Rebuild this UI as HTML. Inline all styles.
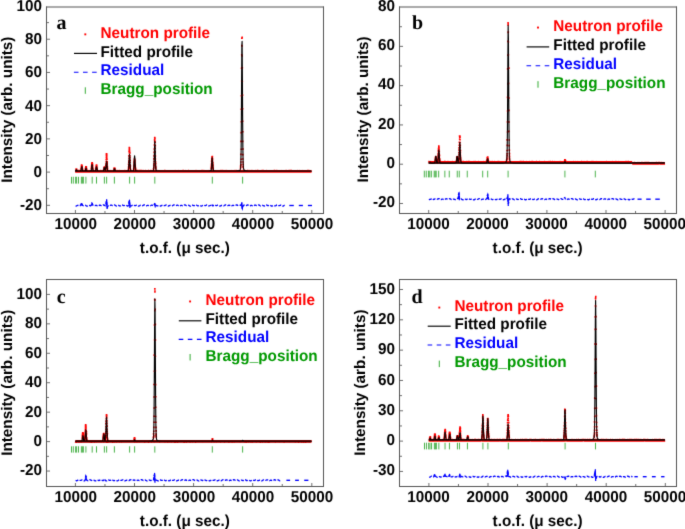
<!DOCTYPE html>
<html><head><meta charset="utf-8"><style>
html,body{margin:0;padding:0;background:#fff;}
body{width:685px;height:529px;overflow:hidden;font-family:"Liberation Sans",sans-serif;}
svg{display:block;}
</style></head><body>
<svg width="685" height="529" viewBox="0 0 685 529">
<defs><filter id="bl" x="0" y="0" width="100%" height="100%" filterUnits="userSpaceOnUse"><feConvolveMatrix order="3" kernelMatrix="0.01134 0.08382 0.01134 0.08382 0.61935 0.08382 0.01134 0.08382 0.01134" edgeMode="duplicate" preserveAlpha="false"/></filter></defs>
<rect width="685" height="529" fill="#fff"/>
<g filter="url(#bl)">
<rect x="46" y="6.5" width="278" height="1" fill="#555555"/>
<rect x="46" y="6.5" width="1" height="207.5" fill="#555555"/>
<rect x="323" y="6.5" width="1" height="207.5" fill="#555555"/>
<rect x="46" y="213" width="278" height="1" fill="#555555"/>
<rect x="47" y="204.82" width="3" height="1" fill="#6e6e6e"/>
<rect x="47" y="188.21" width="2" height="1" fill="#6e6e6e"/>
<rect x="47" y="171.6" width="3" height="1" fill="#6e6e6e"/>
<rect x="47" y="154.99" width="2" height="1" fill="#6e6e6e"/>
<rect x="47" y="138.38" width="3" height="1" fill="#6e6e6e"/>
<rect x="47" y="121.77" width="2" height="1" fill="#6e6e6e"/>
<rect x="47" y="105.16" width="3" height="1" fill="#6e6e6e"/>
<rect x="47" y="88.55" width="2" height="1" fill="#6e6e6e"/>
<rect x="47" y="71.94" width="3" height="1" fill="#6e6e6e"/>
<rect x="47" y="55.33" width="2" height="1" fill="#6e6e6e"/>
<rect x="47" y="38.72" width="3" height="1" fill="#6e6e6e"/>
<rect x="47" y="22.11" width="2" height="1" fill="#6e6e6e"/>
<text transform="translate(42.1,10.85) scale(1,1.03)" text-anchor="end" font-family="Liberation Sans, sans-serif" font-weight="bold" text-rendering="geometricPrecision" font-size="15.3" fill="#000">100</text>
<text transform="translate(42.1,44.07) scale(1,1.03)" text-anchor="end" font-family="Liberation Sans, sans-serif" font-weight="bold" text-rendering="geometricPrecision" font-size="15.3" fill="#000">80</text>
<text transform="translate(42.1,77.29) scale(1,1.03)" text-anchor="end" font-family="Liberation Sans, sans-serif" font-weight="bold" text-rendering="geometricPrecision" font-size="15.3" fill="#000">60</text>
<text transform="translate(42.1,110.51) scale(1,1.03)" text-anchor="end" font-family="Liberation Sans, sans-serif" font-weight="bold" text-rendering="geometricPrecision" font-size="15.3" fill="#000">40</text>
<text transform="translate(42.1,143.73) scale(1,1.03)" text-anchor="end" font-family="Liberation Sans, sans-serif" font-weight="bold" text-rendering="geometricPrecision" font-size="15.3" fill="#000">20</text>
<text transform="translate(42.1,176.95) scale(1,1.03)" text-anchor="end" font-family="Liberation Sans, sans-serif" font-weight="bold" text-rendering="geometricPrecision" font-size="15.3" fill="#000">0</text>
<text transform="translate(42.1,210.17) scale(1,1.03)" text-anchor="end" font-family="Liberation Sans, sans-serif" font-weight="bold" text-rendering="geometricPrecision" font-size="15.3" fill="#000">-20</text>
<rect x="74.9" y="210" width="1" height="3" fill="#6e6e6e"/>
<rect x="104.45" y="211" width="1" height="2" fill="#6e6e6e"/>
<rect x="134" y="210" width="1" height="3" fill="#6e6e6e"/>
<rect x="163.55" y="211" width="1" height="2" fill="#6e6e6e"/>
<rect x="193.1" y="210" width="1" height="3" fill="#6e6e6e"/>
<rect x="222.65" y="211" width="1" height="2" fill="#6e6e6e"/>
<rect x="252.2" y="210" width="1" height="3" fill="#6e6e6e"/>
<rect x="281.75" y="211" width="1" height="2" fill="#6e6e6e"/>
<rect x="311.3" y="210" width="1" height="3" fill="#6e6e6e"/>
<text transform="translate(75.7,229) scale(1,1.03)" text-anchor="middle" font-family="Liberation Sans, sans-serif" font-weight="bold" text-rendering="geometricPrecision" font-size="15.3" fill="#000">10000</text>
<text transform="translate(134.8,229) scale(1,1.03)" text-anchor="middle" font-family="Liberation Sans, sans-serif" font-weight="bold" text-rendering="geometricPrecision" font-size="15.3" fill="#000">20000</text>
<text transform="translate(193.9,229) scale(1,1.03)" text-anchor="middle" font-family="Liberation Sans, sans-serif" font-weight="bold" text-rendering="geometricPrecision" font-size="15.3" fill="#000">30000</text>
<text transform="translate(253,229) scale(1,1.03)" text-anchor="middle" font-family="Liberation Sans, sans-serif" font-weight="bold" text-rendering="geometricPrecision" font-size="15.3" fill="#000">40000</text>
<text transform="translate(312.1,229) scale(1,1.03)" text-anchor="middle" font-family="Liberation Sans, sans-serif" font-weight="bold" text-rendering="geometricPrecision" font-size="15.3" fill="#000">50000</text>
<text transform="translate(184.85,253.1) scale(1,1.03)" text-anchor="middle" font-family="Liberation Sans, sans-serif" font-weight="bold" text-rendering="geometricPrecision" font-size="15.3" fill="#000">t.o.f. (μ sec.)</text>
<text transform="translate(12,109.65) rotate(-90)" text-anchor="middle" font-family="Liberation Sans, sans-serif" font-weight="bold" text-rendering="geometricPrecision" font-size="15.3" fill="#000">Intensity (arb. units)</text>
<text x="56.5" y="28.5" font-family="Liberation Serif, serif" font-weight="bold" text-rendering="geometricPrecision" font-size="20" fill="#000">a</text>
<text transform="translate(100.5,37.6) scale(1,1.03)" font-family="Liberation Sans, sans-serif" font-weight="bold" text-rendering="geometricPrecision" font-size="15.3" fill="#ff0000">Neutron profile</text>
<text transform="translate(100.5,56.6) scale(1,1.03)" font-family="Liberation Sans, sans-serif" font-weight="bold" text-rendering="geometricPrecision" font-size="15.3" fill="#000000">Fitted profile</text>
<text transform="translate(100.5,75.2) scale(1,1.03)" font-family="Liberation Sans, sans-serif" font-weight="bold" text-rendering="geometricPrecision" font-size="15.3" fill="#0000ff">Residual</text>
<text transform="translate(100.5,93.8) scale(1,1.03)" font-family="Liberation Sans, sans-serif" font-weight="bold" text-rendering="geometricPrecision" font-size="15.3" fill="#009900">Bragg_position</text>
<rect x="84.35" y="33.4" width="1.9" height="1.9" fill="#ff0000"/>
<line x1="74" y1="53.4" x2="97" y2="53.4" stroke="#000" stroke-width="1.15"/>
<line x1="73.9" y1="72.2" x2="97.2" y2="72.2" stroke="#0000ff" stroke-width="1.15" stroke-dasharray="4.6,4.5"/>
<line x1="85.3" y1="87.3" x2="85.3" y2="93.8" stroke="#33aa33" stroke-width="1"/>
<line x1="71.5" y1="176.8" x2="71.5" y2="183.6" stroke="#22a022" stroke-width="1" stroke-opacity="0.8"/>
<line x1="73.3" y1="176.8" x2="73.3" y2="183.6" stroke="#22a022" stroke-width="1" stroke-opacity="0.8"/>
<line x1="75.6" y1="176.8" x2="75.6" y2="183.6" stroke="#22a022" stroke-width="1" stroke-opacity="0.8"/>
<line x1="76.6" y1="176.8" x2="76.6" y2="183.6" stroke="#22a022" stroke-width="1" stroke-opacity="0.8"/>
<line x1="78.5" y1="176.8" x2="78.5" y2="183.6" stroke="#22a022" stroke-width="1" stroke-opacity="0.8"/>
<line x1="81.4" y1="176.8" x2="81.4" y2="183.6" stroke="#22a022" stroke-width="1" stroke-opacity="0.8"/>
<line x1="82.4" y1="176.8" x2="82.4" y2="183.6" stroke="#22a022" stroke-width="1" stroke-opacity="0.8"/>
<line x1="83.4" y1="176.8" x2="83.4" y2="183.6" stroke="#22a022" stroke-width="1" stroke-opacity="0.8"/>
<line x1="85.9" y1="176.8" x2="85.9" y2="183.6" stroke="#22a022" stroke-width="1" stroke-opacity="0.8"/>
<line x1="92.2" y1="176.8" x2="92.2" y2="183.6" stroke="#22a022" stroke-width="1" stroke-opacity="0.8"/>
<line x1="96.5" y1="176.8" x2="96.5" y2="183.6" stroke="#22a022" stroke-width="1" stroke-opacity="0.8"/>
<line x1="104.4" y1="176.8" x2="104.4" y2="183.6" stroke="#22a022" stroke-width="1" stroke-opacity="0.8"/>
<line x1="106.6" y1="176.8" x2="106.6" y2="183.6" stroke="#22a022" stroke-width="1" stroke-opacity="0.8"/>
<line x1="114.4" y1="176.8" x2="114.4" y2="183.6" stroke="#22a022" stroke-width="1" stroke-opacity="0.8"/>
<line x1="129.6" y1="176.8" x2="129.6" y2="183.6" stroke="#22a022" stroke-width="1" stroke-opacity="0.8"/>
<line x1="134.6" y1="176.8" x2="134.6" y2="183.6" stroke="#22a022" stroke-width="1" stroke-opacity="0.8"/>
<line x1="154.8" y1="176.8" x2="154.8" y2="183.6" stroke="#22a022" stroke-width="1" stroke-opacity="0.8"/>
<line x1="212.3" y1="176.8" x2="212.3" y2="183.6" stroke="#22a022" stroke-width="1" stroke-opacity="0.8"/>
<line x1="242.6" y1="176.8" x2="242.6" y2="183.6" stroke="#22a022" stroke-width="1" stroke-opacity="0.8"/>
<path d="M75.1,171.31 L75.6,171.27 L76.1,171.39 L76.6,171.25 L77.1,171.36 L77.6,171.32 L78.1,171.24 L78.6,171.35 L79.1,171.24 L79.6,171.33 L80.1,171.25 L80.6,171.25 L81.1,171.33 L81.6,171.43 L82.1,171.26 L82.6,171.28 L83.1,171.38 L83.6,171.46 L84.1,171.37 L84.6,171.33 L85.1,171.46 L85.6,171.24 L86.1,171.44 L86.6,171.3 L87.1,171.26 L87.6,171.26 L88.1,171.3 L88.6,171.43 L89.1,171.27 L89.6,171.37 L90.1,171.38 L90.6,171.32 L91.1,171.36 L91.6,171.25 L92.1,171.24 L92.6,171.28 L93.1,171.39 L93.6,171.33 L94.1,171.31 L94.6,171.37 L95.1,171.34 L95.6,171.3 L96.1,171.42 L96.6,171.4 L97.1,171.29 L97.6,171.37 L98.1,171.36 L98.6,171.44 L99.1,171.41 L99.6,171.3 L100.1,171.47 L100.6,171.26 L101.1,171.33 L101.6,171.41 L102.1,171.27 L102.6,171.35 L103.1,171.24 L103.6,171.39 L104.1,171.41 L104.6,171.37 L105.1,171.44 L105.6,171.31 L106.1,171.4 L106.6,171.37 L107.1,171.37 L107.6,171.34 L108.1,171.43 L108.6,171.46 L109.1,171.34 L109.6,171.39 L110.1,171.24 L110.6,171.4 L111.1,171.39 L111.6,171.47 L112.1,171.43 L112.6,171.3 L113.1,171.32 L113.6,171.39 L114.1,171.24 L114.6,171.34 L115.1,171.27 L115.6,171.26 L116.1,171.24 L116.6,171.41 L117.1,171.26 L117.6,171.29 L118.1,171.32 L118.6,171.44 L119.1,171.25 L119.6,171.34 L120.1,171.36 L120.6,171.44 L121.1,171.43 L121.6,171.44 L122.1,171.3 L122.6,171.33 L123.1,171.32 L123.6,171.44 L124.1,171.46 L124.6,171.27 L125.1,171.27 L125.6,171.29 L126.1,171.29 L126.6,171.35 L127.1,171.37 L127.6,171.29 L128.1,171.23 L128.6,171.33 L129.1,171.32 L129.6,171.37 L130.1,171.46 L130.6,171.4 L131.1,171.35 L131.6,171.38 L132.1,171.39 L132.6,171.24 L133.1,171.45 L133.6,171.42 L134.1,171.44 L134.6,171.42 L135.1,171.32 L135.6,171.33 L136.1,171.25 L136.6,171.38 L137.1,171.24 L137.6,171.25 L138.1,171.28 L138.6,171.27 L139.1,171.31 L139.6,171.24 L140.1,171.23 L140.6,171.27 L141.1,171.25 L141.6,171.32 L142.1,171.24 L142.6,171.44 L143.1,171.38 L143.6,171.27 L144.1,171.29 L144.6,171.31 L145.1,171.32 L145.6,171.26 L146.1,171.43 L146.6,171.47 L147.1,171.34 L147.6,171.35 L148.1,171.25 L148.6,171.25 L149.1,171.31 L149.6,171.29 L150.1,171.43 L150.6,171.27 L151.1,171.24 L151.6,171.46 L152.1,171.36 L152.6,171.27 L153.1,171.36 L153.6,171.24 L154.1,171.36 L154.6,171.46 L155.1,171.44 L155.6,171.4 L156.1,171.29 L156.6,171.32 L157.1,171.27 L157.6,171.42 L158.1,171.36 L158.6,171.42 L159.1,171.31 L159.6,171.28 L160.1,171.42 L160.6,171.47 L161.1,171.43 L161.6,171.42 L162.1,171.43 L162.6,171.41 L163.1,171.28 L163.6,171.35 L164.1,171.32 L164.6,171.24 L165.1,171.24 L165.6,171.3 L166.1,171.29 L166.6,171.4 L167.1,171.46 L167.6,171.34 L168.1,171.45 L168.6,171.47 L169.1,171.46 L169.6,171.32 L170.1,171.28 L170.6,171.28 L171.1,171.28 L171.6,171.28 L172.1,171.38 L172.6,171.45 L173.1,171.43 L173.6,171.35 L174.1,171.39 L174.6,171.42 L175.1,171.25 L175.6,171.39 L176.1,171.45 L176.6,171.42 L177.1,171.41 L177.6,171.34 L178.1,171.27 L178.6,171.42 L179.1,171.31 L179.6,171.42 L180.1,171.46 L180.6,171.33 L181.1,171.33 L181.6,171.46 L182.1,171.4 L182.6,171.27 L183.1,171.26 L183.6,171.27 L184.1,171.45 L184.6,171.42 L185.1,171.27 L185.6,171.43 L186.1,171.47 L186.6,171.39 L187.1,171.31 L187.6,171.36 L188.1,171.26 L188.6,171.23 L189.1,171.46 L189.6,171.39 L190.1,171.36 L190.6,171.45 L191.1,171.33 L191.6,171.44 L192.1,171.43 L192.6,171.28 L193.1,171.29 L193.6,171.3 L194.1,171.29 L194.6,171.37 L195.1,171.29 L195.6,171.33 L196.1,171.26 L196.6,171.45 L197.1,171.31 L197.6,171.34 L198.1,171.37 L198.6,171.45 L199.1,171.33 L199.6,171.45 L200.1,171.35 L200.6,171.36 L201.1,171.36 L201.6,171.23 L202.1,171.34 L202.6,171.27 L203.1,171.23 L203.6,171.42 L204.1,171.27 L204.6,171.34 L205.1,171.4 L205.6,171.36 L206.1,171.31 L206.6,171.35 L207.1,171.36 L207.6,171.42 L208.1,171.26 L208.6,171.36 L209.1,171.29 L209.6,171.3 L210.1,171.42 L210.6,171.35 L211.1,171.36 L211.6,171.41 L212.1,171.45 L212.6,171.34 L213.1,171.38 L213.6,171.35 L214.1,171.35 L214.6,171.4 L215.1,171.34 L215.6,171.36 L216.1,171.34 L216.6,171.46 L217.1,171.4 L217.6,171.44 L218.1,171.46 L218.6,171.29 L219.1,171.36 L219.6,171.46 L220.1,171.43 L220.6,171.26 L221.1,171.26 L221.6,171.34 L222.1,171.25 L222.6,171.29 L223.1,171.25 L223.6,171.39 L224.1,171.42 L224.6,171.45 L225.1,171.27 L225.6,171.4 L226.1,171.39 L226.6,171.26 L227.1,171.44 L227.6,171.46 L228.1,171.28 L228.6,171.46 L229.1,171.33 L229.6,171.35 L230.1,171.47 L230.6,171.43 L231.1,171.27 L231.6,171.33 L232.1,171.35 L232.6,171.31 L233.1,171.28 L233.6,171.31 L234.1,171.4 L234.6,171.23 L235.1,171.36 L235.6,171.34 L236.1,171.23 L236.6,171.31 L237.1,171.38 L237.6,171.35 L238.1,171.25 L238.6,171.47 L239.1,171.42 L239.6,171.46 L240.1,171.26 L240.6,171.29 L241.1,171.24 L241.6,171.42 L242.1,171.29 L242.6,171.26 L243.1,171.33 L243.6,171.45 L244.1,171.43 L244.6,171.29 L245.1,171.27 L245.6,171.45 L246.1,171.37 L246.6,171.4 L247.1,171.25 L247.6,171.24 L248.1,171.4 L248.6,171.33 L249.1,171.25 L249.6,171.46 L250.1,171.38 L250.6,171.42 L251.1,171.25 L251.6,171.44 L252.1,171.25 L252.6,171.44 L253.1,171.34 L253.6,171.31 L254.1,171.36 L254.6,171.45 L255.1,171.29 L255.6,171.26 L256.1,171.36 L256.6,171.29 L257.1,171.26 L257.6,171.27 L258.1,171.24 L258.6,171.28 L259.1,171.3 L259.6,171.3 L260.1,171.41 L260.6,171.3 L261.1,171.35 L261.6,171.27 L262.1,171.31 L262.6,171.23 L263.1,171.29 L263.6,171.23 L264.1,171.41 L264.6,171.36 L265.1,171.28 L265.6,171.34 L266.1,171.45 L266.6,171.26 L267.1,171.43 L267.6,171.33 L268.1,171.35 L268.6,171.43 L269.1,171.32 L269.6,171.35 L270.1,171.4 L270.6,171.47 L271.1,171.31 L271.6,171.43 L272.1,171.4 L272.6,171.38 L273.1,171.33 L273.6,171.31 L274.1,171.24 L274.6,171.26 L275.1,171.25 L275.6,171.41 L276.1,171.29 L276.6,171.27 L277.1,171.25 L277.6,171.43 L278.1,171.44 L278.6,171.39 L279.1,171.3 L279.6,171.29 L280.1,171.3 L280.6,171.34 L281.1,171.27 L281.6,171.34 L282.1,171.29 L282.6,171.46 L283.1,171.46 L283.6,171.36 L284.1,171.29 L284.6,171.46 L285.1,171.3 L285.6,171.32 L286.1,171.23 L286.6,171.32 L287.1,171.34 L287.6,171.35 L288.1,171.28 L288.6,171.35 L289.1,171.23 L289.6,171.29 L290.1,171.25 L290.6,171.33 L291.1,171.24 L291.6,171.24 L292.1,171.3 L292.6,171.29 L293.1,171.37 L293.6,171.36 L294.1,171.41 L294.6,171.39 L295.1,171.4 L295.6,171.44 L296.1,171.32 L296.6,171.31 L297.1,171.47 L297.6,171.27 L298.1,171.4 L298.6,171.38 L299.1,171.24 L299.6,171.43 L300.1,171.44 L300.6,171.38 L301.1,171.41 L301.6,171.42 L302.1,171.26 L302.6,171.36 L303.1,171.35 L303.6,171.43 L304.1,171.42 L304.6,171.43 L305.1,171.37 L305.6,171.44 L306.1,171.39 L306.6,171.4 L307.1,171.29 L307.6,171.24 L308.1,171.26 L308.6,171.32 L309.1,171.26 L309.6,171.43 L310.1,171.36 L310.6,171.38 L311.1,171.38 L311.6,171.39" fill="none" stroke="#ff0000" stroke-width="2.8" stroke-linejoin="round"/>
<path d="M75.34,168.34h1.6v1.6h-1.6zM75.72,168.42h1.6v1.6h-1.6zM75.71,168.2h1.6v1.6h-1.6zM75.61,168.34h1.6v1.6h-1.6zM75.76,168.49h1.6v1.6h-1.6zM80.27,167.9h1.6v1.6h-1.6zM80.32,167.74h1.6v1.6h-1.6zM80.71,167.13h1.6v1.6h-1.6zM80.55,166.33h1.6v1.6h-1.6zM80.75,165.69h1.6v1.6h-1.6zM80.81,165.32h1.6v1.6h-1.6zM80.67,164.79h1.6v1.6h-1.6zM80.82,164.16h1.6v1.6h-1.6zM80.92,164.46h1.6v1.6h-1.6zM80.88,164.45h1.6v1.6h-1.6zM81.07,164.4h1.6v1.6h-1.6zM81.32,165.26h1.6v1.6h-1.6zM81.24,165.82h1.6v1.6h-1.6zM81.39,166.34h1.6v1.6h-1.6zM81.33,166.95h1.6v1.6h-1.6zM81.44,167.85h1.6v1.6h-1.6zM81.81,168.46h1.6v1.6h-1.6zM84.62,168.08h1.6v1.6h-1.6zM84.91,168.14h1.6v1.6h-1.6zM84.71,167.44h1.6v1.6h-1.6zM85.06,166.83h1.6v1.6h-1.6zM84.99,166.42h1.6v1.6h-1.6zM85.05,166.05h1.6v1.6h-1.6zM84.97,166.37h1.6v1.6h-1.6zM85.2,166.21h1.6v1.6h-1.6zM85.36,166.33h1.6v1.6h-1.6zM85.52,166.11h1.6v1.6h-1.6zM85.25,166.6h1.6v1.6h-1.6zM85.52,166.7h1.6v1.6h-1.6zM85.52,167.44h1.6v1.6h-1.6zM85.62,167.71h1.6v1.6h-1.6zM85.9,168.27h1.6v1.6h-1.6zM90.68,167.71h1.6v1.6h-1.6zM90.51,167.56h1.6v1.6h-1.6zM90.83,166.85h1.6v1.6h-1.6zM90.74,166h1.6v1.6h-1.6zM90.86,164.77h1.6v1.6h-1.6zM91.02,164.35h1.6v1.6h-1.6zM91.03,163.15h1.6v1.6h-1.6zM90.96,162.48h1.6v1.6h-1.6zM91.35,161.96h1.6v1.6h-1.6zM91.47,161.95h1.6v1.6h-1.6zM91.29,162.06h1.6v1.6h-1.6zM91.34,162.64h1.6v1.6h-1.6zM91.72,163.16h1.6v1.6h-1.6zM91.74,164.27h1.6v1.6h-1.6zM91.87,164.95h1.6v1.6h-1.6zM91.8,166.02h1.6v1.6h-1.6zM91.68,166.72h1.6v1.6h-1.6zM91.92,167.5h1.6v1.6h-1.6zM92.08,168.18h1.6v1.6h-1.6zM94.88,168.11h1.6v1.6h-1.6zM94.99,167.96h1.6v1.6h-1.6zM95.16,167.07h1.6v1.6h-1.6zM95.4,166.34h1.6v1.6h-1.6zM95.28,166.17h1.6v1.6h-1.6zM95.38,165.42h1.6v1.6h-1.6zM95.5,164.92h1.6v1.6h-1.6zM95.48,164.38h1.6v1.6h-1.6zM95.86,164.3h1.6v1.6h-1.6zM95.67,164.6h1.6v1.6h-1.6zM96.06,165.15h1.6v1.6h-1.6zM95.8,165.28h1.6v1.6h-1.6zM95.86,165.66h1.6v1.6h-1.6zM95.94,166.36h1.6v1.6h-1.6zM96.08,166.92h1.6v1.6h-1.6zM96.41,167.73h1.6v1.6h-1.6zM96.31,168.4h1.6v1.6h-1.6zM103.13,168.16h1.6v1.6h-1.6zM103.14,167.73h1.6v1.6h-1.6zM103.19,167.13h1.6v1.6h-1.6zM103.21,167.34h1.6v1.6h-1.6zM103.49,166.76h1.6v1.6h-1.6zM103.41,166.8h1.6v1.6h-1.6zM103.5,166.35h1.6v1.6h-1.6zM103.66,166.5h1.6v1.6h-1.6zM103.9,167.05h1.6v1.6h-1.6zM103.65,167.28h1.6v1.6h-1.6zM104,167.11h1.6v1.6h-1.6zM103.99,168.06h1.6v1.6h-1.6zM103.88,168.27h1.6v1.6h-1.6zM105.01,168.23h1.6v1.6h-1.6zM105.06,167.75h1.6v1.6h-1.6zM104.9,166.88h1.6v1.6h-1.6zM104.94,165.13h1.6v1.6h-1.6zM105.23,163.98h1.6v1.6h-1.6zM105.33,162.66h1.6v1.6h-1.6zM105.43,160.7h1.6v1.6h-1.6zM105.42,158.74h1.6v1.6h-1.6zM105.59,156.64h1.6v1.6h-1.6zM105.73,155.19h1.6v1.6h-1.6zM105.56,154.24h1.6v1.6h-1.6zM105.62,152.99h1.6v1.6h-1.6zM105.88,153.11h1.6v1.6h-1.6zM105.71,152.98h1.6v1.6h-1.6zM105.99,154.14h1.6v1.6h-1.6zM105.93,155.31h1.6v1.6h-1.6zM105.92,157.07h1.6v1.6h-1.6zM106.18,158.62h1.6v1.6h-1.6zM106.34,160.92h1.6v1.6h-1.6zM106.35,162.62h1.6v1.6h-1.6zM106.34,163.79h1.6v1.6h-1.6zM106.6,165.69h1.6v1.6h-1.6zM106.41,166.45h1.6v1.6h-1.6zM106.75,167.54h1.6v1.6h-1.6zM106.66,168.25h1.6v1.6h-1.6zM113.47,168.45h1.6v1.6h-1.6zM113.19,167.85h1.6v1.6h-1.6zM113.43,167.63h1.6v1.6h-1.6zM113.42,167.62h1.6v1.6h-1.6zM113.72,167.54h1.6v1.6h-1.6zM113.58,167.3h1.6v1.6h-1.6zM113.7,167.65h1.6v1.6h-1.6zM113.75,167.71h1.6v1.6h-1.6zM114.04,167.56h1.6v1.6h-1.6zM114.2,167.89h1.6v1.6h-1.6zM113.97,168.34h1.6v1.6h-1.6zM127.63,168.15h1.6v1.6h-1.6zM127.92,167.66h1.6v1.6h-1.6zM127.78,166.31h1.6v1.6h-1.6zM128.09,165.05h1.6v1.6h-1.6zM127.8,163.4h1.6v1.6h-1.6zM128.02,161.43h1.6v1.6h-1.6zM128.29,159.86h1.6v1.6h-1.6zM128.42,157.38h1.6v1.6h-1.6zM128.23,155.09h1.6v1.6h-1.6zM128.55,152.11h1.6v1.6h-1.6zM128.27,150.43h1.6v1.6h-1.6zM128.49,148.65h1.6v1.6h-1.6zM128.55,147.28h1.6v1.6h-1.6zM128.5,146.71h1.6v1.6h-1.6zM128.72,147.19h1.6v1.6h-1.6zM128.71,148.9h1.6v1.6h-1.6zM128.82,150.61h1.6v1.6h-1.6zM129.15,152.25h1.6v1.6h-1.6zM129.07,155.01h1.6v1.6h-1.6zM129.17,156.86h1.6v1.6h-1.6zM129.43,159.47h1.6v1.6h-1.6zM129.29,161.52h1.6v1.6h-1.6zM129.23,163.91h1.6v1.6h-1.6zM129.62,165.19h1.6v1.6h-1.6zM129.4,166.71h1.6v1.6h-1.6zM129.49,167.26h1.6v1.6h-1.6zM129.64,168.59h1.6v1.6h-1.6zM133.08,168.56h1.6v1.6h-1.6zM132.91,167.63h1.6v1.6h-1.6zM133.13,167.19h1.6v1.6h-1.6zM133.25,165.74h1.6v1.6h-1.6zM133.15,164.64h1.6v1.6h-1.6zM133.42,163.19h1.6v1.6h-1.6zM133.45,162.54h1.6v1.6h-1.6zM133.29,161.32h1.6v1.6h-1.6zM133.55,159.69h1.6v1.6h-1.6zM133.82,159.32h1.6v1.6h-1.6zM133.62,158.32h1.6v1.6h-1.6zM133.8,158.15h1.6v1.6h-1.6zM133.75,158.72h1.6v1.6h-1.6zM134.06,159.21h1.6v1.6h-1.6zM134.15,160.12h1.6v1.6h-1.6zM134.05,161.08h1.6v1.6h-1.6zM134.14,162.12h1.6v1.6h-1.6zM134.11,163.72h1.6v1.6h-1.6zM134.46,164.56h1.6v1.6h-1.6zM134.27,165.73h1.6v1.6h-1.6zM134.54,166.59h1.6v1.6h-1.6zM134.79,167.62h1.6v1.6h-1.6zM134.88,168.65h1.6v1.6h-1.6zM152.71,168.06h1.6v1.6h-1.6zM152.96,167.14h1.6v1.6h-1.6zM153.02,166.43h1.6v1.6h-1.6zM153.09,164.67h1.6v1.6h-1.6zM153.27,163.06h1.6v1.6h-1.6zM153.42,160.86h1.6v1.6h-1.6zM153.21,158.07h1.6v1.6h-1.6zM153.36,155.1h1.6v1.6h-1.6zM153.47,151.49h1.6v1.6h-1.6zM153.48,148.13h1.6v1.6h-1.6zM153.58,144.27h1.6v1.6h-1.6zM153.91,141.1h1.6v1.6h-1.6zM153.77,139.04h1.6v1.6h-1.6zM154.12,137.25h1.6v1.6h-1.6zM153.89,136.81h1.6v1.6h-1.6zM154.14,137.66h1.6v1.6h-1.6zM154,139.44h1.6v1.6h-1.6zM154.37,141.4h1.6v1.6h-1.6zM154.49,144.81h1.6v1.6h-1.6zM154.32,147.52h1.6v1.6h-1.6zM154.36,151.12h1.6v1.6h-1.6zM154.59,155.2h1.6v1.6h-1.6zM154.59,158.27h1.6v1.6h-1.6zM154.7,160.94h1.6v1.6h-1.6zM154.91,162.81h1.6v1.6h-1.6zM154.72,165.14h1.6v1.6h-1.6zM155.01,166.36h1.6v1.6h-1.6zM154.99,167.22h1.6v1.6h-1.6zM155,167.98h1.6v1.6h-1.6zM210.56,167.87h1.6v1.6h-1.6zM210.48,167.32h1.6v1.6h-1.6zM210.61,165.91h1.6v1.6h-1.6zM210.63,165.16h1.6v1.6h-1.6zM210.72,163.57h1.6v1.6h-1.6zM210.94,162.44h1.6v1.6h-1.6zM210.84,160.4h1.6v1.6h-1.6zM211.1,159.15h1.6v1.6h-1.6zM211,158h1.6v1.6h-1.6zM211.32,156.58h1.6v1.6h-1.6zM211.23,156.07h1.6v1.6h-1.6zM211.58,155.75h1.6v1.6h-1.6zM211.51,156h1.6v1.6h-1.6zM211.53,156.72h1.6v1.6h-1.6zM211.84,158.17h1.6v1.6h-1.6zM211.6,159.13h1.6v1.6h-1.6zM211.68,160.87h1.6v1.6h-1.6zM212.04,161.88h1.6v1.6h-1.6zM212.09,163.64h1.6v1.6h-1.6zM212.19,164.98h1.6v1.6h-1.6zM211.99,166.2h1.6v1.6h-1.6zM212.22,166.91h1.6v1.6h-1.6zM212.44,168.11h1.6v1.6h-1.6zM239.81,167.02h1.6v1.6h-1.6zM239.84,166.43h1.6v1.6h-1.6zM239.83,165.17h1.6v1.6h-1.6zM240.17,163.8h1.6v1.6h-1.6zM240.08,161.21h1.6v1.6h-1.6zM240.35,158.49h1.6v1.6h-1.6zM240.09,153.62h1.6v1.6h-1.6zM240.51,148.43h1.6v1.6h-1.6zM240.22,140.59h1.6v1.6h-1.6zM240.44,131.87h1.6v1.6h-1.6zM240.61,120.98h1.6v1.6h-1.6zM240.5,108.48h1.6v1.6h-1.6zM240.61,94.91h1.6v1.6h-1.6zM240.94,80.28h1.6v1.6h-1.6zM240.75,67.38h1.6v1.6h-1.6zM240.92,53.92h1.6v1.6h-1.6zM240.99,44.67h1.6v1.6h-1.6zM241.02,37.4h1.6v1.6h-1.6zM241.36,36.5h1.6v1.6h-1.6zM241.3,37.22h1.6v1.6h-1.6zM241.18,45.17h1.6v1.6h-1.6zM241.29,55.15h1.6v1.6h-1.6zM241.54,66.96h1.6v1.6h-1.6zM241.52,80.66h1.6v1.6h-1.6zM241.71,94.36h1.6v1.6h-1.6zM241.82,107.95h1.6v1.6h-1.6zM241.82,120.43h1.6v1.6h-1.6zM241.97,130.91h1.6v1.6h-1.6zM241.89,140.59h1.6v1.6h-1.6zM242.19,148.27h1.6v1.6h-1.6zM242.03,153.83h1.6v1.6h-1.6zM242.08,158.24h1.6v1.6h-1.6zM242.29,161.22h1.6v1.6h-1.6zM242.38,163.51h1.6v1.6h-1.6zM242.3,165.41h1.6v1.6h-1.6zM242.39,166.6h1.6v1.6h-1.6z" fill="#ff0000"/>
<line x1="75.6" y1="171.25" x2="311.3" y2="171.25" stroke="#000" stroke-width="1.6"/>
<path d="M75.1,171.2 L75.35,171.15 L75.6,170.98 L75.85,170.62 L76.1,170.08 L76.35,169.6 L76.6,169.54 L76.85,169.96 L77.1,170.51 L77.35,170.91 L77.6,171.11 L77.85,171.18 L78.1,171.21 L78.35,171.21 L78.6,171.21 L78.85,171.21 L79.1,171.21 L79.35,171.21 L79.6,171.2 L79.85,171.19 L80.1,171.18 L80.35,171.14 L80.6,171.01 L80.85,170.63 L81.1,169.77 L81.35,168.37 L81.6,166.96 L81.85,166.52 L82.1,167.46 L82.35,168.98 L82.6,170.18 L82.85,170.82 L83.1,171.07 L83.35,171.14 L83.6,171.17 L83.85,171.17 L84.1,171.18 L84.35,171.17 L84.6,171.14 L84.85,171.03 L85.1,170.73 L85.35,170.06 L85.6,169.06 L85.85,168.17 L86.1,168.07 L86.35,168.86 L86.6,169.89 L86.85,170.63 L87.1,171 L87.35,171.14 L87.6,171.18 L87.85,171.2 L88.1,171.2 L88.35,171.2 L88.6,171.21 L88.85,171.21 L89.1,171.2 L89.35,171.2 L89.6,171.19 L89.85,171.19 L90.1,171.17 L90.35,171.15 L90.6,171.11 L90.85,170.96 L91.1,170.52 L91.35,169.46 L91.6,167.6 L91.85,165.49 L92.1,164.49 L92.35,165.49 L92.6,167.6 L92.85,169.46 L93.1,170.52 L93.35,170.95 L93.6,171.09 L93.85,171.13 L94.1,171.15 L94.35,171.15 L94.6,171.15 L94.85,171.14 L95.1,171.09 L95.35,170.94 L95.6,170.49 L95.85,169.52 L96.1,168.05 L96.35,166.75 L96.6,166.61 L96.85,167.75 L97.1,169.26 L97.35,170.36 L97.6,170.91 L97.85,171.11 L98.1,171.17 L98.35,171.19 L98.6,171.21 L98.85,171.21 L99.1,171.21 L99.35,171.22 L99.6,171.22 L99.85,171.22 L100.1,171.23 L100.35,171.23 L100.6,171.23 L100.85,171.23 L101.1,171.22 L101.35,171.21 L101.6,171.2 L101.85,171.2 L102.1,171.2 L102.35,171.19 L102.6,171.17 L102.85,171.15 L103.1,171.08 L103.35,170.86 L103.6,170.32 L103.85,169.31 L104.1,168.04 L104.35,167.24 L104.6,167.58 L104.85,168.73 L105.1,169.82 L105.35,170.32 L105.6,169.97 L105.85,168.46 L106.1,165.67 L106.35,162.47 L106.6,160.97 L106.85,162.49 L107.1,165.7 L107.35,168.53 L107.6,170.15 L107.85,170.81 L108.1,171.03 L108.35,171.1 L108.6,171.14 L108.85,171.16 L109.1,171.17 L109.35,171.18 L109.6,171.19 L109.85,171.2 L110.1,171.21 L110.35,171.21 L110.6,171.21 L110.85,171.22 L111.1,171.22 L111.35,171.22 L111.6,171.22 L111.85,171.22 L112.1,171.23 L112.35,171.23 L112.6,171.22 L112.85,171.21 L113.1,171.18 L113.35,171.09 L113.6,170.82 L113.85,170.26 L114.1,169.41 L114.35,168.66 L114.6,168.57 L114.85,169.23 L115.1,170.1 L115.35,170.74 L115.6,171.05 L115.85,171.17 L116.1,171.2 L116.35,171.22 L116.6,171.22 L116.85,171.23 L117.1,171.23 L117.35,171.24 L117.6,171.24 L117.85,171.24 L118.1,171.24 L118.35,171.24 L118.6,171.24 L118.85,171.24 L119.1,171.24 L119.35,171.24 L119.6,171.25 L119.85,171.25 L120.1,171.25 L120.35,171.25 L120.6,171.25 L120.85,171.25 L121.1,171.25 L121.35,171.25 L121.6,171.25 L121.85,171.25 L122.1,171.25 L122.35,171.25 L122.6,171.25 L122.85,171.25 L123.1,171.25 L123.35,171.25 L123.6,171.25 L123.85,171.25 L124.1,171.22 L124.35,171.22 L124.6,171.22 L124.85,171.22 L125.1,171.21 L125.35,171.21 L125.6,171.2 L125.85,171.19 L126.1,171.19 L126.35,171.18 L126.6,171.16 L126.85,171.15 L127.1,171.12 L127.35,171.09 L127.6,171.05 L127.85,170.98 L128.1,170.79 L128.35,170.21 L128.6,168.55 L128.85,164.96 L129.1,159.57 L129.35,154.76 L129.6,154.22 L129.85,158.42 L130.1,163.95 L130.35,167.97 L130.6,169.95 L130.85,170.68 L131.1,170.9 L131.35,170.98 L131.6,171.01 L131.85,171.03 L132.1,171.04 L132.35,171.03 L132.6,171.01 L132.85,170.98 L133.1,170.88 L133.35,170.56 L133.6,169.57 L133.85,167.14 L134.1,162.88 L134.35,158.05 L134.6,155.77 L134.85,158.06 L135.1,162.92 L135.35,167.18 L135.6,169.62 L135.85,170.61 L136.1,170.93 L136.35,171.04 L136.6,171.09 L136.85,171.12 L137.1,171.15 L137.35,171.16 L137.6,171.18 L137.85,171.19 L138.1,171.2 L138.35,171.2 L138.6,171.21 L138.85,171.21 L139.1,171.22 L139.35,171.22 L139.6,171.22 L139.85,171.23 L140.1,171.25 L140.35,171.25 L140.6,171.25 L140.85,171.25 L141.1,171.25 L141.35,171.25 L141.6,171.25 L141.85,171.25 L142.1,171.25 L142.35,171.25 L142.6,171.25 L142.85,171.25 L143.1,171.25 L143.35,171.25 L143.6,171.25 L143.85,171.25 L144.1,171.25 L144.35,171.25 L144.6,171.25 L144.85,171.25 L145.1,171.25 L145.35,171.25 L145.6,171.25 L145.85,171.25 L146.1,171.25 L146.35,171.25 L146.6,171.25 L146.85,171.25 L147.1,171.25 L147.35,171.25 L147.6,171.25 L147.85,171.25 L148.1,171.25 L148.35,171.25 L148.6,171.25 L148.85,171.25 L149.1,171.25 L149.35,171.25 L149.6,171.2 L149.85,171.2 L150.1,171.19 L150.35,171.18 L150.6,171.18 L150.85,171.17 L151.1,171.16 L151.35,171.14 L151.6,171.12 L151.85,171.1 L152.1,171.08 L152.35,171.04 L152.6,170.99 L152.85,170.92 L153.1,170.81 L153.35,170.55 L153.6,169.75 L153.85,167.37 L154.1,161.89 L154.35,152.98 L154.6,143.97 L154.85,141.2 L155.1,147.19 L155.35,156.84 L155.6,164.53 L155.85,168.61 L156.1,170.19 L156.35,170.69 L156.6,170.87 L156.85,170.95 L157.1,171.01 L157.35,171.06 L157.6,171.09 L157.85,171.11 L158.1,171.13 L158.35,171.15 L158.6,171.16 L158.85,171.17 L159.1,171.18 L159.35,171.19 L159.6,171.19 L159.85,171.2 L160.1,171.2 L160.35,171.25 L160.6,171.25 L160.85,171.25 L161.1,171.25 L161.35,171.25 L161.6,171.25 L161.85,171.25 L162.1,171.25 L162.35,171.25 L162.6,171.25 L162.85,171.25 L163.1,171.25 L163.35,171.25 L163.6,171.25 L163.85,171.25 L164.1,171.25 L164.35,171.25 L164.6,171.25 L164.85,171.25 L165.1,171.25 L165.35,171.25 L165.6,171.25 L165.85,171.25 L166.1,171.25 L166.35,171.25 L166.6,171.25 L166.85,171.25 L167.1,171.25 L167.35,171.25 L167.6,171.25 L167.85,171.25 L168.1,171.25 L168.35,171.25 L168.6,171.25 L168.85,171.25 L169.1,171.25 L169.35,171.25 L169.6,171.25 L169.85,171.25 L170.1,171.25 L170.35,171.25 L170.6,171.25 L170.85,171.25 L171.1,171.25 L171.35,171.25 L171.6,171.25 L171.85,171.25 L172.1,171.25 L172.35,171.25 L172.6,171.25 L172.85,171.25 L173.1,171.25 L173.35,171.25 L173.6,171.25 L173.85,171.25 L174.1,171.25 L174.35,171.25 L174.6,171.25 L174.85,171.25 L175.1,171.25 L175.35,171.25 L175.6,171.25 L175.85,171.25 L176.1,171.25 L176.35,171.25 L176.6,171.25 L176.85,171.25 L177.1,171.25 L177.35,171.25 L177.6,171.25 L177.85,171.25 L178.1,171.25 L178.35,171.25 L178.6,171.25 L178.85,171.25 L179.1,171.25 L179.35,171.25 L179.6,171.25 L179.85,171.25 L180.1,171.25 L180.35,171.25 L180.6,171.25 L180.85,171.25 L181.1,171.25 L181.35,171.25 L181.6,171.25 L181.85,171.25 L182.1,171.25 L182.35,171.25 L182.6,171.25 L182.85,171.25 L183.1,171.25 L183.35,171.25 L183.6,171.25 L183.85,171.25 L184.1,171.25 L184.35,171.25 L184.6,171.25 L184.85,171.25 L185.1,171.25 L185.35,171.25 L185.6,171.25 L185.85,171.25 L186.1,171.25 L186.35,171.25 L186.6,171.25 L186.85,171.25 L187.1,171.25 L187.35,171.25 L187.6,171.25 L187.85,171.25 L188.1,171.25 L188.35,171.25 L188.6,171.25 L188.85,171.25 L189.1,171.25 L189.35,171.25 L189.6,171.25 L189.85,171.25 L190.1,171.25 L190.35,171.25 L190.6,171.25 L190.85,171.25 L191.1,171.25 L191.35,171.25 L191.6,171.25 L191.85,171.25 L192.1,171.25 L192.35,171.25 L192.6,171.25 L192.85,171.25 L193.1,171.25 L193.35,171.25 L193.6,171.25 L193.85,171.25 L194.1,171.25 L194.35,171.25 L194.6,171.25 L194.85,171.25 L195.1,171.25 L195.35,171.25 L195.6,171.25 L195.85,171.25 L196.1,171.25 L196.35,171.25 L196.6,171.25 L196.85,171.25 L197.1,171.25 L197.35,171.25 L197.6,171.25 L197.85,171.25 L198.1,171.25 L198.35,171.25 L198.6,171.25 L198.85,171.25 L199.1,171.25 L199.35,171.25 L199.6,171.25 L199.85,171.25 L200.1,171.25 L200.35,171.25 L200.6,171.25 L200.85,171.25 L201.1,171.25 L201.35,171.25 L201.6,171.25 L201.85,171.25 L202.1,171.25 L202.35,171.25 L202.6,171.25 L202.85,171.25 L203.1,171.25 L203.35,171.25 L203.6,171.25 L203.85,171.25 L204.1,171.25 L204.35,171.25 L204.6,171.25 L204.85,171.25 L205.1,171.25 L205.35,171.25 L205.6,171.25 L205.85,171.25 L206.1,171.25 L206.35,171.25 L206.6,171.25 L206.85,171.23 L207.1,171.23 L207.35,171.22 L207.6,171.22 L207.85,171.22 L208.1,171.21 L208.35,171.21 L208.6,171.2 L208.85,171.2 L209.1,171.19 L209.35,171.18 L209.6,171.16 L209.85,171.15 L210.1,171.12 L210.35,171.09 L210.6,171.02 L210.85,170.84 L211.1,170.26 L211.35,168.69 L211.6,165.52 L211.85,161.16 L212.1,157.85 L212.35,158.28 L212.6,162.05 L212.85,166.29 L213.1,169.12 L213.35,170.43 L213.6,170.89 L213.85,171.04 L214.1,171.09 L214.35,171.13 L214.6,171.15 L214.85,171.17 L215.1,171.18 L215.35,171.19 L215.6,171.2 L215.85,171.21 L216.1,171.21 L216.35,171.22 L216.6,171.22 L216.85,171.22 L217.1,171.23 L217.35,171.23 L217.6,171.25 L217.85,171.25 L218.1,171.25 L218.35,171.25 L218.6,171.25 L218.85,171.25 L219.1,171.25 L219.35,171.25 L219.6,171.25 L219.85,171.25 L220.1,171.25 L220.35,171.25 L220.6,171.25 L220.85,171.25 L221.1,171.25 L221.35,171.25 L221.6,171.25 L221.85,171.25 L222.1,171.25 L222.35,171.25 L222.6,171.25 L222.85,171.25 L223.1,171.25 L223.35,171.25 L223.6,171.25 L223.85,171.25 L224.1,171.25 L224.35,171.25 L224.6,171.25 L224.85,171.25 L225.1,171.25 L225.35,171.25 L225.6,171.25 L225.85,171.25 L226.1,171.25 L226.35,171.25 L226.6,171.25 L226.85,171.25 L227.1,171.25 L227.35,171.25 L227.6,171.25 L227.85,171.25 L228.1,171.25 L228.35,171.25 L228.6,171.25 L228.85,171.25 L229.1,171.25 L229.35,171.25 L229.6,171.25 L229.85,171.25 L230.1,171.25 L230.35,171.25 L230.6,171.25 L230.85,171.25 L231.1,171.25 L231.35,171.25 L231.6,171.25 L231.85,171.25 L232.1,171.25 L232.35,171.25 L232.6,171.25 L232.85,171.25 L233.1,171.25 L233.35,171.25 L233.6,171.25 L233.85,171.25 L234.1,171.25 L234.35,171.25 L234.6,171.25 L234.85,171.25 L235.1,171.25 L235.35,171.25 L235.6,171.25 L235.85,171.25 L236.1,171.25 L236.35,171.25 L236.6,171.05 L236.85,171.03 L237.1,171.01 L237.35,170.98 L237.6,170.95 L237.85,170.92 L238.1,170.87 L238.35,170.82 L238.6,170.76 L238.85,170.68 L239.1,170.58 L239.35,170.45 L239.6,170.29 L239.85,170.06 L240.1,169.74 L240.35,169.18 L240.6,167.77 L240.85,163.31 L241.1,150.63 L241.35,123.18 L241.6,82.05 L241.85,45.55 L242.1,41.43 L242.35,73.48 L242.6,115.74 L242.85,146.48 L243.1,161.66 L243.35,167.23 L243.6,169 L243.85,169.66 L244.1,170.01 L244.35,170.25 L244.6,170.42 L244.85,170.56 L245.1,170.66 L245.35,170.74 L245.6,170.81 L245.85,170.86 L246.1,170.91 L246.35,170.95 L246.6,170.98 L246.85,171.01 L247.1,171.03 L247.35,171.05 L247.6,171.25 L247.85,171.25 L248.1,171.25 L248.35,171.25 L248.6,171.25 L248.85,171.25 L249.1,171.25 L249.35,171.25 L249.6,171.25 L249.85,171.25 L250.1,171.25 L250.35,171.25 L250.6,171.25 L250.85,171.25 L251.1,171.25 L251.35,171.25 L251.6,171.25 L251.85,171.25 L252.1,171.25 L252.35,171.25 L252.6,171.25 L252.85,171.25 L253.1,171.25 L253.35,171.25 L253.6,171.25 L253.85,171.25 L254.1,171.25 L254.35,171.25 L254.6,171.25 L254.85,171.25 L255.1,171.25 L255.35,171.25 L255.6,171.25 L255.85,171.25 L256.1,171.25 L256.35,171.25 L256.6,171.25 L256.85,171.25 L257.1,171.25 L257.35,171.25 L257.6,171.25 L257.85,171.25 L258.1,171.25 L258.35,171.25 L258.6,171.25 L258.85,171.25 L259.1,171.25 L259.35,171.25 L259.6,171.25 L259.85,171.25 L260.1,171.25 L260.35,171.25 L260.6,171.25 L260.85,171.25 L261.1,171.25 L261.35,171.25 L261.6,171.25 L261.85,171.25 L262.1,171.25 L262.35,171.25 L262.6,171.25 L262.85,171.25 L263.1,171.25 L263.35,171.25 L263.6,171.25 L263.85,171.25 L264.1,171.25 L264.35,171.25 L264.6,171.25 L264.85,171.25 L265.1,171.25 L265.35,171.25 L265.6,171.25 L265.85,171.25 L266.1,171.25 L266.35,171.25 L266.6,171.25 L266.85,171.25 L267.1,171.25 L267.35,171.25 L267.6,171.25 L267.85,171.25 L268.1,171.25 L268.35,171.25 L268.6,171.25 L268.85,171.25 L269.1,171.25 L269.35,171.25 L269.6,171.25 L269.85,171.25 L270.1,171.25 L270.35,171.25 L270.6,171.25 L270.85,171.25 L271.1,171.25 L271.35,171.25 L271.6,171.25 L271.85,171.25 L272.1,171.25 L272.35,171.25 L272.6,171.25 L272.85,171.25 L273.1,171.25 L273.35,171.25 L273.6,171.25 L273.85,171.25 L274.1,171.25 L274.35,171.25 L274.6,171.25 L274.85,171.25 L275.1,171.25 L275.35,171.25 L275.6,171.25 L275.85,171.25 L276.1,171.25 L276.35,171.25 L276.6,171.25 L276.85,171.25 L277.1,171.25 L277.35,171.25 L277.6,171.25 L277.85,171.25 L278.1,171.25 L278.35,171.25 L278.6,171.25 L278.85,171.25 L279.1,171.25 L279.35,171.25 L279.6,171.25 L279.85,171.25 L280.1,171.25 L280.35,171.25 L280.6,171.25 L280.85,171.25 L281.1,171.25 L281.35,171.25 L281.6,171.25 L281.85,171.25 L282.1,171.25 L282.35,171.25 L282.6,171.25 L282.85,171.25 L283.1,171.25 L283.35,171.25 L283.6,171.25 L283.85,171.25 L284.1,171.25 L284.35,171.25 L284.6,171.25 L284.85,171.25 L285.1,171.25 L285.35,171.25 L285.6,171.25 L285.85,171.25 L286.1,171.25 L286.35,171.25 L286.6,171.25 L286.85,171.25 L287.1,171.25 L287.35,171.25 L287.6,171.25 L287.85,171.25 L288.1,171.25 L288.35,171.25 L288.6,171.25 L288.85,171.25 L289.1,171.25 L289.35,171.25 L289.6,171.25 L289.85,171.25 L290.1,171.25 L290.35,171.25 L290.6,171.25 L290.85,171.25 L291.1,171.25 L291.35,171.25 L291.6,171.25 L291.85,171.25 L292.1,171.25 L292.35,171.25 L292.6,171.25 L292.85,171.25 L293.1,171.25 L293.35,171.25 L293.6,171.25 L293.85,171.25 L294.1,171.25 L294.35,171.25 L294.6,171.25 L294.85,171.25 L295.1,171.25 L295.35,171.25 L295.6,171.25 L295.85,171.25 L296.1,171.25 L296.35,171.25 L296.6,171.25 L296.85,171.25 L297.1,171.25 L297.35,171.25 L297.6,171.25 L297.85,171.25 L298.1,171.25 L298.35,171.25 L298.6,171.25 L298.85,171.25 L299.1,171.25 L299.35,171.25 L299.6,171.25 L299.85,171.25 L300.1,171.25 L300.35,171.25 L300.6,171.25 L300.85,171.25 L301.1,171.25 L301.35,171.25 L301.6,171.25 L301.85,171.25 L302.1,171.25 L302.35,171.25 L302.6,171.25 L302.85,171.25 L303.1,171.25 L303.35,171.25 L303.6,171.25 L303.85,171.25 L304.1,171.25 L304.35,171.25 L304.6,171.25 L304.85,171.25 L305.1,171.25 L305.35,171.25 L305.6,171.25 L305.85,171.25 L306.1,171.25 L306.35,171.25 L306.6,171.25 L306.85,171.25 L307.1,171.25 L307.35,171.25 L307.6,171.25 L307.85,171.25 L308.1,171.25 L308.35,171.25 L308.6,171.25 L308.85,171.25 L309.1,171.25 L309.35,171.25 L309.6,171.25 L309.85,171.25 L310.1,171.25 L310.35,171.25 L310.6,171.25 L310.85,171.25 L311.1,171.25 L311.35,171.25 L311.6,171.25" fill="none" stroke="#000000" stroke-width="1.15" stroke-linejoin="round"/>
<path d="M75.6,205.99 L75.9,206.05 L76.2,206.01 L76.5,205.89 L76.8,205.72 L77.1,205.56 L77.4,205.43 L77.7,205.38 L78,205.4 L78.3,205.5 L78.6,205.64 L78.9,205.77 L79.2,205.85 L79.5,205.86 L79.8,205.77 L80.1,205.61 L80.4,205.37 L80.7,204.98 L81,204.25 L81.3,203.29 L81.6,202.95 L81.9,203.67 L82.2,204.66 L82.5,205.26 L82.8,205.52 L83.1,205.63 L83.4,205.66 L83.7,205.6 L84,205.48 L84.3,205.35 L84.6,205.24 L84.9,205.2 L85.2,205.23 L85.5,205.36 L85.8,205.54 L86.1,205.75 L86.4,205.94 L86.7,206.06 L87,206.09 L87.3,206.03 L87.6,205.89 L87.9,205.7 L88.2,205.51 L88.5,205.37 L88.8,205.3 L89.1,205.31 L89.4,205.4 L89.7,205.53 L90,205.65 L90.3,205.73 L90.6,205.72 L90.9,205.54 L91.2,204.97 L91.5,203.95 L91.8,203.13 L92.1,203.32 L92.4,204.12 L92.7,204.72 L93,205.02 L93.3,205.23 L93.6,205.44 L93.9,205.61 L94.2,205.73 L94.5,205.76 L94.8,205.71 L95.1,205.59 L95.4,205.46 L95.7,205.35 L96,205.31 L96.3,205.34 L96.6,205.45 L96.9,205.62 L97.2,205.81 L97.5,205.98 L97.8,206.08 L98.1,206.08 L98.4,205.99 L98.7,205.83 L99,205.62 L99.3,205.42 L99.6,205.26 L99.9,205.19 L100.2,205.2 L100.5,205.29 L100.8,205.42 L101.1,205.54 L101.4,205.63 L101.7,205.65 L102,205.58 L102.3,205.44 L102.6,205.27 L102.9,205.09 L103.2,204.97 L103.5,204.93 L103.8,204.98 L104.1,205.13 L104.4,205.33 L104.7,205.54 L105,205.72 L105.3,205.8 L105.6,205.52 L105.9,204.27 L106.2,201.98 L106.5,200.97 L106.8,203.39 L107.1,206.52 L107.4,207.16 L107.7,206.34 L108,205.85 L108.3,205.84 L108.6,205.96 L108.9,206.03 L109.2,206.02 L109.5,205.91 L109.8,205.72 L110.1,205.5 L110.4,205.3 L110.7,205.14 L111,205.07 L111.3,205.09 L111.6,205.19 L111.9,205.33 L112.2,205.47 L112.5,205.57 L112.8,205.6 L113.1,205.55 L113.4,205.43 L113.7,205.28 L114,205.13 L114.3,205.03 L114.6,205.01 L114.9,205.08 L115.2,205.24 L115.5,205.45 L115.8,205.67 L116.1,205.85 L116.4,205.96 L116.7,205.98 L117,205.91 L117.3,205.78 L117.6,205.62 L117.9,205.49 L118.2,205.41 L118.5,205.41 L118.8,205.49 L119.1,205.62 L119.4,205.77 L119.7,205.89 L120,205.94 L120.3,205.91 L120.6,205.79 L120.9,205.6 L121.2,205.38 L121.5,205.17 L121.8,205.03 L122.1,204.97 L122.4,205.01 L122.7,205.12 L123,205.28 L123.3,205.44 L123.6,205.57 L123.9,205.62 L124.2,205.58 L124.5,205.48 L124.8,205.35 L125.1,205.21 L125.4,205.13 L125.7,205.12 L126,205.2 L126.3,205.36 L126.6,205.57 L126.9,205.79 L127.2,205.96 L127.5,206.05 L127.8,206.05 L128.1,205.92 L128.4,205.48 L128.7,204.2 L129,201.98 L129.3,200.89 L129.6,202.89 L129.9,205.76 L130.2,206.67 L130.5,206.25 L130.8,205.92 L131.1,205.85 L131.4,205.79 L131.7,205.66 L132,205.48 L132.3,205.26 L132.6,205.07 L132.9,204.95 L133.2,204.91 L133.5,204.97 L133.8,205.11 L134.1,205.29 L134.4,205.48 L134.7,205.62 L135,205.68 L135.3,205.66 L135.6,205.58 L135.9,205.45 L136.2,205.32 L136.5,205.24 L136.8,205.24 L137.1,205.32 L137.4,205.48 L137.7,205.68 L138,205.87 L138.3,206.03 L138.6,206.1 L138.9,206.07 L139.2,205.96 L139.5,205.78 L139.8,205.58 L140.1,205.4 L140.4,205.29 L140.7,205.26 L141,205.32 L141.3,205.43 L141.6,205.56 L141.9,205.67 L142.2,205.71 L142.5,205.68 L142.8,205.56 L143.1,205.39 L143.4,205.19 L143.7,205.02 L144,204.92 L144.3,204.91 L144.6,205 L144.9,205.16 L145.2,205.36 L145.5,205.56 L145.8,205.71 L146.1,205.79 L146.4,205.78 L146.7,205.69 L147,205.56 L147.3,205.44 L147.6,205.35 L147.9,205.34 L148.2,205.41 L148.5,205.55 L148.8,205.73 L149.1,205.91 L149.4,206.03 L149.7,206.08 L150,206.03 L150.3,205.89 L150.6,205.69 L150.9,205.48 L151.2,205.29 L151.5,205.18 L151.8,205.15 L152.1,205.2 L152.4,205.32 L152.7,205.45 L153,205.57 L153.3,205.63 L153.6,205.57 L153.9,205.3 L154.2,204.64 L154.5,203.88 L154.8,204.11 L155.1,205.45 L155.4,206.3 L155.7,206.02 L156,205.59 L156.3,205.54 L156.6,205.69 L156.9,205.84 L157.2,205.91 L157.5,205.89 L157.8,205.8 L158.1,205.66 L158.4,205.52 L158.7,205.42 L159,205.39 L159.3,205.45 L159.6,205.57 L159.9,205.73 L160.2,205.88 L160.5,205.99 L160.8,206.01 L161.1,205.94 L161.4,205.78 L161.7,205.57 L162,205.35 L162.3,205.17 L162.6,205.06 L162.9,205.04 L163.2,205.1 L163.5,205.23 L163.8,205.39 L164.1,205.52 L164.4,205.59 L164.7,205.59 L165,205.51 L165.3,205.37 L165.6,205.22 L165.9,205.09 L166.2,205.04 L166.5,205.07 L166.8,205.19 L167.1,205.38 L167.4,205.6 L167.7,205.81 L168,205.95 L168.3,206.01 L168.6,205.98 L168.9,205.87 L169.2,205.71 L169.5,205.55 L169.8,205.44 L170.1,205.39 L170.4,205.43 L170.7,205.53 L171,205.67 L171.3,205.81 L171.6,205.89 L171.9,205.9 L172.2,205.82 L172.5,205.66 L172.8,205.45 L173.1,205.23 L173.4,205.06 L173.7,204.96 L174,204.96 L174.3,205.04 L174.6,205.19 L174.9,205.37 L175.2,205.52 L175.5,205.61 L175.8,205.63 L176.1,205.56 L176.4,205.44 L176.7,205.31 L177,205.2 L177.3,205.15 L177.6,205.19 L177.9,205.31 L178.2,205.5 L178.5,205.72 L178.8,205.91 L179.1,206.04 L179.4,206.08 L179.7,206.03 L180,205.89 L180.3,205.71 L180.6,205.53 L180.9,205.4 L181.2,205.33 L181.5,205.35 L181.8,205.44 L182.1,205.57 L182.4,205.7 L182.7,205.78 L183,205.78 L183.3,205.7 L183.6,205.54 L183.9,205.34 L184.2,205.14 L184.5,204.98 L184.8,204.91 L185.1,204.93 L185.4,205.04 L185.7,205.21 L186,205.41 L186.3,205.58 L186.6,205.69 L186.9,205.71 L187.2,205.66 L187.5,205.55 L187.8,205.42 L188.1,205.31 L188.4,205.27 L188.7,205.3 L189,205.42 L189.3,205.6 L189.6,205.8 L189.9,205.97 L190.2,206.08 L190.5,206.09 L190.8,206.01 L191.1,205.85 L191.4,205.65 L191.7,205.46 L192,205.31 L192.3,205.23 L192.6,205.25 L192.9,205.33 L193.2,205.46 L193.5,205.59 L193.8,205.67 L194.1,205.68 L194.4,205.6 L194.7,205.46 L195,205.27 L195.3,205.09 L195.6,204.96 L195.9,204.91 L196.2,204.96 L196.5,205.09 L196.8,205.29 L197.1,205.5 L197.4,205.68 L197.7,205.8 L198,205.83 L198.3,205.78 L198.6,205.66 L198.9,205.53 L199.2,205.41 L199.5,205.36 L199.8,205.38 L200.1,205.49 L200.4,205.65 L200.7,205.83 L201,205.98 L201.3,206.06 L201.6,206.05 L201.9,205.94 L202.2,205.76 L202.5,205.55 L202.8,205.34 L203.1,205.19 L203.4,205.11 L203.7,205.13 L204,205.22 L204.3,205.36 L204.6,205.49 L204.9,205.59 L205.2,205.61 L205.5,205.55 L205.8,205.43 L206.1,205.26 L206.4,205.11 L206.7,205 L207,204.97 L207.3,205.04 L207.6,205.19 L207.9,205.4 L208.2,205.62 L208.5,205.81 L208.8,205.92 L209.1,205.94 L209.4,205.88 L209.7,205.75 L210,205.6 L210.3,205.47 L210.6,205.38 L210.9,205.26 L211.2,204.92 L211.5,204.41 L211.8,204.31 L212.1,204.9 L212.4,205.58 L212.7,205.86 L213,205.82 L213.3,205.64 L213.6,205.42 L213.9,205.22 L214.2,205.07 L214.5,205 L214.8,205.03 L215.1,205.14 L215.4,205.3 L215.7,205.45 L216,205.56 L216.3,205.6 L216.6,205.56 L216.9,205.46 L217.2,205.31 L217.5,205.17 L217.8,205.09 L218.1,205.08 L218.4,205.16 L218.7,205.32 L219,205.53 L219.3,205.75 L219.6,205.92 L219.9,206.03 L220.2,206.03 L220.5,205.95 L220.8,205.8 L221.1,205.63 L221.4,205.48 L221.7,205.39 L222,205.38 L222.3,205.45 L222.6,205.58 L222.9,205.71 L223.2,205.83 L223.5,205.87 L223.8,205.83 L224.1,205.71 L224.4,205.52 L224.7,205.3 L225,205.1 L225.3,204.97 L225.6,204.93 L225.9,204.98 L226.2,205.11 L226.5,205.29 L226.8,205.46 L227.1,205.59 L227.4,205.65 L227.7,205.63 L228,205.53 L228.3,205.4 L228.6,205.28 L228.9,205.2 L229.2,205.2 L229.5,205.28 L229.8,205.44 L230.1,205.64 L230.4,205.85 L230.7,206.01 L231,206.09 L231.3,206.07 L231.6,205.96 L231.9,205.79 L232.2,205.6 L232.5,205.43 L232.8,205.33 L233.1,205.31 L233.4,205.36 L233.7,205.47 L234,205.61 L234.3,205.71 L234.6,205.76 L234.9,205.72 L235.2,205.59 L235.5,205.41 L235.8,205.21 L236.1,205.03 L236.4,204.92 L236.7,204.9 L237,204.98 L237.3,205.14 L237.6,205.33 L237.9,205.53 L238.2,205.67 L238.5,205.75 L238.8,205.73 L239.1,205.64 L239.4,205.52 L239.7,205.39 L240,205.31 L240.3,205.3 L240.6,205.33 L240.9,205.23 L241.2,204.67 L241.5,204.04 L241.8,204.92 L242.1,207.31 L242.4,208.51 L242.7,207.6 L243,206.31 L243.3,205.63 L243.6,205.35 L243.9,205.22 L244.2,205.19 L244.5,205.25 L244.8,205.36 L245.1,205.49 L245.4,205.6 L245.7,205.66 L246,205.63 L246.3,205.52 L246.6,205.35 L246.9,205.17 L247.2,205.02 L247.5,204.93 L247.8,204.94 L248.1,205.04 L248.4,205.22 L248.7,205.43 L249,205.64 L249.3,205.79 L249.6,205.86 L249.9,205.85 L250.2,205.76 L250.5,205.62 L250.8,205.49 L251.1,205.4 L251.4,205.38 L251.7,205.44 L252,205.57 L252.3,205.74 L252.6,205.9 L252.9,206.01 L253.2,206.04 L253.5,205.98 L253.8,205.83 L254.1,205.62 L254.4,205.4 L254.7,205.22 L255,205.1 L255.3,205.08 L255.6,205.14 L255.9,205.26 L256.2,205.41 L256.5,205.53 L256.8,205.6 L257.1,205.59 L257.4,205.5 L257.7,205.35 L258,205.19 L258.3,205.06 L258.6,205 L258.9,205.03 L259.2,205.15 L259.5,205.33 L259.8,205.56 L260.1,205.76 L260.4,205.91 L260.7,205.98 L261,205.95 L261.3,205.84 L261.6,205.69 L261.9,205.55 L262.2,205.44 L262.5,205.4 L262.8,205.44 L263.1,205.55 L263.4,205.7 L263.7,205.84 L264,205.93 L264.3,205.95 L264.6,205.87 L264.9,205.7 L265.2,205.49 L265.5,205.27 L265.8,205.09 L266.1,204.99 L266.4,204.98 L266.7,205.06 L267,205.2 L267.3,205.37 L267.6,205.51 L267.9,205.6 L268.2,205.6 L268.5,205.53 L268.8,205.41 L269.1,205.27 L269.4,205.15 L269.7,205.1 L270,205.14 L270.3,205.27 L270.6,205.46 L270.9,205.68 L271.2,205.88 L271.5,206.01 L271.8,206.06 L272.1,206.01 L272.4,205.89 L272.7,205.72 L273,205.54 L273.3,205.42 L273.6,205.36 L273.9,205.39 L274.2,205.48 L274.5,205.62 L274.8,205.74 L275.1,205.82 L275.4,205.83 L275.7,205.74 L276,205.58 L276.3,205.37 L276.6,205.17 L276.9,205 L277.2,204.92 L277.5,204.93 L277.8,205.04 L278.1,205.2 L278.4,205.39 L278.7,205.55 L279,205.66 L279.3,205.68 L279.6,205.62 L279.9,205.5 L280.2,205.37 L280.5,205.27 L280.8,205.22 L281.1,205.26 L281.4,205.39 L281.7,205.57 L282,205.78 L282.3,205.96 L282.6,206.07 L282.9,206.1 L283.2,206.02 L283.5,205.87 L283.8,205.68 L284.1,205.49 L284.4,205.34 L284.7,205.28" fill="none" stroke="#0000ff" stroke-width="1.35" stroke-dasharray="3,1.4"/>
<path d="M81.2,205.5 L81.7,203.5 L82.1,205.5" fill="none" stroke="#0000ff" stroke-width="1.2" stroke-linejoin="round"/>
<path d="M91.5,205.5 L92,203.5 L92.4,205.5" fill="none" stroke="#0000ff" stroke-width="1.2" stroke-linejoin="round"/>
<path d="M106.2,205.5 L106.7,199.5 L107.1,209" fill="none" stroke="#0000ff" stroke-width="1.2" stroke-linejoin="round"/>
<path d="M129,205.5 L129.5,200 L129.9,208" fill="none" stroke="#0000ff" stroke-width="1.2" stroke-linejoin="round"/>
<path d="M154.4,205.5 L154.9,203.5 L155.3,207.5" fill="none" stroke="#0000ff" stroke-width="1.2" stroke-linejoin="round"/>
<path d="M241.4,205.5 L241.9,202.5 L242.3,209" fill="none" stroke="#0000ff" stroke-width="1.2" stroke-linejoin="round"/>
<line x1="289.3" y1="205.5" x2="293.8" y2="205.5" stroke="#0000ff" stroke-width="1.35"/>
<line x1="298.8" y1="205.5" x2="302.9" y2="205.5" stroke="#0000ff" stroke-width="1.35"/>
<line x1="307.9" y1="205.5" x2="312" y2="205.5" stroke="#0000ff" stroke-width="1.35"/>
<rect x="399" y="6.5" width="278" height="1" fill="#555555"/>
<rect x="399" y="6.5" width="1" height="207.5" fill="#555555"/>
<rect x="676" y="6.5" width="1" height="207.5" fill="#555555"/>
<rect x="399" y="213" width="278" height="1" fill="#555555"/>
<rect x="400" y="202.98" width="3" height="1" fill="#6e6e6e"/>
<rect x="400" y="183.34" width="2" height="1" fill="#6e6e6e"/>
<rect x="400" y="163.7" width="3" height="1" fill="#6e6e6e"/>
<rect x="400" y="144.06" width="2" height="1" fill="#6e6e6e"/>
<rect x="400" y="124.42" width="3" height="1" fill="#6e6e6e"/>
<rect x="400" y="104.78" width="2" height="1" fill="#6e6e6e"/>
<rect x="400" y="85.14" width="3" height="1" fill="#6e6e6e"/>
<rect x="400" y="65.5" width="2" height="1" fill="#6e6e6e"/>
<rect x="400" y="45.86" width="3" height="1" fill="#6e6e6e"/>
<rect x="400" y="26.22" width="2" height="1" fill="#6e6e6e"/>
<text transform="translate(395.1,10.93) scale(1,1.03)" text-anchor="end" font-family="Liberation Sans, sans-serif" font-weight="bold" text-rendering="geometricPrecision" font-size="15.3" fill="#000">80</text>
<text transform="translate(395.1,50.21) scale(1,1.03)" text-anchor="end" font-family="Liberation Sans, sans-serif" font-weight="bold" text-rendering="geometricPrecision" font-size="15.3" fill="#000">60</text>
<text transform="translate(395.1,89.49) scale(1,1.03)" text-anchor="end" font-family="Liberation Sans, sans-serif" font-weight="bold" text-rendering="geometricPrecision" font-size="15.3" fill="#000">40</text>
<text transform="translate(395.1,128.77) scale(1,1.03)" text-anchor="end" font-family="Liberation Sans, sans-serif" font-weight="bold" text-rendering="geometricPrecision" font-size="15.3" fill="#000">20</text>
<text transform="translate(395.1,168.05) scale(1,1.03)" text-anchor="end" font-family="Liberation Sans, sans-serif" font-weight="bold" text-rendering="geometricPrecision" font-size="15.3" fill="#000">0</text>
<text transform="translate(395.1,207.33) scale(1,1.03)" text-anchor="end" font-family="Liberation Sans, sans-serif" font-weight="bold" text-rendering="geometricPrecision" font-size="15.3" fill="#000">-20</text>
<rect x="428.2" y="210" width="1" height="3" fill="#6e6e6e"/>
<rect x="457.75" y="211" width="1" height="2" fill="#6e6e6e"/>
<rect x="487.3" y="210" width="1" height="3" fill="#6e6e6e"/>
<rect x="516.85" y="211" width="1" height="2" fill="#6e6e6e"/>
<rect x="546.4" y="210" width="1" height="3" fill="#6e6e6e"/>
<rect x="575.95" y="211" width="1" height="2" fill="#6e6e6e"/>
<rect x="605.5" y="210" width="1" height="3" fill="#6e6e6e"/>
<rect x="635.05" y="211" width="1" height="2" fill="#6e6e6e"/>
<rect x="664.6" y="210" width="1" height="3" fill="#6e6e6e"/>
<text transform="translate(428.4,229) scale(1,1.03)" text-anchor="middle" font-family="Liberation Sans, sans-serif" font-weight="bold" text-rendering="geometricPrecision" font-size="15.3" fill="#000">10000</text>
<text transform="translate(487.5,229) scale(1,1.03)" text-anchor="middle" font-family="Liberation Sans, sans-serif" font-weight="bold" text-rendering="geometricPrecision" font-size="15.3" fill="#000">20000</text>
<text transform="translate(546.6,229) scale(1,1.03)" text-anchor="middle" font-family="Liberation Sans, sans-serif" font-weight="bold" text-rendering="geometricPrecision" font-size="15.3" fill="#000">30000</text>
<text transform="translate(605.7,229) scale(1,1.03)" text-anchor="middle" font-family="Liberation Sans, sans-serif" font-weight="bold" text-rendering="geometricPrecision" font-size="15.3" fill="#000">40000</text>
<text transform="translate(664.8,229) scale(1,1.03)" text-anchor="middle" font-family="Liberation Sans, sans-serif" font-weight="bold" text-rendering="geometricPrecision" font-size="15.3" fill="#000">50000</text>
<text transform="translate(537.65,252.9) scale(1,1.03)" text-anchor="middle" font-family="Liberation Sans, sans-serif" font-weight="bold" text-rendering="geometricPrecision" font-size="15.3" fill="#000">t.o.f. (μ sec.)</text>
<text transform="translate(368.3,109.45) rotate(-90)" text-anchor="middle" font-family="Liberation Sans, sans-serif" font-weight="bold" text-rendering="geometricPrecision" font-size="15.3" fill="#000">Intensity (arb. units)</text>
<text x="412.1" y="29.3" font-family="Liberation Serif, serif" font-weight="bold" text-rendering="geometricPrecision" font-size="20" fill="#000">b</text>
<text transform="translate(553.3,30.8) scale(1,1.03)" font-family="Liberation Sans, sans-serif" font-weight="bold" text-rendering="geometricPrecision" font-size="15.3" fill="#ff0000">Neutron profile</text>
<text transform="translate(553.3,50.1) scale(1,1.03)" font-family="Liberation Sans, sans-serif" font-weight="bold" text-rendering="geometricPrecision" font-size="15.3" fill="#000000">Fitted profile</text>
<text transform="translate(553.3,68.7) scale(1,1.03)" font-family="Liberation Sans, sans-serif" font-weight="bold" text-rendering="geometricPrecision" font-size="15.3" fill="#0000ff">Residual</text>
<text transform="translate(553.3,87.7) scale(1,1.03)" font-family="Liberation Sans, sans-serif" font-weight="bold" text-rendering="geometricPrecision" font-size="15.3" fill="#009900">Bragg_position</text>
<rect x="537.05" y="26.6" width="1.9" height="1.9" fill="#ff0000"/>
<line x1="526.6" y1="46.9" x2="549.2" y2="46.9" stroke="#000" stroke-width="1.15"/>
<line x1="526.5" y1="65.7" x2="549.8" y2="65.7" stroke="#0000ff" stroke-width="1.15" stroke-dasharray="4.6,4.5"/>
<line x1="538" y1="81.2" x2="538" y2="87.7" stroke="#33aa33" stroke-width="1"/>
<line x1="424.3" y1="170.7" x2="424.3" y2="177.4" stroke="#22a022" stroke-width="1" stroke-opacity="0.8"/>
<line x1="426.25" y1="170.7" x2="426.25" y2="177.4" stroke="#22a022" stroke-width="1" stroke-opacity="0.8"/>
<line x1="428.45" y1="170.7" x2="428.45" y2="177.4" stroke="#22a022" stroke-width="1" stroke-opacity="0.8"/>
<line x1="429.75" y1="170.7" x2="429.75" y2="177.4" stroke="#22a022" stroke-width="1" stroke-opacity="0.8"/>
<line x1="431.35" y1="170.7" x2="431.35" y2="177.4" stroke="#22a022" stroke-width="1" stroke-opacity="0.8"/>
<line x1="434.2" y1="170.7" x2="434.2" y2="177.4" stroke="#22a022" stroke-width="1" stroke-opacity="0.8"/>
<line x1="435.2" y1="170.7" x2="435.2" y2="177.4" stroke="#22a022" stroke-width="1" stroke-opacity="0.8"/>
<line x1="436.2" y1="170.7" x2="436.2" y2="177.4" stroke="#22a022" stroke-width="1" stroke-opacity="0.8"/>
<line x1="438.65" y1="170.7" x2="438.65" y2="177.4" stroke="#22a022" stroke-width="1" stroke-opacity="0.8"/>
<line x1="444.85" y1="170.7" x2="444.85" y2="177.4" stroke="#22a022" stroke-width="1" stroke-opacity="0.8"/>
<line x1="449.25" y1="170.7" x2="449.25" y2="177.4" stroke="#22a022" stroke-width="1" stroke-opacity="0.8"/>
<line x1="457.25" y1="170.7" x2="457.25" y2="177.4" stroke="#22a022" stroke-width="1" stroke-opacity="0.8"/>
<line x1="459.25" y1="170.7" x2="459.25" y2="177.4" stroke="#22a022" stroke-width="1" stroke-opacity="0.8"/>
<line x1="467.25" y1="170.7" x2="467.25" y2="177.4" stroke="#22a022" stroke-width="1" stroke-opacity="0.8"/>
<line x1="482.7" y1="170.7" x2="482.7" y2="177.4" stroke="#22a022" stroke-width="1" stroke-opacity="0.8"/>
<line x1="487.7" y1="170.7" x2="487.7" y2="177.4" stroke="#22a022" stroke-width="1" stroke-opacity="0.8"/>
<line x1="508.1" y1="170.7" x2="508.1" y2="177.4" stroke="#22a022" stroke-width="1" stroke-opacity="0.8"/>
<line x1="564.9" y1="170.7" x2="564.9" y2="177.4" stroke="#22a022" stroke-width="1" stroke-opacity="0.8"/>
<line x1="595.3" y1="170.7" x2="595.3" y2="177.4" stroke="#22a022" stroke-width="1" stroke-opacity="0.8"/>
<path d="M428.4,162.35 L428.9,162.24 L429.4,162.35 L429.9,162.32 L430.4,162.46 L430.9,162.26 L431.4,162.44 L431.9,162.47 L432.4,162.41 L432.9,162.43 L433.4,162.28 L433.9,162.47 L434.4,162.35 L434.9,162.46 L435.4,162.45 L435.9,162.27 L436.4,162.42 L436.9,162.45 L437.4,162.25 L437.9,162.31 L438.4,162.41 L438.9,162.27 L439.4,162.45 L439.9,162.3 L440.4,162.43 L440.9,162.26 L441.4,162.35 L441.9,162.45 L442.4,162.28 L442.9,162.29 L443.4,162.35 L443.9,162.31 L444.4,162.24 L444.9,162.27 L445.4,162.27 L445.9,162.45 L446.4,162.39 L446.9,162.44 L447.4,162.27 L447.9,162.42 L448.4,162.26 L448.9,162.36 L449.4,162.38 L449.9,162.32 L450.4,162.44 L450.9,162.36 L451.4,162.37 L451.9,162.44 L452.4,162.26 L452.9,162.47 L453.4,162.38 L453.9,162.32 L454.4,162.42 L454.9,162.29 L455.4,162.47 L455.9,162.37 L456.4,162.32 L456.9,162.41 L457.4,162.34 L457.9,162.27 L458.4,162.41 L458.9,162.24 L459.4,162.43 L459.9,162.29 L460.4,162.38 L460.9,162.47 L461.4,162.37 L461.9,162.39 L462.4,162.31 L462.9,162.23 L463.4,162.24 L463.9,162.27 L464.4,162.38 L464.9,162.33 L465.4,162.35 L465.9,162.44 L466.4,162.26 L466.9,162.28 L467.4,162.39 L467.9,162.24 L468.4,162.23 L468.9,162.32 L469.4,162.26 L469.9,162.32 L470.4,162.28 L470.9,162.37 L471.4,162.37 L471.9,162.28 L472.4,162.38 L472.9,162.34 L473.4,162.26 L473.9,162.45 L474.4,162.29 L474.9,162.27 L475.4,162.25 L475.9,162.38 L476.4,162.44 L476.9,162.42 L477.4,162.33 L477.9,162.29 L478.4,162.23 L478.9,162.38 L479.4,162.36 L479.9,162.31 L480.4,162.38 L480.9,162.34 L481.4,162.45 L481.9,162.41 L482.4,162.29 L482.9,162.45 L483.4,162.24 L483.9,162.36 L484.4,162.33 L484.9,162.29 L485.4,162.24 L485.9,162.42 L486.4,162.23 L486.9,162.36 L487.4,162.46 L487.9,162.26 L488.4,162.28 L488.9,162.38 L489.4,162.35 L489.9,162.38 L490.4,162.43 L490.9,162.27 L491.4,162.3 L491.9,162.3 L492.4,162.24 L492.9,162.44 L493.4,162.42 L493.9,162.4 L494.4,162.23 L494.9,162.43 L495.4,162.41 L495.9,162.34 L496.4,162.41 L496.9,162.34 L497.4,162.28 L497.9,162.26 L498.4,162.29 L498.9,162.24 L499.4,162.31 L499.9,162.41 L500.4,162.4 L500.9,162.43 L501.4,162.4 L501.9,162.29 L502.4,162.36 L502.9,162.33 L503.4,162.42 L503.9,162.36 L504.4,162.29 L504.9,162.38 L505.4,162.46 L505.9,162.28 L506.4,162.44 L506.9,162.23 L507.4,162.29 L507.9,162.29 L508.4,162.41 L508.9,162.46 L509.4,162.41 L509.9,162.31 L510.4,162.44 L510.9,162.31 L511.4,162.29 L511.9,162.45 L512.4,162.38 L512.9,162.4 L513.4,162.39 L513.9,162.46 L514.4,162.34 L514.9,162.43 L515.4,162.4 L515.9,162.44 L516.4,162.33 L516.9,162.4 L517.4,162.37 L517.9,162.3 L518.4,162.28 L518.9,162.38 L519.4,162.25 L519.9,162.45 L520.4,162.26 L520.9,162.24 L521.4,162.26 L521.9,162.45 L522.4,162.31 L522.9,162.26 L523.4,162.24 L523.9,162.24 L524.4,162.4 L524.9,162.38 L525.4,162.4 L525.9,162.41 L526.4,162.25 L526.9,162.37 L527.4,162.32 L527.9,162.43 L528.4,162.43 L528.9,162.44 L529.4,162.25 L529.9,162.44 L530.4,162.45 L530.9,162.46 L531.4,162.26 L531.9,162.28 L532.4,162.26 L532.9,162.24 L533.4,162.43 L533.9,162.42 L534.4,162.38 L534.9,162.43 L535.4,162.38 L535.9,162.3 L536.4,162.25 L536.9,162.25 L537.4,162.41 L537.9,162.28 L538.4,162.31 L538.9,162.33 L539.4,162.24 L539.9,162.29 L540.4,162.3 L540.9,162.4 L541.4,162.32 L541.9,162.31 L542.4,162.46 L542.9,162.35 L543.4,162.43 L543.9,162.38 L544.4,162.24 L544.9,162.33 L545.4,162.33 L545.9,162.42 L546.4,162.31 L546.9,162.4 L547.4,162.36 L547.9,162.28 L548.4,162.44 L548.9,162.25 L549.4,162.43 L549.9,162.27 L550.4,162.23 L550.9,162.28 L551.4,162.41 L551.9,162.46 L552.4,162.23 L552.9,162.35 L553.4,162.35 L553.9,162.42 L554.4,162.27 L554.9,162.35 L555.4,162.31 L555.9,162.43 L556.4,162.29 L556.9,162.46 L557.4,162.3 L557.9,162.28 L558.4,162.4 L558.9,162.35 L559.4,162.26 L559.9,162.38 L560.4,162.25 L560.9,162.42 L561.4,162.4 L561.9,162.42 L562.4,162.38 L562.9,162.32 L563.4,162.33 L563.9,162.32 L564.4,162.44 L564.9,162.25 L565.4,162.44 L565.9,162.24 L566.4,162.28 L566.9,162.29 L567.4,162.45 L567.9,162.35 L568.4,162.32 L568.9,162.44 L569.4,162.29 L569.9,162.34 L570.4,162.36 L570.9,162.41 L571.4,162.41 L571.9,162.39 L572.4,162.31 L572.9,162.31 L573.4,162.27 L573.9,162.43 L574.4,162.39 L574.9,162.41 L575.4,162.27 L575.9,162.34 L576.4,162.42 L576.9,162.37 L577.4,162.26 L577.9,162.34 L578.4,162.44 L578.9,162.29 L579.4,162.28 L579.9,162.3 L580.4,162.4 L580.9,162.43 L581.4,162.27 L581.9,162.27 L582.4,162.29 L582.9,162.31 L583.4,162.36 L583.9,162.27 L584.4,162.31 L584.9,162.28 L585.4,162.46 L585.9,162.4 L586.4,162.25 L586.9,162.46 L587.4,162.25 L587.9,162.32 L588.4,162.47 L588.9,162.42 L589.4,162.41 L589.9,162.33 L590.4,162.28 L590.9,162.38 L591.4,162.26 L591.9,162.28 L592.4,162.32 L592.9,162.24 L593.4,162.33 L593.9,162.42 L594.4,162.4 L594.9,162.35 L595.4,162.38 L595.9,162.34 L596.4,162.26 L596.9,162.37 L597.4,162.33 L597.9,162.41 L598.4,162.45 L598.9,162.33 L599.4,162.37 L599.9,162.41 L600.4,162.33 L600.9,162.28 L601.4,162.4 L601.9,162.44 L602.4,162.42 L602.9,162.4 L603.4,162.43 L603.9,162.39 L604.4,162.38 L604.9,162.34 L605.4,162.31 L605.9,162.38 L606.4,162.25 L606.9,162.33 L607.4,162.42 L607.9,162.4 L608.4,162.38 L608.9,162.29 L609.4,162.33 L609.9,162.34 L610.4,162.38 L610.9,162.33 L611.4,162.39 L611.9,162.45 L612.4,162.27 L612.9,162.39 L613.4,162.42 L613.9,162.32 L614.4,162.35 L614.9,162.46 L615.4,162.24 L615.9,162.36 L616.4,162.27 L616.9,162.42 L617.4,162.46 L617.9,162.35 L618.4,162.25 L618.9,162.37 L619.4,162.36 L619.9,162.4 L620.4,162.35 L620.9,162.38 L621.4,162.43 L621.9,162.36 L622.4,162.33 L622.9,162.46 L623.4,162.28 L623.9,162.39 L624.4,162.32 L624.9,162.41 L625.4,162.26 L625.9,162.47 L626.4,162.32 L626.9,162.24 L627.4,162.3 L627.9,162.33 L628.4,162.23 L628.9,162.33 L629.4,162.33 L629.9,162.4 L630.4,162.31 L630.9,162.29 L631.4,162.28 L631.9,162.41" fill="none" stroke="#ff0000" stroke-width="2.8" stroke-linejoin="round"/>
<path d="M632,163.41 L632.5,163.31 L633,163.23 L633.5,163.37 L634,163.27 L634.5,163.23 L635,163.21 L635.5,163.37 L636,163.37 L636.5,163.33 L637,163.29 L637.5,163.31 L638,163.23 L638.5,163.41 L639,163.26 L639.5,163.33 L640,163.38 L640.5,163.38 L641,163.29 L641.5,163.25 L642,163.31 L642.5,163.21 L643,163.38 L643.5,163.27 L644,163.38 L644.5,163.24 L645,163.27 L645.5,163.24 L646,163.28 L646.5,163.22 L647,163.18 L647.5,163.35 L648,163.25 L648.5,163.24 L649,163.25 L649.5,163.3 L650,163.28 L650.5,163.33 L651,163.34 L651.5,163.27 L652,163.4 L652.5,163.39 L653,163.19 L653.5,163.38 L654,163.4 L654.5,163.37 L655,163.21 L655.5,163.38 L656,163.33 L656.5,163.18 L657,163.18 L657.5,163.41 L658,163.34 L658.5,163.24 L659,163.2 L659.5,163.21 L660,163.24 L660.5,163.37 L661,163.26 L661.5,163.22 L662,163.4 L662.5,163.37 L663,163.22 L663.5,163.39 L664,163.33 L664.5,163.37 L665,163.34" fill="none" stroke="#ff0000" stroke-width="2.8" stroke-linejoin="round"/>
<path d="M434.48,160.22h1.6v1.6h-1.6zM434.32,159.63h1.6v1.6h-1.6zM434.53,158.93h1.6v1.6h-1.6zM434.58,158.34h1.6v1.6h-1.6zM434.7,157.82h1.6v1.6h-1.6zM434.65,156.87h1.6v1.6h-1.6zM434.84,156.34h1.6v1.6h-1.6zM434.91,156h1.6v1.6h-1.6zM435,155.96h1.6v1.6h-1.6zM435.1,156.3h1.6v1.6h-1.6zM434.96,156.83h1.6v1.6h-1.6zM435.23,157.25h1.6v1.6h-1.6zM435.39,157.61h1.6v1.6h-1.6zM435.35,158.4h1.6v1.6h-1.6zM435.66,158.76h1.6v1.6h-1.6zM435.61,159.15h1.6v1.6h-1.6zM435.45,160.06h1.6v1.6h-1.6zM437.11,160.2h1.6v1.6h-1.6zM437.05,159.67h1.6v1.6h-1.6zM437.2,158.78h1.6v1.6h-1.6zM437.44,157.31h1.6v1.6h-1.6zM437.45,155.64h1.6v1.6h-1.6zM437.38,154.49h1.6v1.6h-1.6zM437.47,152.97h1.6v1.6h-1.6zM437.61,150.93h1.6v1.6h-1.6zM437.56,149.45h1.6v1.6h-1.6zM437.73,147.66h1.6v1.6h-1.6zM437.97,146.52h1.6v1.6h-1.6zM438.05,145.51h1.6v1.6h-1.6zM438,145.32h1.6v1.6h-1.6zM438.08,145.5h1.6v1.6h-1.6zM438.22,146.85h1.6v1.6h-1.6zM438.17,147.93h1.6v1.6h-1.6zM438.24,149.11h1.6v1.6h-1.6zM438.45,151.02h1.6v1.6h-1.6zM438.3,152.91h1.6v1.6h-1.6zM438.71,154.56h1.6v1.6h-1.6zM438.46,155.99h1.6v1.6h-1.6zM438.52,157.19h1.6v1.6h-1.6zM438.97,158.27h1.6v1.6h-1.6zM438.94,159.47h1.6v1.6h-1.6zM439.12,160.31h1.6v1.6h-1.6zM455.71,160.04h1.6v1.6h-1.6zM455.82,159.5h1.6v1.6h-1.6zM455.89,158.87h1.6v1.6h-1.6zM455.97,158h1.6v1.6h-1.6zM456.09,157.55h1.6v1.6h-1.6zM455.93,156.76h1.6v1.6h-1.6zM456.25,156.28h1.6v1.6h-1.6zM456.28,156.58h1.6v1.6h-1.6zM456.43,156.11h1.6v1.6h-1.6zM456.4,156.49h1.6v1.6h-1.6zM456.38,156.42h1.6v1.6h-1.6zM456.47,156.97h1.6v1.6h-1.6zM456.68,157.53h1.6v1.6h-1.6zM456.52,158.46h1.6v1.6h-1.6zM456.6,158.85h1.6v1.6h-1.6zM456.98,159.17h1.6v1.6h-1.6zM457.11,160.02h1.6v1.6h-1.6zM457.77,159.71h1.6v1.6h-1.6zM458.08,158.78h1.6v1.6h-1.6zM458.31,157.97h1.6v1.6h-1.6zM458.16,156.17h1.6v1.6h-1.6zM458.34,154.06h1.6v1.6h-1.6zM458.22,151.92h1.6v1.6h-1.6zM458.24,149.26h1.6v1.6h-1.6zM458.37,147.03h1.6v1.6h-1.6zM458.44,144.44h1.6v1.6h-1.6zM458.53,141.62h1.6v1.6h-1.6zM458.85,138.4h1.6v1.6h-1.6zM458.93,136.61h1.6v1.6h-1.6zM458.74,135.26h1.6v1.6h-1.6zM459.09,135.35h1.6v1.6h-1.6zM459.17,135.88h1.6v1.6h-1.6zM459.21,136.46h1.6v1.6h-1.6zM459.22,139.01h1.6v1.6h-1.6zM459.22,141.67h1.6v1.6h-1.6zM459.49,144.44h1.6v1.6h-1.6zM459.29,146.5h1.6v1.6h-1.6zM459.69,149.74h1.6v1.6h-1.6zM459.56,151.83h1.6v1.6h-1.6zM459.59,154.49h1.6v1.6h-1.6zM459.79,156.43h1.6v1.6h-1.6zM459.83,157.4h1.6v1.6h-1.6zM459.94,158.9h1.6v1.6h-1.6zM459.9,159.85h1.6v1.6h-1.6zM486.11,160.16h1.6v1.6h-1.6zM486.29,159.51h1.6v1.6h-1.6zM486.27,158.76h1.6v1.6h-1.6zM486.58,158.37h1.6v1.6h-1.6zM486.51,157.76h1.6v1.6h-1.6zM486.38,156.89h1.6v1.6h-1.6zM486.72,156.9h1.6v1.6h-1.6zM486.65,156.52h1.6v1.6h-1.6zM486.99,156.27h1.6v1.6h-1.6zM486.92,156.52h1.6v1.6h-1.6zM486.93,156.46h1.6v1.6h-1.6zM486.99,157.28h1.6v1.6h-1.6zM487.16,157.69h1.6v1.6h-1.6zM487.32,158.44h1.6v1.6h-1.6zM487.08,158.67h1.6v1.6h-1.6zM487.33,159.27h1.6v1.6h-1.6zM487.57,160.03h1.6v1.6h-1.6zM505.78,159.14h1.6v1.6h-1.6zM506.16,158.31h1.6v1.6h-1.6zM506.15,157.17h1.6v1.6h-1.6zM506.34,155.08h1.6v1.6h-1.6zM506.35,153.05h1.6v1.6h-1.6zM506.3,149.77h1.6v1.6h-1.6zM506.46,144.53h1.6v1.6h-1.6zM506.4,139.05h1.6v1.6h-1.6zM506.77,131.25h1.6v1.6h-1.6zM506.72,121.12h1.6v1.6h-1.6zM506.75,110.22h1.6v1.6h-1.6zM506.74,96.58h1.6v1.6h-1.6zM507.04,83.2h1.6v1.6h-1.6zM506.84,68.07h1.6v1.6h-1.6zM507.19,54.44h1.6v1.6h-1.6zM507.19,40.46h1.6v1.6h-1.6zM507.39,31.58h1.6v1.6h-1.6zM507.31,24.07h1.6v1.6h-1.6zM507.28,21.9h1.6v1.6h-1.6zM507.35,23.33h1.6v1.6h-1.6zM507.51,31.15h1.6v1.6h-1.6zM507.6,41.14h1.6v1.6h-1.6zM507.58,53.89h1.6v1.6h-1.6zM508,67.36h1.6v1.6h-1.6zM507.72,82.62h1.6v1.6h-1.6zM508.07,97.17h1.6v1.6h-1.6zM508.08,109.58h1.6v1.6h-1.6zM508.13,121.24h1.6v1.6h-1.6zM508.01,130.54h1.6v1.6h-1.6zM508.43,139.22h1.6v1.6h-1.6zM508.39,144.85h1.6v1.6h-1.6zM508.55,149.28h1.6v1.6h-1.6zM508.7,152.78h1.6v1.6h-1.6zM508.73,155.42h1.6v1.6h-1.6zM508.58,157.23h1.6v1.6h-1.6zM508.64,157.79h1.6v1.6h-1.6zM508.67,158.68h1.6v1.6h-1.6zM563.82,159.91h1.6v1.6h-1.6zM563.86,160.12h1.6v1.6h-1.6zM564.12,159.89h1.6v1.6h-1.6zM564.08,159.12h1.6v1.6h-1.6zM563.97,159.18h1.6v1.6h-1.6zM564.1,159.49h1.6v1.6h-1.6zM564.34,159.29h1.6v1.6h-1.6zM564.43,159.68h1.6v1.6h-1.6zM564.42,159.54h1.6v1.6h-1.6zM564.71,159.67h1.6v1.6h-1.6zM564.49,160.5h1.6v1.6h-1.6z" fill="#ff0000"/>
<line x1="428.9" y1="163" x2="664.6" y2="163" stroke="#000" stroke-width="1.6"/>
<path d="M428.4,162.98 L428.65,162.97 L428.9,162.93 L429.15,162.81 L429.4,162.58 L429.65,162.27 L429.9,162.03 L430.15,162.06 L430.4,162.33 L430.65,162.63 L430.9,162.83 L431.15,162.93 L431.4,162.96 L431.65,162.97 L431.9,162.97 L432.15,162.97 L432.4,162.97 L432.65,162.96 L432.9,162.96 L433.15,162.95 L433.4,162.95 L433.65,162.91 L433.9,162.89 L434.15,162.86 L434.4,162.79 L434.65,162.55 L434.9,161.88 L435.15,160.43 L435.4,158.26 L435.65,156.34 L435.9,156.11 L436.15,157.78 L436.4,159.99 L436.65,161.58 L436.9,162.35 L437.15,162.58 L437.4,162.54 L437.65,162.13 L437.9,160.89 L438.15,158.19 L438.4,154.12 L438.65,150.51 L438.9,150.11 L439.15,153.29 L439.4,157.48 L439.65,160.53 L439.9,162.03 L440.15,162.59 L440.4,162.76 L440.65,162.83 L440.9,162.87 L441.15,162.89 L441.4,162.92 L441.65,162.93 L441.9,162.94 L442.15,162.95 L442.4,162.96 L442.65,162.96 L442.9,162.97 L443.15,162.97 L443.4,162.97 L443.65,162.98 L443.9,162.98 L444.15,162.98 L444.4,163 L444.65,163 L444.9,163 L445.15,163 L445.4,163 L445.65,163 L445.9,163 L446.15,163 L446.4,163 L446.65,163 L446.9,163 L447.15,163 L447.4,163 L447.65,163 L447.9,163 L448.15,163 L448.4,163 L448.65,163 L448.9,163 L449.15,163 L449.4,163 L449.65,163 L449.9,163 L450.15,163 L450.4,163 L450.65,163 L450.9,163 L451.15,163 L451.4,163 L451.65,163 L451.9,162.99 L452.15,162.99 L452.4,162.99 L452.65,162.99 L452.9,162.98 L453.15,162.98 L453.4,162.98 L453.65,162.98 L453.9,162.97 L454.15,162.97 L454.4,162.96 L454.65,162.92 L454.9,162.91 L455.15,162.89 L455.4,162.86 L455.65,162.8 L455.9,162.61 L456.15,162.09 L456.4,160.88 L456.65,158.92 L456.9,156.94 L457.15,156.32 L457.4,157.6 L457.65,159.67 L457.9,161.3 L458.15,162.1 L458.4,162.22 L458.65,161.62 L458.9,159.65 L459.15,155.32 L459.4,148.82 L459.65,143.05 L459.9,142.41 L460.15,147.49 L460.4,154.18 L460.65,159.05 L460.9,161.46 L461.15,162.35 L461.4,162.63 L461.65,162.73 L461.9,162.79 L462.15,162.83 L462.4,162.86 L462.65,162.89 L462.9,162.91 L463.15,162.92 L463.4,162.93 L463.65,162.94 L463.9,162.95 L464.15,162.95 L464.4,162.96 L464.65,162.96 L464.9,162.96 L465.15,162.97 L465.4,163 L465.65,163 L465.9,163 L466.15,163 L466.4,163 L466.65,163 L466.9,163 L467.15,163 L467.4,163 L467.65,163 L467.9,163 L468.15,163 L468.4,163 L468.65,163 L468.9,163 L469.15,163 L469.4,163 L469.65,163 L469.9,163 L470.15,163 L470.4,163 L470.65,163 L470.9,163 L471.15,163 L471.4,163 L471.65,163 L471.9,163 L472.15,163 L472.4,163 L472.65,163 L472.9,163 L473.15,163 L473.4,163 L473.65,163 L473.9,163 L474.15,163 L474.4,163 L474.65,163 L474.9,163 L475.15,163 L475.4,163 L475.65,163 L475.9,163 L476.15,163 L476.4,163 L476.65,163 L476.9,163 L477.15,163 L477.4,163 L477.65,163 L477.9,163 L478.15,163 L478.4,163 L478.65,163 L478.9,163 L479.15,163 L479.4,163 L479.65,163 L479.9,163 L480.15,163 L480.4,163 L480.65,163 L480.9,163 L481.15,163 L481.4,163 L481.65,163 L481.9,163 L482.15,163 L482.4,162.99 L482.65,162.99 L482.9,162.99 L483.15,162.99 L483.4,162.99 L483.65,162.99 L483.9,162.99 L484.15,162.98 L484.4,162.98 L484.65,162.98 L484.9,162.97 L485.15,162.97 L485.4,162.96 L485.65,162.95 L485.9,162.94 L486.15,162.9 L486.4,162.78 L486.65,162.42 L486.9,161.61 L487.15,160.28 L487.4,158.94 L487.65,158.53 L487.9,159.42 L488.15,160.86 L488.4,162 L488.65,162.61 L488.9,162.84 L489.15,162.92 L489.4,162.94 L489.65,162.96 L489.9,162.96 L490.15,162.97 L490.4,162.98 L490.65,162.98 L490.9,162.98 L491.15,162.98 L491.4,162.99 L491.65,162.99 L491.9,162.99 L492.15,162.99 L492.4,162.99 L492.65,162.99 L492.9,162.99 L493.15,163 L493.4,163 L493.65,163 L493.9,163 L494.15,163 L494.4,163 L494.65,163 L494.9,163 L495.15,163 L495.4,163 L495.65,163 L495.9,163 L496.15,163 L496.4,163 L496.65,163 L496.9,163 L497.15,163 L497.4,163 L497.65,163 L497.9,163 L498.15,163 L498.4,163 L498.65,163 L498.9,163 L499.15,163 L499.4,163 L499.65,163 L499.9,163 L500.15,163 L500.4,163 L500.65,163 L500.9,163 L501.15,163 L501.4,163 L501.65,163 L501.9,163 L502.15,163 L502.4,163 L502.65,163 L502.9,162.79 L503.15,162.77 L503.4,162.74 L503.65,162.71 L503.9,162.68 L504.15,162.64 L504.4,162.59 L504.65,162.53 L504.9,162.46 L505.15,162.37 L505.4,162.26 L505.65,162.11 L505.9,161.91 L506.15,161.65 L506.4,161.25 L506.65,160.44 L506.9,158.13 L507.15,150.92 L507.4,132.25 L507.65,97.02 L507.9,52.86 L508.15,25.4 L508.4,38.08 L508.65,79.34 L508.9,120.14 L509.15,145.25 L509.4,156.14 L509.65,159.81 L509.9,161 L510.15,161.51 L510.4,161.82 L510.65,162.04 L510.9,162.2 L511.15,162.33 L511.4,162.42 L511.65,162.5 L511.9,162.57 L512.15,162.62 L512.4,162.66 L512.65,162.7 L512.9,162.73 L513.15,162.76 L513.4,162.78 L513.65,163 L513.9,163 L514.15,163 L514.4,163 L514.65,163 L514.9,163 L515.15,163 L515.4,163 L515.65,163 L515.9,163 L516.15,163 L516.4,163 L516.65,163 L516.9,163 L517.15,163 L517.4,163 L517.65,163 L517.9,163 L518.15,163 L518.4,163 L518.65,163 L518.9,163 L519.15,163 L519.4,163 L519.65,163 L519.9,163 L520.15,163 L520.4,163 L520.65,163 L520.9,163 L521.15,163 L521.4,163 L521.65,163 L521.9,163 L522.15,163 L522.4,163 L522.65,163 L522.9,163 L523.15,163 L523.4,163 L523.65,163 L523.9,163 L524.15,163 L524.4,163 L524.65,163 L524.9,163 L525.15,163 L525.4,163 L525.65,163 L525.9,163 L526.15,163 L526.4,163 L526.65,163 L526.9,163 L527.15,163 L527.4,163 L527.65,163 L527.9,163 L528.15,163 L528.4,163 L528.65,163 L528.9,163 L529.15,163 L529.4,163 L529.65,163 L529.9,163 L530.15,163 L530.4,163 L530.65,163 L530.9,163 L531.15,163 L531.4,163 L531.65,163 L531.9,163 L532.15,163 L532.4,163 L532.65,163 L532.9,163 L533.15,163 L533.4,163 L533.65,163 L533.9,163 L534.15,163 L534.4,163 L534.65,163 L534.9,163 L535.15,163 L535.4,163 L535.65,163 L535.9,163 L536.15,163 L536.4,163 L536.65,163 L536.9,163 L537.15,163 L537.4,163 L537.65,163 L537.9,163 L538.15,163 L538.4,163 L538.65,163 L538.9,163 L539.15,163 L539.4,163 L539.65,163 L539.9,163 L540.15,163 L540.4,163 L540.65,163 L540.9,163 L541.15,163 L541.4,163 L541.65,163 L541.9,163 L542.15,163 L542.4,163 L542.65,163 L542.9,163 L543.15,163 L543.4,163 L543.65,163 L543.9,163 L544.15,163 L544.4,163 L544.65,163 L544.9,163 L545.15,163 L545.4,163 L545.65,163 L545.9,163 L546.15,163 L546.4,163 L546.65,163 L546.9,163 L547.15,163 L547.4,163 L547.65,163 L547.9,163 L548.15,163 L548.4,163 L548.65,163 L548.9,163 L549.15,163 L549.4,163 L549.65,163 L549.9,163 L550.15,163 L550.4,163 L550.65,163 L550.9,163 L551.15,163 L551.4,163 L551.65,163 L551.9,163 L552.15,163 L552.4,163 L552.65,163 L552.9,163 L553.15,163 L553.4,163 L553.65,163 L553.9,163 L554.15,163 L554.4,163 L554.65,163 L554.9,163 L555.15,163 L555.4,163 L555.65,163 L555.9,163 L556.15,163 L556.4,163 L556.65,163 L556.9,163 L557.15,163 L557.4,163 L557.65,163 L557.9,163 L558.15,163 L558.4,163 L558.65,163 L558.9,163 L559.15,163 L559.4,163 L559.65,163 L559.9,163 L560.15,163 L560.4,163 L560.65,163 L560.9,163 L561.15,163 L561.4,163 L561.65,162.99 L561.9,162.99 L562.15,162.99 L562.4,162.99 L562.65,162.99 L562.9,162.99 L563.15,162.98 L563.4,162.97 L563.65,162.95 L563.9,162.89 L564.15,162.72 L564.4,162.38 L564.65,161.9 L564.9,161.54 L565.15,161.59 L565.4,162 L565.65,162.46 L565.9,162.77 L566.15,162.91 L566.4,162.96 L566.65,162.98 L566.9,162.98 L567.15,162.99 L567.4,162.99 L567.65,162.99 L567.9,162.99 L568.15,162.99 L568.4,162.99 L568.65,163 L568.9,163 L569.15,163 L569.4,163 L569.65,163 L569.9,163 L570.15,163 L570.4,163 L570.65,163 L570.9,163 L571.15,163 L571.4,163 L571.65,163 L571.9,163 L572.15,163 L572.4,163 L572.65,163 L572.9,163 L573.15,163 L573.4,163 L573.65,163 L573.9,163 L574.15,163 L574.4,163 L574.65,163 L574.9,163 L575.15,163 L575.4,163 L575.65,163 L575.9,163 L576.15,163 L576.4,163 L576.65,163 L576.9,163 L577.15,163 L577.4,163 L577.65,163 L577.9,163 L578.15,163 L578.4,163 L578.65,163 L578.9,163 L579.15,163 L579.4,163 L579.65,163 L579.9,163 L580.15,163 L580.4,163 L580.65,163 L580.9,163 L581.15,163 L581.4,163 L581.65,163 L581.9,163 L582.15,163 L582.4,163 L582.65,163 L582.9,163 L583.15,163 L583.4,163 L583.65,163 L583.9,163 L584.15,163 L584.4,163 L584.65,163 L584.9,163 L585.15,163 L585.4,163 L585.65,163 L585.9,163 L586.15,163 L586.4,163 L586.65,163 L586.9,163 L587.15,163 L587.4,163 L587.65,163 L587.9,163 L588.15,163 L588.4,163 L588.65,163 L588.9,163 L589.15,163 L589.4,163 L589.65,163 L589.9,163 L590.15,163 L590.4,163 L590.65,163 L590.9,163 L591.15,163 L591.4,163 L591.65,163 L591.9,163 L592.15,163 L592.4,163 L592.65,163 L592.9,163 L593.15,163 L593.4,163 L593.65,163 L593.9,163 L594.15,163 L594.4,163 L594.65,163 L594.9,163 L595.15,163 L595.4,163 L595.65,163 L595.9,163 L596.15,163 L596.4,163 L596.65,163 L596.9,163 L597.15,163 L597.4,163 L597.65,163 L597.9,163 L598.15,163 L598.4,163 L598.65,163 L598.9,163 L599.15,163 L599.4,163 L599.65,163 L599.9,163 L600.15,163 L600.4,163 L600.65,163 L600.9,163 L601.15,163 L601.4,163 L601.65,163 L601.9,163 L602.15,163 L602.4,163 L602.65,163 L602.9,163 L603.15,163 L603.4,163 L603.65,163 L603.9,163 L604.15,163 L604.4,163 L604.65,163 L604.9,163 L605.15,163 L605.4,163 L605.65,163 L605.9,163 L606.15,163 L606.4,163 L606.65,163 L606.9,163 L607.15,163 L607.4,163 L607.65,163 L607.9,163 L608.15,163 L608.4,163 L608.65,163 L608.9,163 L609.15,163 L609.4,163 L609.65,163 L609.9,163 L610.15,163 L610.4,163 L610.65,163 L610.9,163 L611.15,163 L611.4,163 L611.65,163 L611.9,163 L612.15,163 L612.4,163 L612.65,163 L612.9,163 L613.15,163 L613.4,163 L613.65,163 L613.9,163 L614.15,163 L614.4,163 L614.65,163 L614.9,163 L615.15,163 L615.4,163 L615.65,163 L615.9,163 L616.15,163 L616.4,163 L616.65,163 L616.9,163 L617.15,163 L617.4,163 L617.65,163 L617.9,163 L618.15,163 L618.4,163 L618.65,163 L618.9,163 L619.15,163 L619.4,163 L619.65,163 L619.9,163 L620.15,163 L620.4,163 L620.65,163 L620.9,163 L621.15,163 L621.4,163 L621.65,163 L621.9,163 L622.15,163 L622.4,163 L622.65,163 L622.9,163 L623.15,163 L623.4,163 L623.65,163 L623.9,163 L624.15,163 L624.4,163 L624.65,163 L624.9,163 L625.15,163 L625.4,163 L625.65,163 L625.9,163 L626.15,163 L626.4,163 L626.65,163 L626.9,163 L627.15,163 L627.4,163 L627.65,163 L627.9,163 L628.15,163 L628.4,163 L628.65,163 L628.9,163 L629.15,163 L629.4,163 L629.65,163 L629.9,163 L630.15,163 L630.4,163 L630.65,163 L630.9,163 L631.15,163 L631.4,163 L631.65,163 L631.9,163 L632.15,163 L632.4,163 L632.65,163 L632.9,163 L633.15,163 L633.4,163 L633.65,163 L633.9,163 L634.15,163 L634.4,163 L634.65,163 L634.9,163 L635.15,163 L635.4,163 L635.65,163 L635.9,163 L636.15,163 L636.4,163 L636.65,163 L636.9,163 L637.15,163 L637.4,163 L637.65,163 L637.9,163 L638.15,163 L638.4,163 L638.65,163 L638.9,163 L639.15,163 L639.4,163 L639.65,163 L639.9,163 L640.15,163 L640.4,163 L640.65,163 L640.9,163 L641.15,163 L641.4,163 L641.65,163 L641.9,163 L642.15,163 L642.4,163 L642.65,163 L642.9,163 L643.15,163 L643.4,163 L643.65,163 L643.9,163 L644.15,163 L644.4,163 L644.65,163 L644.9,163 L645.15,163 L645.4,163 L645.65,163 L645.9,163 L646.15,163 L646.4,163 L646.65,163 L646.9,163 L647.15,163 L647.4,163 L647.65,163 L647.9,163 L648.15,163 L648.4,163 L648.65,163 L648.9,163 L649.15,163 L649.4,163 L649.65,163 L649.9,163 L650.15,163 L650.4,163 L650.65,163 L650.9,163 L651.15,163 L651.4,163 L651.65,163 L651.9,163 L652.15,163 L652.4,163 L652.65,163 L652.9,163 L653.15,163 L653.4,163 L653.65,163 L653.9,163 L654.15,163 L654.4,163 L654.65,163 L654.9,163 L655.15,163 L655.4,163 L655.65,163 L655.9,163 L656.15,163 L656.4,163 L656.65,163 L656.9,163 L657.15,163 L657.4,163 L657.65,163 L657.9,163 L658.15,163 L658.4,163 L658.65,163 L658.9,163 L659.15,163 L659.4,163 L659.65,163 L659.9,163 L660.15,163 L660.4,163 L660.65,163 L660.9,163 L661.15,163 L661.4,163 L661.65,163 L661.9,163 L662.15,163 L662.4,163 L662.65,163 L662.9,163 L663.15,163 L663.4,163 L663.65,163 L663.9,163 L664.15,163 L664.4,163 L664.65,163 L664.9,163" fill="none" stroke="#000000" stroke-width="1.15" stroke-linejoin="round"/>
<path d="M428.9,199.22 L429.2,199.39 L429.5,199.48 L429.8,199.48 L430.1,199.41 L430.4,199.29 L430.7,199.16 L431,199.06 L431.3,199.03 L431.6,199.07 L431.9,199.11 L432.2,199 L432.5,198.75 L432.8,198.72 L433.1,199.1 L433.4,199.48 L433.7,199.57 L434,199.43 L434.3,199.22 L434.6,199.03 L434.9,198.9 L435.2,198.85 L435.5,198.89 L435.8,198.99 L436.1,199.13 L436.4,199.25 L436.7,199.32 L437,199.32 L437.3,199.23 L437.6,199.09 L437.9,198.91 L438.2,198.76 L438.5,198.66 L438.8,198.65 L439.1,198.74 L439.4,198.91 L439.7,199.13 L440,199.34 L440.3,199.51 L440.6,199.6 L440.9,199.6 L441.2,199.52 L441.5,199.39 L441.8,199.24 L442.1,199.13 L442.4,199.09 L442.7,199.13 L443,199.24 L443.3,199.4 L443.6,199.55 L443.9,199.67 L444.2,199.72 L444.5,199.66 L444.8,199.52 L445.1,199.32 L445.4,199.1 L445.7,198.91 L446,198.78 L446.3,198.73 L446.6,198.78 L446.9,198.9 L447.2,199.05 L447.5,199.19 L447.8,199.28 L448.1,199.29 L448.4,199.23 L448.7,199.1 L449,198.95 L449.3,198.81 L449.6,198.74 L449.9,198.75 L450.2,198.85 L450.5,199.03 L450.8,199.25 L451.1,199.47 L451.4,199.63 L451.7,199.71 L452,199.69 L452.3,199.6 L452.6,199.45 L452.9,199.28 L453.2,199.16 L453.5,199.1 L453.8,199.11 L454.1,199.21 L454.4,199.34 L454.7,199.48 L455,199.58 L455.3,199.61 L455.6,199.55 L455.9,199.4 L456.2,199.2 L456.5,198.98 L456.8,198.79 L457.1,198.67 L457.4,198.64 L457.7,198.62 L458,198.19 L458.3,196.58 L458.6,194.1 L458.9,193.48 L459.2,195.9 L459.5,198.5 L459.8,199.32 L460.1,199.16 L460.4,198.94 L460.7,198.85 L461,198.87 L461.3,198.98 L461.6,199.16 L461.9,199.37 L462.2,199.57 L462.5,199.72 L462.8,199.78 L463.1,199.74 L463.4,199.62 L463.7,199.45 L464,199.27 L464.3,199.12 L464.6,199.04 L464.9,199.05 L465.2,199.12 L465.5,199.25 L465.8,199.38 L466.1,199.47 L466.4,199.49 L466.7,199.43 L467,199.28 L467.3,199.08 L467.6,198.88 L467.9,198.71 L468.2,198.62 L468.5,198.62 L468.8,198.71 L469.1,198.87 L469.4,199.07 L469.7,199.25 L470,199.37 L470.3,199.41 L470.6,199.37 L470.9,199.27 L471.2,199.14 L471.5,199.03 L471.8,198.97 L472.1,198.99 L472.4,199.09 L472.7,199.26 L473,199.46 L473.3,199.64 L473.6,199.76 L473.9,199.8 L474.2,199.74 L474.5,199.59 L474.8,199.4 L475.1,199.2 L475.4,199.03 L475.7,198.94 L476,198.94 L476.3,199.01 L476.6,199.14 L476.9,199.26 L477.2,199.36 L477.5,199.38 L477.8,199.33 L478.1,199.19 L478.4,199.01 L478.7,198.83 L479,198.68 L479.3,198.61 L479.6,198.64 L479.9,198.76 L480.2,198.94 L480.5,199.16 L480.8,199.35 L481.1,199.48 L481.4,199.53 L481.7,199.49 L482,199.39 L482.3,199.25 L482.6,199.13 L482.9,199.06 L483.2,199.07 L483.5,199.16 L483.8,199.31 L484.1,199.49 L484.4,199.65 L484.7,199.75 L485,199.76 L485.3,199.67 L485.6,199.51 L485.9,199.3 L486.2,199.08 L486.5,198.84 L486.8,198.34 L487.1,197.04 L487.4,195.12 L487.7,194.47 L488,196.03 L488.3,198.05 L488.6,199.04 L488.9,199.24 L489.2,199.16 L489.5,199 L489.8,198.84 L490.1,198.71 L490.4,198.67 L490.7,198.72 L491,198.85 L491.3,199.05 L491.6,199.28 L491.9,199.47 L492.2,199.6 L492.5,199.64 L492.8,199.6 L493.1,199.48 L493.4,199.33 L493.7,199.2 L494,199.11 L494.3,199.11 L494.6,199.18 L494.9,199.31 L495.2,199.46 L495.5,199.6 L495.8,199.68 L496.1,199.67 L496.4,199.57 L496.7,199.39 L497,199.17 L497.3,198.96 L497.6,198.79 L497.9,198.71 L498.2,198.72 L498.5,198.82 L498.8,198.96 L499.1,199.12 L499.4,199.24 L499.7,199.3 L500,199.28 L500.3,199.18 L500.6,199.04 L500.9,198.9 L501.2,198.8 L501.5,198.77 L501.8,198.83 L502.1,198.98 L502.4,199.18 L502.7,199.4 L503,199.59 L503.3,199.71 L503.6,199.74 L503.9,199.67 L504.2,199.53 L504.5,199.37 L504.8,199.21 L505.1,199.11 L505.4,199.08 L505.7,199.13 L506,199.25 L506.3,199.38 L506.6,199.44 L506.9,199.12 L507.2,197.98 L507.5,196.83 L507.8,198.31 L508.1,202.25 L508.4,203.95 L508.7,202.03 L509,199.77 L509.3,198.88 L509.6,198.8 L509.9,198.95 L510.2,199.13 L510.5,199.27 L510.8,199.34 L511.1,199.34 L511.4,199.26 L511.7,199.13 L512,199 L512.3,198.91 L512.6,198.89 L512.9,198.95 L513.2,199.1 L513.5,199.3 L513.8,199.51 L514.1,199.68 L514.4,199.78 L514.7,199.78 L515,199.69 L515.3,199.53 L515.6,199.34 L515.9,199.17 L516.2,199.05 L516.5,199.01 L516.8,199.05 L517.1,199.15 L517.4,199.28 L517.7,199.4 L518,199.46 L518.3,199.43 L518.6,199.33 L518.9,199.16 L519.2,198.95 L519.5,198.77 L519.8,198.64 L520.1,198.6 L520.4,198.66 L520.7,198.8 L521,198.99 L521.3,199.19 L521.6,199.35 L521.9,199.44 L522.2,199.44 L522.5,199.36 L522.8,199.24 L523.1,199.11 L523.4,199.02 L523.7,199 L524,199.06 L524.3,199.19 L524.6,199.38 L524.9,199.57 L525.2,199.72 L525.5,199.79 L525.8,199.77 L526.1,199.65 L526.4,199.47 L526.7,199.26 L527,199.07 L527.3,198.94 L527.6,198.9 L527.9,198.93 L528.2,199.04 L528.5,199.17 L528.8,199.29 L529.1,199.35 L529.4,199.34 L529.7,199.25 L530,199.09 L530.3,198.91 L530.6,198.75 L530.9,198.64 L531.2,198.63 L531.5,198.71 L531.8,198.87 L532.1,199.08 L532.4,199.29 L532.7,199.46 L533,199.55 L533.3,199.55 L533.6,199.48 L533.9,199.35 L534.2,199.21 L534.5,199.11 L534.8,199.08 L535.1,199.12 L535.4,199.24 L535.7,199.4 L536,199.57 L536.3,199.7 L536.6,199.75 L536.9,199.7 L537.2,199.57 L537.5,199.37 L537.8,199.15 L538.1,198.95 L538.4,198.82 L538.7,198.78 L539,198.82 L539.3,198.94 L539.6,199.08 L539.9,199.21 L540.2,199.29 L540.5,199.3 L540.8,199.22 L541.1,199.09 L541.4,198.92 L541.7,198.78 L542,198.7 L542.3,198.71 L542.6,198.81 L542.9,198.99 L543.2,199.21 L543.5,199.42 L543.8,199.59 L544.1,199.67 L544.4,199.66 L544.7,199.57 L545,199.43 L545.3,199.27 L545.6,199.15 L545.9,199.1 L546.2,199.13 L546.5,199.23 L546.8,199.37 L547.1,199.52 L547.4,199.62 L547.7,199.65 L548,199.59 L548.3,199.45 L548.6,199.24 L548.9,199.02 L549.2,198.83 L549.5,198.71 L549.8,198.68 L550.1,198.74 L550.4,198.87 L550.7,199.04 L551,199.19 L551.3,199.29 L551.6,199.31 L551.9,199.25 L552.2,199.13 L552.5,198.99 L552.8,198.87 L553.1,198.8 L553.4,198.82 L553.7,198.93 L554,199.12 L554.3,199.33 L554.6,199.54 L554.9,199.69 L555.2,199.76 L555.5,199.73 L555.8,199.62 L556.1,199.45 L556.4,199.28 L556.7,199.14 L557,199.07 L557.3,199.08 L557.6,199.16 L557.9,199.29 L558.2,199.42 L558.5,199.52 L558.8,199.54 L559.1,199.47 L559.4,199.32 L559.7,199.12 L560,198.91 L560.3,198.73 L560.6,198.63 L560.9,198.62 L561.2,198.71 L561.5,198.86 L561.8,199.05 L562.1,199.22 L562.4,199.34 L562.7,199.38 L563,199.33 L563.3,199.23 L563.6,199.07 L563.9,198.82 L564.2,198.34 L564.5,197.71 L564.8,197.56 L565.1,198.21 L565.4,199.03 L565.7,199.53 L566,199.74 L566.3,199.8 L566.6,199.74 L566.9,199.61 L567.2,199.42 L567.5,199.23 L567.8,199.07 L568.1,198.98 L568.4,198.98 L568.7,199.06 L569,199.18 L569.3,199.31 L569.6,199.4 L569.9,199.42 L570.2,199.36 L570.5,199.22 L570.8,199.03 L571.1,198.84 L571.4,198.68 L571.7,198.61 L572,198.62 L572.3,198.74 L572.6,198.91 L572.9,199.12 L573.2,199.31 L573.5,199.44 L573.8,199.48 L574.1,199.44 L574.4,199.34 L574.7,199.21 L575,199.09 L575.3,199.03 L575.6,199.04 L575.9,199.14 L576.2,199.3 L576.5,199.49 L576.8,199.65 L577.1,199.76 L577.4,199.78 L577.7,199.7 L578,199.54 L578.3,199.34 L578.6,199.13 L578.9,198.96 L579.2,198.87 L579.5,198.87 L579.8,198.94 L580.1,199.07 L580.4,199.2 L580.7,199.3 L581,199.34 L581.3,199.29 L581.6,199.16 L581.9,199 L582.2,198.82 L582.5,198.69 L582.8,198.64 L583.1,198.68 L583.4,198.82 L583.7,199.01 L584,199.23 L584.3,199.43 L584.6,199.56 L584.9,199.6 L585.2,199.56 L585.5,199.45 L585.8,199.3 L586.1,199.18 L586.4,199.1 L586.7,199.1 L587,199.18 L587.3,199.32 L587.6,199.48 L587.9,199.63 L588.2,199.71 L588.5,199.71 L588.8,199.61 L589.1,199.43 L589.4,199.22 L589.7,199 L590,198.84 L590.3,198.75 L590.6,198.76 L590.9,198.85 L591.2,198.99 L591.5,199.14 L591.8,199.25 L592.1,199.3 L592.4,199.27 L592.7,199.16 L593,199.02 L593.3,198.87 L593.6,198.76 L593.9,198.73 L594.2,198.79 L594.5,198.93 L594.8,199.14 L595.1,199.36 L595.4,199.55 L595.7,199.67 L596,199.71 L596.3,199.65 L596.6,199.52 L596.9,199.36 L597.2,199.21 L597.5,199.12 L597.8,199.1 L598.1,199.16 L598.4,199.28 L598.7,199.43 L599,199.55 L599.3,199.62 L599.6,199.6 L599.9,199.49 L600.2,199.31 L600.5,199.09 L600.8,198.88 L601.1,198.73 L601.4,198.66 L601.7,198.68 L602,198.79 L602.3,198.95 L602.6,199.12 L602.9,199.25 L603.2,199.32 L603.5,199.31 L603.8,199.22 L604.1,199.09 L604.4,198.96 L604.7,198.86 L605,198.84 L605.3,198.91 L605.6,199.06 L605.9,199.26 L606.2,199.47 L606.5,199.65 L606.8,199.76 L607.1,199.77 L607.4,199.69 L607.7,199.54 L608,199.36 L608.3,199.19 L608.6,199.07 L608.9,199.04 L609.2,199.09 L609.5,199.19 L609.8,199.33 L610.1,199.44 L610.4,199.5 L610.7,199.48 L611,199.37 L611.3,199.19 L611.6,198.98 L611.9,198.79 L612.2,198.65 L612.5,198.6 L612.8,198.65 L613.1,198.79 L613.4,198.97 L613.7,199.16 L614,199.31 L614.3,199.4 L614.6,199.39 L614.9,199.32 L615.2,199.2 L615.5,199.07 L615.8,198.98 L616.1,198.96 L616.4,199.02 L616.7,199.17 L617,199.36 L617.3,199.55 L617.6,199.71 L617.9,199.79 L618.2,199.78 L618.5,199.67 L618.8,199.5 L619.1,199.3 L619.4,199.11 L619.7,198.98 L620,198.94 L620.3,198.98 L620.6,199.08 L620.9,199.21 L621.2,199.33 L621.5,199.39 L621.8,199.37 L622.1,199.27 L622.4,199.11 L622.7,198.92 L623,198.75 L623.3,198.63 L623.6,198.61 L623.9,198.69 L624.2,198.84 L624.5,199.05 L624.8,199.25 L625.1,199.42 L625.4,199.51 L625.7,199.51 L626,199.43 L626.3,199.31 L626.6,199.18 L626.9,199.08 L627.2,199.05 L627.5,199.1 L627.8,199.23 L628.1,199.4 L628.4,199.58 L628.7,199.71 L629,199.77 L629.3,199.73 L629.6,199.6 L629.9,199.41 L630.2,199.19 L630.5,199 L630.8,198.87 L631.1,198.82 L631.4,198.86 L631.7,198.97 L632,199.11 L632.3,199.24 L632.6,199.31 L632.9,199.31 L633.2,199.22 L633.5,199.08 L633.8,198.91 L634.1,198.76 L634.4,198.67 L634.7,198.68 L635,198.77" fill="none" stroke="#0000ff" stroke-width="1.35" stroke-dasharray="3,1.4"/>
<path d="M458.5,199.2 L459,192.8 L459.4,200.2" fill="none" stroke="#0000ff" stroke-width="1.2" stroke-linejoin="round"/>
<path d="M487.3,199.2 L487.8,194.6 L488.2,199.2" fill="none" stroke="#0000ff" stroke-width="1.2" stroke-linejoin="round"/>
<path d="M507.4,199.2 L507.9,194.6 L508.3,206" fill="none" stroke="#0000ff" stroke-width="1.2" stroke-linejoin="round"/>
<line x1="637.5" y1="199.2" x2="641.6" y2="199.2" stroke="#0000ff" stroke-width="1.35"/>
<line x1="646.2" y1="199.2" x2="650.7" y2="199.2" stroke="#0000ff" stroke-width="1.35"/>
<line x1="655.3" y1="199.2" x2="659.8" y2="199.2" stroke="#0000ff" stroke-width="1.35"/>
<rect x="46" y="279" width="278" height="1" fill="#555555"/>
<rect x="46" y="279" width="1" height="208" fill="#555555"/>
<rect x="323" y="279" width="1" height="208" fill="#555555"/>
<rect x="46" y="486" width="278" height="1" fill="#555555"/>
<rect x="47" y="470.54" width="3" height="1" fill="#6e6e6e"/>
<rect x="47" y="455.82" width="2" height="1" fill="#6e6e6e"/>
<rect x="47" y="441.1" width="3" height="1" fill="#6e6e6e"/>
<rect x="47" y="426.38" width="2" height="1" fill="#6e6e6e"/>
<rect x="47" y="411.66" width="3" height="1" fill="#6e6e6e"/>
<rect x="47" y="396.94" width="2" height="1" fill="#6e6e6e"/>
<rect x="47" y="382.22" width="3" height="1" fill="#6e6e6e"/>
<rect x="47" y="367.5" width="2" height="1" fill="#6e6e6e"/>
<rect x="47" y="352.78" width="3" height="1" fill="#6e6e6e"/>
<rect x="47" y="338.06" width="2" height="1" fill="#6e6e6e"/>
<rect x="47" y="323.34" width="3" height="1" fill="#6e6e6e"/>
<rect x="47" y="308.62" width="2" height="1" fill="#6e6e6e"/>
<rect x="47" y="293.9" width="3" height="1" fill="#6e6e6e"/>
<text transform="translate(42.1,298.85) scale(1,1.03)" text-anchor="end" font-family="Liberation Sans, sans-serif" font-weight="bold" text-rendering="geometricPrecision" font-size="15.3" fill="#000">100</text>
<text transform="translate(42.1,328.29) scale(1,1.03)" text-anchor="end" font-family="Liberation Sans, sans-serif" font-weight="bold" text-rendering="geometricPrecision" font-size="15.3" fill="#000">80</text>
<text transform="translate(42.1,357.73) scale(1,1.03)" text-anchor="end" font-family="Liberation Sans, sans-serif" font-weight="bold" text-rendering="geometricPrecision" font-size="15.3" fill="#000">60</text>
<text transform="translate(42.1,387.17) scale(1,1.03)" text-anchor="end" font-family="Liberation Sans, sans-serif" font-weight="bold" text-rendering="geometricPrecision" font-size="15.3" fill="#000">40</text>
<text transform="translate(42.1,416.61) scale(1,1.03)" text-anchor="end" font-family="Liberation Sans, sans-serif" font-weight="bold" text-rendering="geometricPrecision" font-size="15.3" fill="#000">20</text>
<text transform="translate(42.1,446.05) scale(1,1.03)" text-anchor="end" font-family="Liberation Sans, sans-serif" font-weight="bold" text-rendering="geometricPrecision" font-size="15.3" fill="#000">0</text>
<text transform="translate(42.1,475.49) scale(1,1.03)" text-anchor="end" font-family="Liberation Sans, sans-serif" font-weight="bold" text-rendering="geometricPrecision" font-size="15.3" fill="#000">-20</text>
<rect x="74.9" y="483" width="1" height="3" fill="#6e6e6e"/>
<rect x="104.45" y="484" width="1" height="2" fill="#6e6e6e"/>
<rect x="134" y="483" width="1" height="3" fill="#6e6e6e"/>
<rect x="163.55" y="484" width="1" height="2" fill="#6e6e6e"/>
<rect x="193.1" y="483" width="1" height="3" fill="#6e6e6e"/>
<rect x="222.65" y="484" width="1" height="2" fill="#6e6e6e"/>
<rect x="252.2" y="483" width="1" height="3" fill="#6e6e6e"/>
<rect x="281.75" y="484" width="1" height="2" fill="#6e6e6e"/>
<rect x="311.3" y="483" width="1" height="3" fill="#6e6e6e"/>
<text transform="translate(75.7,502) scale(1,1.03)" text-anchor="middle" font-family="Liberation Sans, sans-serif" font-weight="bold" text-rendering="geometricPrecision" font-size="15.3" fill="#000">10000</text>
<text transform="translate(134.8,502) scale(1,1.03)" text-anchor="middle" font-family="Liberation Sans, sans-serif" font-weight="bold" text-rendering="geometricPrecision" font-size="15.3" fill="#000">20000</text>
<text transform="translate(193.9,502) scale(1,1.03)" text-anchor="middle" font-family="Liberation Sans, sans-serif" font-weight="bold" text-rendering="geometricPrecision" font-size="15.3" fill="#000">30000</text>
<text transform="translate(253,502) scale(1,1.03)" text-anchor="middle" font-family="Liberation Sans, sans-serif" font-weight="bold" text-rendering="geometricPrecision" font-size="15.3" fill="#000">40000</text>
<text transform="translate(312.1,502) scale(1,1.03)" text-anchor="middle" font-family="Liberation Sans, sans-serif" font-weight="bold" text-rendering="geometricPrecision" font-size="15.3" fill="#000">50000</text>
<text transform="translate(184.85,526) scale(1,1.03)" text-anchor="middle" font-family="Liberation Sans, sans-serif" font-weight="bold" text-rendering="geometricPrecision" font-size="15.3" fill="#000">t.o.f. (μ sec.)</text>
<text transform="translate(12.2,382.75) rotate(-90)" text-anchor="middle" font-family="Liberation Sans, sans-serif" font-weight="bold" text-rendering="geometricPrecision" font-size="15.3" fill="#000">Intensity (arb. units)</text>
<text x="56.8" y="303" font-family="Liberation Serif, serif" font-weight="bold" text-rendering="geometricPrecision" font-size="20" fill="#000">c</text>
<text transform="translate(205.5,304.7) scale(1,1.03)" font-family="Liberation Sans, sans-serif" font-weight="bold" text-rendering="geometricPrecision" font-size="15.3" fill="#ff0000">Neutron profile</text>
<text transform="translate(205.5,324) scale(1,1.03)" font-family="Liberation Sans, sans-serif" font-weight="bold" text-rendering="geometricPrecision" font-size="15.3" fill="#000000">Fitted profile</text>
<text transform="translate(205.5,342.4) scale(1,1.03)" font-family="Liberation Sans, sans-serif" font-weight="bold" text-rendering="geometricPrecision" font-size="15.3" fill="#0000ff">Residual</text>
<text transform="translate(205.5,360.5) scale(1,1.03)" font-family="Liberation Sans, sans-serif" font-weight="bold" text-rendering="geometricPrecision" font-size="15.3" fill="#009900">Bragg_position</text>
<rect x="189.15" y="300.5" width="1.9" height="1.9" fill="#ff0000"/>
<line x1="178.8" y1="320.8" x2="201.4" y2="320.8" stroke="#000" stroke-width="1.15"/>
<line x1="178.7" y1="339.4" x2="202" y2="339.4" stroke="#0000ff" stroke-width="1.15" stroke-dasharray="4.6,4.5"/>
<line x1="190.1" y1="354" x2="190.1" y2="360.5" stroke="#33aa33" stroke-width="1"/>
<line x1="71.5" y1="446.3" x2="71.5" y2="452.6" stroke="#22a022" stroke-width="1" stroke-opacity="0.8"/>
<line x1="73.3" y1="446.3" x2="73.3" y2="452.6" stroke="#22a022" stroke-width="1" stroke-opacity="0.8"/>
<line x1="75.6" y1="446.3" x2="75.6" y2="452.6" stroke="#22a022" stroke-width="1" stroke-opacity="0.8"/>
<line x1="76.6" y1="446.3" x2="76.6" y2="452.6" stroke="#22a022" stroke-width="1" stroke-opacity="0.8"/>
<line x1="78.5" y1="446.3" x2="78.5" y2="452.6" stroke="#22a022" stroke-width="1" stroke-opacity="0.8"/>
<line x1="81.4" y1="446.3" x2="81.4" y2="452.6" stroke="#22a022" stroke-width="1" stroke-opacity="0.8"/>
<line x1="82.4" y1="446.3" x2="82.4" y2="452.6" stroke="#22a022" stroke-width="1" stroke-opacity="0.8"/>
<line x1="83.4" y1="446.3" x2="83.4" y2="452.6" stroke="#22a022" stroke-width="1" stroke-opacity="0.8"/>
<line x1="85.9" y1="446.3" x2="85.9" y2="452.6" stroke="#22a022" stroke-width="1" stroke-opacity="0.8"/>
<line x1="92.2" y1="446.3" x2="92.2" y2="452.6" stroke="#22a022" stroke-width="1" stroke-opacity="0.8"/>
<line x1="96.5" y1="446.3" x2="96.5" y2="452.6" stroke="#22a022" stroke-width="1" stroke-opacity="0.8"/>
<line x1="104.4" y1="446.3" x2="104.4" y2="452.6" stroke="#22a022" stroke-width="1" stroke-opacity="0.8"/>
<line x1="106.6" y1="446.3" x2="106.6" y2="452.6" stroke="#22a022" stroke-width="1" stroke-opacity="0.8"/>
<line x1="114.4" y1="446.3" x2="114.4" y2="452.6" stroke="#22a022" stroke-width="1" stroke-opacity="0.8"/>
<line x1="129.6" y1="446.3" x2="129.6" y2="452.6" stroke="#22a022" stroke-width="1" stroke-opacity="0.8"/>
<line x1="134.6" y1="446.3" x2="134.6" y2="452.6" stroke="#22a022" stroke-width="1" stroke-opacity="0.8"/>
<line x1="154.8" y1="446.3" x2="154.8" y2="452.6" stroke="#22a022" stroke-width="1" stroke-opacity="0.8"/>
<line x1="212.3" y1="446.3" x2="212.3" y2="452.6" stroke="#22a022" stroke-width="1" stroke-opacity="0.8"/>
<line x1="242.6" y1="446.3" x2="242.6" y2="452.6" stroke="#22a022" stroke-width="1" stroke-opacity="0.8"/>
<path d="M75.1,441.36 L75.6,441.5 L76.1,441.5 L76.6,441.48 L77.1,441.29 L77.6,441.47 L78.1,441.45 L78.6,441.44 L79.1,441.52 L79.6,441.29 L80.1,441.31 L80.6,441.46 L81.1,441.51 L81.6,441.44 L82.1,441.35 L82.6,441.42 L83.1,441.46 L83.6,441.31 L84.1,441.36 L84.6,441.34 L85.1,441.31 L85.6,441.4 L86.1,441.32 L86.6,441.34 L87.1,441.31 L87.6,441.44 L88.1,441.28 L88.6,441.45 L89.1,441.33 L89.6,441.29 L90.1,441.5 L90.6,441.33 L91.1,441.5 L91.6,441.49 L92.1,441.49 L92.6,441.31 L93.1,441.39 L93.6,441.3 L94.1,441.5 L94.6,441.48 L95.1,441.43 L95.6,441.39 L96.1,441.36 L96.6,441.48 L97.1,441.39 L97.6,441.43 L98.1,441.31 L98.6,441.33 L99.1,441.29 L99.6,441.45 L100.1,441.41 L100.6,441.31 L101.1,441.49 L101.6,441.34 L102.1,441.38 L102.6,441.32 L103.1,441.35 L103.6,441.48 L104.1,441.36 L104.6,441.32 L105.1,441.4 L105.6,441.36 L106.1,441.5 L106.6,441.31 L107.1,441.51 L107.6,441.29 L108.1,441.49 L108.6,441.44 L109.1,441.33 L109.6,441.39 L110.1,441.35 L110.6,441.34 L111.1,441.33 L111.6,441.37 L112.1,441.52 L112.6,441.52 L113.1,441.5 L113.6,441.3 L114.1,441.35 L114.6,441.5 L115.1,441.29 L115.6,441.45 L116.1,441.35 L116.6,441.51 L117.1,441.28 L117.6,441.47 L118.1,441.36 L118.6,441.31 L119.1,441.28 L119.6,441.48 L120.1,441.41 L120.6,441.32 L121.1,441.38 L121.6,441.5 L122.1,441.33 L122.6,441.42 L123.1,441.31 L123.6,441.32 L124.1,441.46 L124.6,441.45 L125.1,441.33 L125.6,441.3 L126.1,441.3 L126.6,441.43 L127.1,441.4 L127.6,441.35 L128.1,441.33 L128.6,441.43 L129.1,441.45 L129.6,441.47 L130.1,441.42 L130.6,441.33 L131.1,441.3 L131.6,441.46 L132.1,441.38 L132.6,441.45 L133.1,441.29 L133.6,441.47 L134.1,441.36 L134.6,441.48 L135.1,441.49 L135.6,441.4 L136.1,441.28 L136.6,441.5 L137.1,441.39 L137.6,441.49 L138.1,441.34 L138.6,441.32 L139.1,441.48 L139.6,441.37 L140.1,441.32 L140.6,441.37 L141.1,441.42 L141.6,441.28 L142.1,441.4 L142.6,441.39 L143.1,441.4 L143.6,441.31 L144.1,441.45 L144.6,441.48 L145.1,441.49 L145.6,441.36 L146.1,441.45 L146.6,441.37 L147.1,441.46 L147.6,441.29 L148.1,441.49 L148.6,441.51 L149.1,441.4 L149.6,441.4 L150.1,441.41 L150.6,441.41 L151.1,441.28 L151.6,441.51 L152.1,441.33 L152.6,441.32 L153.1,441.3 L153.6,441.34 L154.1,441.48 L154.6,441.29 L155.1,441.3 L155.6,441.45 L156.1,441.33 L156.6,441.28 L157.1,441.42 L157.6,441.42 L158.1,441.41 L158.6,441.45 L159.1,441.3 L159.6,441.49 L160.1,441.45 L160.6,441.29 L161.1,441.31 L161.6,441.4 L162.1,441.4 L162.6,441.35 L163.1,441.31 L163.6,441.38 L164.1,441.31 L164.6,441.42 L165.1,441.49 L165.6,441.32 L166.1,441.42 L166.6,441.46 L167.1,441.32 L167.6,441.48 L168.1,441.51 L168.6,441.37 L169.1,441.38 L169.6,441.48 L170.1,441.41 L170.6,441.37 L171.1,441.51 L171.6,441.47 L172.1,441.36 L172.6,441.34 L173.1,441.36 L173.6,441.38 L174.1,441.52 L174.6,441.47 L175.1,441.5 L175.6,441.48 L176.1,441.48 L176.6,441.29 L177.1,441.4 L177.6,441.51 L178.1,441.5 L178.6,441.34 L179.1,441.38 L179.6,441.43 L180.1,441.37 L180.6,441.41 L181.1,441.3 L181.6,441.38 L182.1,441.4 L182.6,441.28 L183.1,441.31 L183.6,441.51 L184.1,441.47 L184.6,441.5 L185.1,441.43 L185.6,441.47 L186.1,441.49 L186.6,441.49 L187.1,441.29 L187.6,441.43 L188.1,441.34 L188.6,441.44 L189.1,441.35 L189.6,441.41 L190.1,441.5 L190.6,441.43 L191.1,441.34 L191.6,441.4 L192.1,441.38 L192.6,441.51 L193.1,441.35 L193.6,441.35 L194.1,441.44 L194.6,441.31 L195.1,441.42 L195.6,441.51 L196.1,441.4 L196.6,441.34 L197.1,441.39 L197.6,441.41 L198.1,441.32 L198.6,441.31 L199.1,441.31 L199.6,441.35 L200.1,441.38 L200.6,441.35 L201.1,441.34 L201.6,441.3 L202.1,441.41 L202.6,441.48 L203.1,441.43 L203.6,441.42 L204.1,441.44 L204.6,441.33 L205.1,441.45 L205.6,441.39 L206.1,441.41 L206.6,441.43 L207.1,441.39 L207.6,441.35 L208.1,441.34 L208.6,441.33 L209.1,441.4 L209.6,441.37 L210.1,441.42 L210.6,441.28 L211.1,441.36 L211.6,441.49 L212.1,441.34 L212.6,441.41 L213.1,441.4 L213.6,441.35 L214.1,441.52 L214.6,441.35 L215.1,441.47 L215.6,441.32 L216.1,441.3 L216.6,441.49 L217.1,441.39 L217.6,441.29 L218.1,441.37 L218.6,441.39 L219.1,441.46 L219.6,441.31 L220.1,441.33 L220.6,441.51 L221.1,441.46 L221.6,441.32 L222.1,441.36 L222.6,441.36 L223.1,441.44 L223.6,441.43 L224.1,441.48 L224.6,441.48 L225.1,441.4 L225.6,441.46 L226.1,441.46 L226.6,441.46 L227.1,441.39 L227.6,441.47 L228.1,441.45 L228.6,441.5 L229.1,441.31 L229.6,441.49 L230.1,441.28 L230.6,441.46 L231.1,441.42 L231.6,441.4 L232.1,441.51 L232.6,441.42 L233.1,441.38 L233.6,441.47 L234.1,441.49 L234.6,441.43 L235.1,441.37 L235.6,441.39 L236.1,441.39 L236.6,441.45 L237.1,441.35 L237.6,441.37 L238.1,441.41 L238.6,441.37 L239.1,441.36 L239.6,441.47 L240.1,441.48 L240.6,441.4 L241.1,441.39 L241.6,441.32 L242.1,441.35 L242.6,441.31 L243.1,441.42 L243.6,441.42 L244.1,441.3 L244.6,441.5 L245.1,441.36 L245.6,441.48 L246.1,441.48 L246.6,441.51 L247.1,441.33 L247.6,441.38 L248.1,441.5 L248.6,441.28 L249.1,441.29 L249.6,441.42 L250.1,441.4 L250.6,441.5 L251.1,441.47 L251.6,441.41 L252.1,441.52 L252.6,441.4 L253.1,441.4 L253.6,441.44 L254.1,441.37 L254.6,441.37 L255.1,441.42 L255.6,441.36 L256.1,441.51 L256.6,441.44 L257.1,441.41 L257.6,441.3 L258.1,441.37 L258.6,441.38 L259.1,441.41 L259.6,441.42 L260.1,441.49 L260.6,441.51 L261.1,441.4 L261.6,441.39 L262.1,441.43 L262.6,441.52 L263.1,441.36 L263.6,441.41 L264.1,441.48 L264.6,441.32 L265.1,441.36 L265.6,441.51 L266.1,441.48 L266.6,441.4 L267.1,441.31 L267.6,441.49 L268.1,441.45 L268.6,441.48 L269.1,441.52 L269.6,441.49 L270.1,441.38 L270.6,441.32 L271.1,441.35 L271.6,441.4 L272.1,441.4 L272.6,441.33 L273.1,441.32 L273.6,441.43 L274.1,441.42 L274.6,441.36 L275.1,441.52 L275.6,441.43 L276.1,441.29 L276.6,441.38 L277.1,441.47 L277.6,441.35 L278.1,441.45 L278.6,441.28 L279.1,441.35 L279.6,441.48 L280.1,441.42 L280.6,441.44 L281.1,441.33 L281.6,441.4 L282.1,441.41 L282.6,441.34 L283.1,441.44 L283.6,441.41 L284.1,441.52 L284.6,441.42 L285.1,441.38 L285.6,441.31 L286.1,441.32 L286.6,441.46 L287.1,441.31 L287.6,441.3 L288.1,441.32 L288.6,441.41 L289.1,441.48 L289.6,441.43 L290.1,441.47 L290.6,441.29 L291.1,441.28 L291.6,441.46 L292.1,441.36 L292.6,441.45 L293.1,441.36 L293.6,441.32 L294.1,441.34 L294.6,441.3 L295.1,441.5 L295.6,441.42 L296.1,441.36 L296.6,441.39 L297.1,441.37 L297.6,441.29 L298.1,441.49 L298.6,441.42 L299.1,441.51 L299.6,441.39 L300.1,441.43 L300.6,441.34 L301.1,441.29 L301.6,441.5 L302.1,441.49 L302.6,441.36 L303.1,441.5 L303.6,441.48 L304.1,441.35 L304.6,441.42 L305.1,441.51 L305.6,441.4 L306.1,441.51 L306.6,441.34 L307.1,441.37 L307.6,441.45 L308.1,441.33 L308.6,441.35 L309.1,441.49 L309.6,441.4 L310.1,441.47 L310.6,441.34 L311.1,441.32 L311.6,441.37" fill="none" stroke="#ff0000" stroke-width="2.8" stroke-linejoin="round"/>
<path d="M81.57,437.96h1.6v1.6h-1.6zM81.48,437.35h1.6v1.6h-1.6zM81.55,436.45h1.6v1.6h-1.6zM81.58,435.78h1.6v1.6h-1.6zM81.55,434.69h1.6v1.6h-1.6zM81.72,434.34h1.6v1.6h-1.6zM81.74,433.18h1.6v1.6h-1.6zM81.83,432.59h1.6v1.6h-1.6zM82.09,432.01h1.6v1.6h-1.6zM81.96,432.09h1.6v1.6h-1.6zM82.02,432.48h1.6v1.6h-1.6zM82.39,432.58h1.6v1.6h-1.6zM82.32,433.1h1.6v1.6h-1.6zM82.54,434.35h1.6v1.6h-1.6zM82.44,434.75h1.6v1.6h-1.6zM82.53,436h1.6v1.6h-1.6zM82.54,437h1.6v1.6h-1.6zM82.74,437.77h1.6v1.6h-1.6zM82.8,437.99h1.6v1.6h-1.6zM84.12,438.31h1.6v1.6h-1.6zM84.28,437.67h1.6v1.6h-1.6zM84.15,436.95h1.6v1.6h-1.6zM84.32,435.58h1.6v1.6h-1.6zM84.51,434.2h1.6v1.6h-1.6zM84.45,432.59h1.6v1.6h-1.6zM84.43,431.19h1.6v1.6h-1.6zM84.55,429.62h1.6v1.6h-1.6zM84.71,427.84h1.6v1.6h-1.6zM84.72,426.05h1.6v1.6h-1.6zM84.71,424.65h1.6v1.6h-1.6zM84.85,424.46h1.6v1.6h-1.6zM84.84,424.03h1.6v1.6h-1.6zM85.02,424.23h1.6v1.6h-1.6zM85.08,424.97h1.6v1.6h-1.6zM85.16,425.86h1.6v1.6h-1.6zM85.17,427.52h1.6v1.6h-1.6zM85.31,429.58h1.6v1.6h-1.6zM85.64,431.1h1.6v1.6h-1.6zM85.71,433.04h1.6v1.6h-1.6zM85.49,434.64h1.6v1.6h-1.6zM85.53,435.6h1.6v1.6h-1.6zM85.87,437.01h1.6v1.6h-1.6zM85.85,437.72h1.6v1.6h-1.6zM86.04,438.64h1.6v1.6h-1.6zM102.42,438.21h1.6v1.6h-1.6zM102.41,437.65h1.6v1.6h-1.6zM102.29,436.82h1.6v1.6h-1.6zM102.61,436.52h1.6v1.6h-1.6zM102.42,435.59h1.6v1.6h-1.6zM102.54,434.35h1.6v1.6h-1.6zM102.68,433.75h1.6v1.6h-1.6zM102.66,433.31h1.6v1.6h-1.6zM102.98,432.9h1.6v1.6h-1.6zM103.14,432.68h1.6v1.6h-1.6zM103.17,433.08h1.6v1.6h-1.6zM103.13,433.23h1.6v1.6h-1.6zM103.18,434.08h1.6v1.6h-1.6zM103.45,434.33h1.6v1.6h-1.6zM103.31,435.63h1.6v1.6h-1.6zM103.62,435.95h1.6v1.6h-1.6zM103.38,437.1h1.6v1.6h-1.6zM103.48,437.58h1.6v1.6h-1.6zM103.6,438.55h1.6v1.6h-1.6zM104.76,438.46h1.6v1.6h-1.6zM104.82,437.07h1.6v1.6h-1.6zM104.92,436.11h1.6v1.6h-1.6zM104.81,434.94h1.6v1.6h-1.6zM105.16,432.62h1.6v1.6h-1.6zM105.23,430.7h1.6v1.6h-1.6zM105.24,428.44h1.6v1.6h-1.6zM105.27,425.88h1.6v1.6h-1.6zM105.12,422.82h1.6v1.6h-1.6zM105.35,420.33h1.6v1.6h-1.6zM105.63,417.75h1.6v1.6h-1.6zM105.64,415.47h1.6v1.6h-1.6zM105.7,414.12h1.6v1.6h-1.6zM105.6,414.38h1.6v1.6h-1.6zM105.97,414.58h1.6v1.6h-1.6zM105.88,415.92h1.6v1.6h-1.6zM105.76,417.52h1.6v1.6h-1.6zM105.98,420.05h1.6v1.6h-1.6zM106.02,422.62h1.6v1.6h-1.6zM106.26,425.34h1.6v1.6h-1.6zM106.16,428.43h1.6v1.6h-1.6zM106.35,430.57h1.6v1.6h-1.6zM106.59,432.87h1.6v1.6h-1.6zM106.42,434.62h1.6v1.6h-1.6zM106.44,436.44h1.6v1.6h-1.6zM106.59,437.37h1.6v1.6h-1.6zM106.76,438.4h1.6v1.6h-1.6zM133.27,438.49h1.6v1.6h-1.6zM133.52,438.08h1.6v1.6h-1.6zM133.67,437.64h1.6v1.6h-1.6zM133.49,437.63h1.6v1.6h-1.6zM133.66,437.12h1.6v1.6h-1.6zM133.62,437.01h1.6v1.6h-1.6zM133.76,437.12h1.6v1.6h-1.6zM133.94,437.55h1.6v1.6h-1.6zM133.97,437.42h1.6v1.6h-1.6zM134.07,437.96h1.6v1.6h-1.6zM134.03,438.12h1.6v1.6h-1.6zM152.86,436.7h1.6v1.6h-1.6zM152.57,436.31h1.6v1.6h-1.6zM153.01,435.04h1.6v1.6h-1.6zM152.74,433.11h1.6v1.6h-1.6zM152.95,430.45h1.6v1.6h-1.6zM153.08,426.57h1.6v1.6h-1.6zM153.31,421.43h1.6v1.6h-1.6zM153.27,415.39h1.6v1.6h-1.6zM153.36,407.27h1.6v1.6h-1.6zM153.28,396.16h1.6v1.6h-1.6zM153.27,383.63h1.6v1.6h-1.6zM153.68,370.4h1.6v1.6h-1.6zM153.49,354.33h1.6v1.6h-1.6zM153.84,339.03h1.6v1.6h-1.6zM153.65,324.17h1.6v1.6h-1.6zM153.99,310.02h1.6v1.6h-1.6zM153.87,298.82h1.6v1.6h-1.6zM154.15,290.26h1.6v1.6h-1.6zM154.05,288.06h1.6v1.6h-1.6zM154.13,291.14h1.6v1.6h-1.6zM154.16,299.03h1.6v1.6h-1.6zM154.37,308.41h1.6v1.6h-1.6zM154.55,323.57h1.6v1.6h-1.6zM154.66,339.15h1.6v1.6h-1.6zM154.58,355.39h1.6v1.6h-1.6zM154.52,370h1.6v1.6h-1.6zM154.77,383.83h1.6v1.6h-1.6zM154.9,395.97h1.6v1.6h-1.6zM154.88,406.5h1.6v1.6h-1.6zM154.82,415.68h1.6v1.6h-1.6zM155.04,421.45h1.6v1.6h-1.6zM155.23,426.57h1.6v1.6h-1.6zM155.36,430.1h1.6v1.6h-1.6zM155.41,433.31h1.6v1.6h-1.6zM155.29,434.84h1.6v1.6h-1.6zM155.47,436.26h1.6v1.6h-1.6zM211.4,438.48h1.6v1.6h-1.6zM211.61,438.32h1.6v1.6h-1.6zM211.78,438.44h1.6v1.6h-1.6zM211.62,437.99h1.6v1.6h-1.6zM211.81,438.2h1.6v1.6h-1.6zM211.74,438.26h1.6v1.6h-1.6zM211.87,438.27h1.6v1.6h-1.6z" fill="#ff0000"/>
<line x1="75.6" y1="441.4" x2="311.3" y2="441.4" stroke="#000" stroke-width="1.6"/>
<path d="M75.1,441.4 L75.35,441.4 L75.6,441.4 L75.85,441.4 L76.1,441.4 L76.35,441.4 L76.6,441.4 L76.85,441.4 L77.1,441.4 L77.35,441.4 L77.6,441.39 L77.85,441.39 L78.1,441.39 L78.35,441.39 L78.6,441.39 L78.85,441.39 L79.1,441.38 L79.35,441.38 L79.6,441.38 L79.85,441.37 L80.1,441.37 L80.35,441.36 L80.6,441.34 L80.85,441.32 L81.1,441.3 L81.35,441.27 L81.6,441.17 L81.85,440.87 L82.1,440.1 L82.35,438.64 L82.6,436.82 L82.85,435.68 L83.1,436.19 L83.35,437.88 L83.6,439.54 L83.85,440.54 L84.1,440.95 L84.35,441 L84.6,440.74 L84.85,439.84 L85.1,437.73 L85.35,434.29 L85.6,430.81 L85.85,429.75 L86.1,432.07 L86.35,435.81 L86.6,438.78 L86.85,440.36 L87.1,440.97 L87.35,441.17 L87.6,441.24 L87.85,441.28 L88.1,441.3 L88.35,441.32 L88.6,441.34 L88.85,441.35 L89.1,441.35 L89.35,441.36 L89.6,441.37 L89.85,441.37 L90.1,441.37 L90.35,441.38 L90.6,441.38 L90.85,441.38 L91.1,441.38 L91.35,441.4 L91.6,441.4 L91.85,441.4 L92.1,441.4 L92.35,441.4 L92.6,441.4 L92.85,441.4 L93.1,441.4 L93.35,441.4 L93.6,441.4 L93.85,441.4 L94.1,441.4 L94.35,441.4 L94.6,441.4 L94.85,441.4 L95.1,441.4 L95.35,441.4 L95.6,441.4 L95.85,441.4 L96.1,441.4 L96.35,441.4 L96.6,441.4 L96.85,441.4 L97.1,441.4 L97.35,441.4 L97.6,441.4 L97.85,441.4 L98.1,441.4 L98.35,441.4 L98.6,441.39 L98.85,441.39 L99.1,441.39 L99.35,441.38 L99.6,441.38 L99.85,441.38 L100.1,441.38 L100.35,441.37 L100.6,441.37 L100.85,441.36 L101.1,441.32 L101.35,441.31 L101.6,441.29 L101.85,441.27 L102.1,441.24 L102.35,441.17 L102.6,440.96 L102.85,440.37 L103.1,439.02 L103.35,436.82 L103.6,434.6 L103.85,433.9 L104.1,435.34 L104.35,437.65 L104.6,439.48 L104.85,440.37 L105.1,440.49 L105.35,439.78 L105.6,437.45 L105.85,432.35 L106.1,424.67 L106.35,417.86 L106.6,417.1 L106.85,423.1 L107.1,431 L107.35,436.75 L107.6,439.59 L107.85,440.63 L108.1,440.96 L108.35,441.09 L108.6,441.15 L108.85,441.2 L109.1,441.23 L109.35,441.27 L109.6,441.29 L109.85,441.31 L110.1,441.32 L110.35,441.33 L110.6,441.34 L110.85,441.34 L111.1,441.35 L111.35,441.35 L111.6,441.36 L111.85,441.36 L112.1,441.4 L112.35,441.4 L112.6,441.4 L112.85,441.4 L113.1,441.4 L113.35,441.4 L113.6,441.4 L113.85,441.4 L114.1,441.4 L114.35,441.4 L114.6,441.4 L114.85,441.4 L115.1,441.4 L115.35,441.4 L115.6,441.4 L115.85,441.4 L116.1,441.4 L116.35,441.4 L116.6,441.4 L116.85,441.4 L117.1,441.4 L117.35,441.4 L117.6,441.4 L117.85,441.4 L118.1,441.4 L118.35,441.4 L118.6,441.4 L118.85,441.4 L119.1,441.4 L119.35,441.4 L119.6,441.4 L119.85,441.4 L120.1,441.4 L120.35,441.4 L120.6,441.4 L120.85,441.4 L121.1,441.4 L121.35,441.4 L121.6,441.4 L121.85,441.4 L122.1,441.4 L122.35,441.4 L122.6,441.4 L122.85,441.4 L123.1,441.4 L123.35,441.4 L123.6,441.4 L123.85,441.4 L124.1,441.4 L124.35,441.4 L124.6,441.4 L124.85,441.4 L125.1,441.4 L125.35,441.4 L125.6,441.4 L125.85,441.4 L126.1,441.4 L126.35,441.4 L126.6,441.4 L126.85,441.4 L127.1,441.4 L127.35,441.4 L127.6,441.4 L127.85,441.4 L128.1,441.4 L128.35,441.4 L128.6,441.4 L128.85,441.4 L129.1,441.4 L129.35,441.4 L129.6,441.4 L129.85,441.4 L130.1,441.4 L130.35,441.4 L130.6,441.39 L130.85,441.39 L131.1,441.39 L131.35,441.39 L131.6,441.39 L131.85,441.39 L132.1,441.39 L132.35,441.38 L132.6,441.38 L132.85,441.37 L133.1,441.36 L133.35,441.32 L133.6,441.2 L133.85,440.9 L134.1,440.38 L134.35,439.78 L134.6,439.5 L134.85,439.78 L135.1,440.38 L135.35,440.9 L135.6,441.2 L135.85,441.32 L136.1,441.36 L136.35,441.37 L136.6,441.38 L136.85,441.38 L137.1,441.39 L137.35,441.39 L137.6,441.39 L137.85,441.39 L138.1,441.39 L138.35,441.39 L138.6,441.39 L138.85,441.4 L139.1,441.4 L139.35,441.4 L139.6,441.4 L139.85,441.4 L140.1,441.4 L140.35,441.4 L140.6,441.4 L140.85,441.4 L141.1,441.4 L141.35,441.4 L141.6,441.4 L141.85,441.4 L142.1,441.4 L142.35,441.4 L142.6,441.4 L142.85,441.4 L143.1,441.4 L143.35,441.4 L143.6,441.4 L143.85,441.4 L144.1,441.4 L144.35,441.4 L144.6,441.4 L144.85,441.4 L145.1,441.4 L145.35,441.4 L145.6,441.4 L145.85,441.4 L146.1,441.4 L146.35,441.4 L146.6,441.4 L146.85,441.4 L147.1,441.4 L147.35,441.4 L147.6,441.4 L147.85,441.4 L148.1,441.4 L148.35,441.4 L148.6,441.4 L148.85,441.4 L149.1,441.4 L149.35,441.4 L149.6,441.18 L149.85,441.16 L150.1,441.13 L150.35,441.1 L150.6,441.07 L150.85,441.02 L151.1,440.97 L151.35,440.91 L151.6,440.84 L151.85,440.75 L152.1,440.63 L152.35,440.48 L152.6,440.28 L152.85,440 L153.1,439.58 L153.35,438.75 L153.6,436.36 L153.85,428.89 L154.1,409.57 L154.35,373.09 L154.6,327.36 L154.85,298.93 L155.1,312.06 L155.35,354.78 L155.6,397.02 L155.85,423.02 L156.1,434.3 L156.35,438.1 L156.6,439.33 L156.85,439.86 L157.1,440.18 L157.35,440.4 L157.6,440.57 L157.85,440.7 L158.1,440.8 L158.35,440.89 L158.6,440.95 L158.85,441.01 L159.1,441.05 L159.35,441.09 L159.6,441.12 L159.85,441.15 L160.1,441.17 L160.35,441.4 L160.6,441.4 L160.85,441.4 L161.1,441.4 L161.35,441.4 L161.6,441.4 L161.85,441.4 L162.1,441.4 L162.35,441.4 L162.6,441.4 L162.85,441.4 L163.1,441.4 L163.35,441.4 L163.6,441.4 L163.85,441.4 L164.1,441.4 L164.35,441.4 L164.6,441.4 L164.85,441.4 L165.1,441.4 L165.35,441.4 L165.6,441.4 L165.85,441.4 L166.1,441.4 L166.35,441.4 L166.6,441.4 L166.85,441.4 L167.1,441.4 L167.35,441.4 L167.6,441.4 L167.85,441.4 L168.1,441.4 L168.35,441.4 L168.6,441.4 L168.85,441.4 L169.1,441.4 L169.35,441.4 L169.6,441.4 L169.85,441.4 L170.1,441.4 L170.35,441.4 L170.6,441.4 L170.85,441.4 L171.1,441.4 L171.35,441.4 L171.6,441.4 L171.85,441.4 L172.1,441.4 L172.35,441.4 L172.6,441.4 L172.85,441.4 L173.1,441.4 L173.35,441.4 L173.6,441.4 L173.85,441.4 L174.1,441.4 L174.35,441.4 L174.6,441.4 L174.85,441.4 L175.1,441.4 L175.35,441.4 L175.6,441.4 L175.85,441.4 L176.1,441.4 L176.35,441.4 L176.6,441.4 L176.85,441.4 L177.1,441.4 L177.35,441.4 L177.6,441.4 L177.85,441.4 L178.1,441.4 L178.35,441.4 L178.6,441.4 L178.85,441.4 L179.1,441.4 L179.35,441.4 L179.6,441.4 L179.85,441.4 L180.1,441.4 L180.35,441.4 L180.6,441.4 L180.85,441.4 L181.1,441.4 L181.35,441.4 L181.6,441.4 L181.85,441.4 L182.1,441.4 L182.35,441.4 L182.6,441.4 L182.85,441.4 L183.1,441.4 L183.35,441.4 L183.6,441.4 L183.85,441.4 L184.1,441.4 L184.35,441.4 L184.6,441.4 L184.85,441.4 L185.1,441.4 L185.35,441.4 L185.6,441.4 L185.85,441.4 L186.1,441.4 L186.35,441.4 L186.6,441.4 L186.85,441.4 L187.1,441.4 L187.35,441.4 L187.6,441.4 L187.85,441.4 L188.1,441.4 L188.35,441.4 L188.6,441.4 L188.85,441.4 L189.1,441.4 L189.35,441.4 L189.6,441.4 L189.85,441.4 L190.1,441.4 L190.35,441.4 L190.6,441.4 L190.85,441.4 L191.1,441.4 L191.35,441.4 L191.6,441.4 L191.85,441.4 L192.1,441.4 L192.35,441.4 L192.6,441.4 L192.85,441.4 L193.1,441.4 L193.35,441.4 L193.6,441.4 L193.85,441.4 L194.1,441.4 L194.35,441.4 L194.6,441.4 L194.85,441.4 L195.1,441.4 L195.35,441.4 L195.6,441.4 L195.85,441.4 L196.1,441.4 L196.35,441.4 L196.6,441.4 L196.85,441.4 L197.1,441.4 L197.35,441.4 L197.6,441.4 L197.85,441.4 L198.1,441.4 L198.35,441.4 L198.6,441.4 L198.85,441.4 L199.1,441.4 L199.35,441.4 L199.6,441.4 L199.85,441.4 L200.1,441.4 L200.35,441.4 L200.6,441.4 L200.85,441.4 L201.1,441.4 L201.35,441.4 L201.6,441.4 L201.85,441.4 L202.1,441.4 L202.35,441.4 L202.6,441.4 L202.85,441.4 L203.1,441.4 L203.35,441.4 L203.6,441.4 L203.85,441.4 L204.1,441.4 L204.35,441.4 L204.6,441.4 L204.85,441.4 L205.1,441.4 L205.35,441.4 L205.6,441.4 L205.85,441.4 L206.1,441.4 L206.35,441.4 L206.6,441.4 L206.85,441.4 L207.1,441.4 L207.35,441.4 L207.6,441.4 L207.85,441.4 L208.1,441.4 L208.35,441.4 L208.6,441.4 L208.85,441.4 L209.1,441.39 L209.35,441.39 L209.6,441.39 L209.85,441.39 L210.1,441.39 L210.35,441.39 L210.6,441.38 L210.85,441.38 L211.1,441.36 L211.35,441.32 L211.6,441.18 L211.85,440.89 L212.1,440.46 L212.35,440.08 L212.6,440.04 L212.85,440.37 L213.1,440.82 L213.35,441.14 L213.6,441.3 L213.85,441.36 L214.1,441.38 L214.35,441.38 L214.6,441.39 L214.85,441.39 L215.1,441.39 L215.35,441.39 L215.6,441.39 L215.85,441.39 L216.1,441.4 L216.35,441.4 L216.6,441.4 L216.85,441.4 L217.1,441.4 L217.35,441.4 L217.6,441.4 L217.85,441.4 L218.1,441.4 L218.35,441.4 L218.6,441.4 L218.85,441.4 L219.1,441.4 L219.35,441.4 L219.6,441.4 L219.85,441.4 L220.1,441.4 L220.35,441.4 L220.6,441.4 L220.85,441.4 L221.1,441.4 L221.35,441.4 L221.6,441.4 L221.85,441.4 L222.1,441.4 L222.35,441.4 L222.6,441.4 L222.85,441.4 L223.1,441.4 L223.35,441.4 L223.6,441.4 L223.85,441.4 L224.1,441.4 L224.35,441.4 L224.6,441.4 L224.85,441.4 L225.1,441.4 L225.35,441.4 L225.6,441.4 L225.85,441.4 L226.1,441.4 L226.35,441.4 L226.6,441.4 L226.85,441.4 L227.1,441.4 L227.35,441.4 L227.6,441.4 L227.85,441.4 L228.1,441.4 L228.35,441.4 L228.6,441.4 L228.85,441.4 L229.1,441.4 L229.35,441.4 L229.6,441.4 L229.85,441.4 L230.1,441.4 L230.35,441.4 L230.6,441.4 L230.85,441.4 L231.1,441.4 L231.35,441.4 L231.6,441.4 L231.85,441.4 L232.1,441.4 L232.35,441.4 L232.6,441.4 L232.85,441.4 L233.1,441.4 L233.35,441.4 L233.6,441.4 L233.85,441.4 L234.1,441.4 L234.35,441.4 L234.6,441.4 L234.85,441.4 L235.1,441.4 L235.35,441.4 L235.6,441.4 L235.85,441.4 L236.1,441.4 L236.35,441.4 L236.6,441.4 L236.85,441.4 L237.1,441.4 L237.35,441.4 L237.6,441.4 L237.85,441.4 L238.1,441.4 L238.35,441.4 L238.6,441.4 L238.85,441.4 L239.1,441.4 L239.35,441.4 L239.6,441.4 L239.85,441.39 L240.1,441.39 L240.35,441.39 L240.6,441.39 L240.85,441.39 L241.1,441.38 L241.35,441.37 L241.6,441.32 L241.85,441.2 L242.1,440.94 L242.35,440.59 L242.6,440.33 L242.85,440.36 L243.1,440.66 L243.35,441 L243.6,441.23 L243.85,441.33 L244.1,441.37 L244.35,441.38 L244.6,441.39 L244.85,441.39 L245.1,441.39 L245.35,441.39 L245.6,441.39 L245.85,441.4 L246.1,441.4 L246.35,441.4 L246.6,441.4 L246.85,441.4 L247.1,441.4 L247.35,441.4 L247.6,441.4 L247.85,441.4 L248.1,441.4 L248.35,441.4 L248.6,441.4 L248.85,441.4 L249.1,441.4 L249.35,441.4 L249.6,441.4 L249.85,441.4 L250.1,441.4 L250.35,441.4 L250.6,441.4 L250.85,441.4 L251.1,441.4 L251.35,441.4 L251.6,441.4 L251.85,441.4 L252.1,441.4 L252.35,441.4 L252.6,441.4 L252.85,441.4 L253.1,441.4 L253.35,441.4 L253.6,441.4 L253.85,441.4 L254.1,441.4 L254.35,441.4 L254.6,441.4 L254.85,441.4 L255.1,441.4 L255.35,441.4 L255.6,441.4 L255.85,441.4 L256.1,441.4 L256.35,441.4 L256.6,441.4 L256.85,441.4 L257.1,441.4 L257.35,441.4 L257.6,441.4 L257.85,441.4 L258.1,441.4 L258.35,441.4 L258.6,441.4 L258.85,441.4 L259.1,441.4 L259.35,441.4 L259.6,441.4 L259.85,441.4 L260.1,441.4 L260.35,441.4 L260.6,441.4 L260.85,441.4 L261.1,441.4 L261.35,441.4 L261.6,441.4 L261.85,441.4 L262.1,441.4 L262.35,441.4 L262.6,441.4 L262.85,441.4 L263.1,441.4 L263.35,441.4 L263.6,441.4 L263.85,441.4 L264.1,441.4 L264.35,441.4 L264.6,441.4 L264.85,441.4 L265.1,441.4 L265.35,441.4 L265.6,441.4 L265.85,441.4 L266.1,441.4 L266.35,441.4 L266.6,441.4 L266.85,441.4 L267.1,441.4 L267.35,441.4 L267.6,441.4 L267.85,441.4 L268.1,441.4 L268.35,441.4 L268.6,441.4 L268.85,441.4 L269.1,441.4 L269.35,441.4 L269.6,441.4 L269.85,441.4 L270.1,441.4 L270.35,441.4 L270.6,441.4 L270.85,441.4 L271.1,441.4 L271.35,441.4 L271.6,441.4 L271.85,441.4 L272.1,441.4 L272.35,441.4 L272.6,441.4 L272.85,441.4 L273.1,441.4 L273.35,441.4 L273.6,441.4 L273.85,441.4 L274.1,441.4 L274.35,441.4 L274.6,441.4 L274.85,441.4 L275.1,441.4 L275.35,441.4 L275.6,441.4 L275.85,441.4 L276.1,441.4 L276.35,441.4 L276.6,441.4 L276.85,441.4 L277.1,441.4 L277.35,441.4 L277.6,441.4 L277.85,441.4 L278.1,441.4 L278.35,441.4 L278.6,441.4 L278.85,441.4 L279.1,441.4 L279.35,441.4 L279.6,441.4 L279.85,441.4 L280.1,441.4 L280.35,441.4 L280.6,441.4 L280.85,441.4 L281.1,441.4 L281.35,441.4 L281.6,441.4 L281.85,441.4 L282.1,441.4 L282.35,441.4 L282.6,441.4 L282.85,441.4 L283.1,441.4 L283.35,441.4 L283.6,441.4 L283.85,441.4 L284.1,441.4 L284.35,441.4 L284.6,441.4 L284.85,441.4 L285.1,441.4 L285.35,441.4 L285.6,441.4 L285.85,441.4 L286.1,441.4 L286.35,441.4 L286.6,441.4 L286.85,441.4 L287.1,441.4 L287.35,441.4 L287.6,441.4 L287.85,441.4 L288.1,441.4 L288.35,441.4 L288.6,441.4 L288.85,441.4 L289.1,441.4 L289.35,441.4 L289.6,441.4 L289.85,441.4 L290.1,441.4 L290.35,441.4 L290.6,441.4 L290.85,441.4 L291.1,441.4 L291.35,441.4 L291.6,441.4 L291.85,441.4 L292.1,441.4 L292.35,441.4 L292.6,441.4 L292.85,441.4 L293.1,441.4 L293.35,441.4 L293.6,441.4 L293.85,441.4 L294.1,441.4 L294.35,441.4 L294.6,441.4 L294.85,441.4 L295.1,441.4 L295.35,441.4 L295.6,441.4 L295.85,441.4 L296.1,441.4 L296.35,441.4 L296.6,441.4 L296.85,441.4 L297.1,441.4 L297.35,441.4 L297.6,441.4 L297.85,441.4 L298.1,441.4 L298.35,441.4 L298.6,441.4 L298.85,441.4 L299.1,441.4 L299.35,441.4 L299.6,441.4 L299.85,441.4 L300.1,441.4 L300.35,441.4 L300.6,441.4 L300.85,441.4 L301.1,441.4 L301.35,441.4 L301.6,441.4 L301.85,441.4 L302.1,441.4 L302.35,441.4 L302.6,441.4 L302.85,441.4 L303.1,441.4 L303.35,441.4 L303.6,441.4 L303.85,441.4 L304.1,441.4 L304.35,441.4 L304.6,441.4 L304.85,441.4 L305.1,441.4 L305.35,441.4 L305.6,441.4 L305.85,441.4 L306.1,441.4 L306.35,441.4 L306.6,441.4 L306.85,441.4 L307.1,441.4 L307.35,441.4 L307.6,441.4 L307.85,441.4 L308.1,441.4 L308.35,441.4 L308.6,441.4 L308.85,441.4 L309.1,441.4 L309.35,441.4 L309.6,441.4 L309.85,441.4 L310.1,441.4 L310.35,441.4 L310.6,441.4 L310.85,441.4 L311.1,441.4 L311.35,441.4 L311.6,441.4" fill="none" stroke="#000000" stroke-width="1.15" stroke-linejoin="round"/>
<path d="M75.6,480.35 L75.9,480.5 L76.2,480.65 L76.5,480.74 L76.8,480.76 L77.1,480.68 L77.4,480.53 L77.7,480.31 L78,480.1 L78.3,479.91 L78.6,479.8 L78.9,479.79 L79.2,479.86 L79.5,480 L79.8,480.17 L80.1,480.31 L80.4,480.39 L80.7,480.4 L81,480.33 L81.3,480.2 L81.6,480.06 L81.9,479.94 L82.2,479.89 L82.5,479.93 L82.8,480.05 L83.1,480.24 L83.4,480.46 L83.7,480.66 L84,480.8 L84.3,480.85 L84.6,480.78 L84.9,480.44 L85.2,479.4 L85.5,477.49 L85.8,476.06 L86.1,476.71 L86.4,478.56 L86.7,479.85 L87,480.36 L87.3,480.55 L87.6,480.64 L87.9,480.64 L88.2,480.56 L88.5,480.4 L88.8,480.19 L89.1,479.98 L89.4,479.82 L89.7,479.73 L90,479.73 L90.3,479.83 L90.6,479.99 L90.9,480.18 L91.2,480.34 L91.5,480.44 L91.8,480.47 L92.1,480.41 L92.4,480.3 L92.7,480.16 L93,480.06 L93.3,480.01 L93.6,480.05 L93.9,480.17 L94.2,480.35 L94.5,480.56 L94.8,480.74 L95.1,480.87 L95.4,480.9 L95.7,480.83 L96,480.68 L96.3,480.49 L96.6,480.3 L96.9,480.16 L97.2,480.09 L97.5,480.1 L97.8,480.19 L98.1,480.31 L98.4,480.44 L98.7,480.52 L99,480.53 L99.3,480.45 L99.6,480.3 L99.9,480.1 L100.2,479.91 L100.5,479.77 L100.8,479.7 L101.1,479.73 L101.4,479.86 L101.7,480.04 L102,480.25 L102.3,480.42 L102.6,480.54 L102.9,480.57 L103.2,480.5 L103.5,480.28 L103.8,479.81 L104.1,479.18 L104.4,478.93 L104.7,479.33 L105,479.94 L105.3,480.36 L105.6,480.61 L105.9,480.78 L106.2,480.87 L106.5,480.88 L106.8,480.79 L107.1,480.62 L107.4,480.41 L107.7,480.21 L108,480.05 L108.3,479.97 L108.6,479.99 L108.9,480.07 L109.2,480.2 L109.5,480.33 L109.8,480.42 L110.1,480.44 L110.4,480.37 L110.7,480.24 L111,480.07 L111.3,479.9 L111.6,479.78 L111.9,479.74 L112.2,479.79 L112.5,479.94 L112.8,480.14 L113.1,480.36 L113.4,480.54 L113.7,480.66 L114,480.69 L114.3,480.63 L114.6,480.52 L114.9,480.37 L115.2,480.25 L115.5,480.19 L115.8,480.21 L116.1,480.3 L116.4,480.45 L116.7,480.61 L117,480.75 L117.3,480.82 L117.6,480.81 L117.9,480.69 L118.2,480.51 L118.5,480.29 L118.8,480.08 L119.1,479.93 L119.4,479.86 L119.7,479.88 L120,479.97 L120.3,480.12 L120.6,480.26 L120.9,480.37 L121.2,480.4 L121.5,480.35 L121.8,480.24 L122.1,480.09 L122.4,479.94 L122.7,479.84 L123,479.82 L123.3,479.89 L123.6,480.05 L123.9,480.26 L124.2,480.48 L124.5,480.67 L124.8,480.78 L125.1,480.79 L125.4,480.72 L125.7,480.59 L126,480.43 L126.3,480.29 L126.6,480.21 L126.9,480.21 L127.2,480.28 L127.5,480.41 L127.8,480.56 L128.1,480.68 L128.4,480.73 L128.7,480.7 L129,480.57 L129.3,480.38 L129.6,480.16 L129.9,479.96 L130.2,479.82 L130.5,479.76 L130.8,479.8 L131.1,479.92 L131.4,480.08 L131.7,480.24 L132,480.37 L132.3,480.42 L132.6,480.39 L132.9,480.29 L133.2,480.16 L133.5,480.03 L133.8,479.94 L134.1,479.93 L134.4,480.02 L134.7,480.18 L135,480.39 L135.3,480.6 L135.6,480.77 L135.9,480.86 L136.2,480.86 L136.5,480.77 L136.8,480.61 L137.1,480.43 L137.4,480.27 L137.7,480.17 L138,480.15 L138.3,480.21 L138.6,480.32 L138.9,480.46 L139.2,480.57 L139.5,480.61 L139.8,480.57 L140.1,480.45 L140.4,480.26 L140.7,480.05 L141,479.87 L141.3,479.74 L141.6,479.71 L141.9,479.77 L142.2,479.91 L142.5,480.1 L142.8,480.28 L143.1,480.43 L143.4,480.49 L143.7,480.48 L144,480.39 L144.3,480.26 L144.6,480.14 L144.9,480.06 L145.2,480.05 L145.5,480.13 L145.8,480.29 L146.1,480.48 L146.4,480.68 L146.7,480.83 L147,480.9 L147.3,480.87 L147.6,480.75 L147.9,480.57 L148.2,480.37 L148.5,480.19 L148.8,480.08 L149.1,480.05 L149.4,480.1 L149.7,480.21 L150,480.34 L150.3,480.45 L150.6,480.5 L150.9,480.47 L151.2,480.35 L151.5,480.18 L151.8,479.99 L152.1,479.82 L152.4,479.72 L152.7,479.71 L153,479.79 L153.3,479.86 L153.6,479.45 L153.9,477.73 L154.2,475.2 L154.5,474.98 L154.8,478.15 L155.1,480.97 L155.4,481.29 L155.7,480.63 L156,480.24 L156.3,480.16 L156.6,480.22 L156.9,480.35 L157.2,480.53 L157.5,480.71 L157.8,480.83 L158.1,480.88 L158.4,480.82 L158.7,480.68 L159,480.48 L159.3,480.27 L159.6,480.08 L159.9,479.96 L160.2,479.93 L160.5,479.99 L160.8,480.1 L161.1,480.24 L161.4,480.36 L161.7,480.42 L162,480.4 L162.3,480.3 L162.6,480.15 L162.9,479.98 L163.2,479.84 L163.5,479.76 L163.8,479.78 L164.1,479.89 L164.4,480.07 L164.7,480.29 L165,480.5 L165.3,480.65 L165.6,480.72 L165.9,480.7 L166.2,480.61 L166.5,480.47 L166.8,480.33 L167.1,480.23 L167.4,480.2 L167.7,480.25 L168,480.37 L168.3,480.52 L168.6,480.67 L168.9,480.78 L169.2,480.8 L169.5,480.73 L169.8,480.57 L170.1,480.36 L170.4,480.14 L170.7,479.96 L171,479.84 L171.3,479.82 L171.6,479.89 L171.9,480.02 L172.2,480.18 L172.5,480.31 L172.8,480.39 L173.1,480.39 L173.4,480.31 L173.7,480.18 L174,480.03 L174.3,479.91 L174.6,479.85 L174.9,479.88 L175.2,480 L175.5,480.19 L175.8,480.41 L176.1,480.62 L176.4,480.77 L176.7,480.83 L177,480.79 L177.3,480.68 L177.6,480.52 L177.9,480.36 L178.2,480.24 L178.5,480.19 L178.8,480.22 L179.1,480.32 L179.4,480.46 L179.7,480.59 L180,480.68 L180.3,480.69 L180.6,480.61 L180.9,480.44 L181.2,480.23 L181.5,480.02 L181.8,479.85 L182.1,479.75 L182.4,479.75 L182.7,479.84 L183,479.99 L183.3,480.17 L183.6,480.32 L183.9,480.42 L184.2,480.44 L184.5,480.37 L184.8,480.26 L185.1,480.12 L185.4,480.01 L185.7,479.96 L186,480 L186.3,480.13 L186.6,480.32 L186.9,480.53 L187.2,480.72 L187.5,480.85 L187.8,480.89 L188.1,480.83 L188.4,480.69 L188.7,480.51 L189,480.33 L189.3,480.19 L189.6,480.12 L189.9,480.14 L190.2,480.23 L190.5,480.36 L190.8,480.48 L191.1,480.56 L191.4,480.57 L191.7,480.49 L192,480.33 L192.3,480.13 L192.6,479.93 L192.9,479.78 L193.2,479.7 L193.5,479.73 L193.8,479.84 L194.1,480.02 L194.4,480.22 L194.7,480.39 L195,480.5 L195.3,480.53 L195.6,480.47 L195.9,480.36 L196.2,480.23 L196.5,480.13 L196.8,480.08 L197.1,480.11 L197.4,480.23 L197.7,480.41 L198,480.6 L198.3,480.77 L198.6,480.88 L198.9,480.89 L199.2,480.81 L199.5,480.65 L199.8,480.44 L200.1,480.24 L200.4,480.09 L200.7,480.02 L201,480.03 L201.3,480.12 L201.6,480.25 L201.9,480.37 L202.2,480.46 L202.5,480.47 L202.8,480.4 L203.1,480.25 L203.4,480.07 L203.7,479.89 L204,479.76 L204.3,479.72 L204.6,479.77 L204.9,479.9 L205.2,480.1 L205.5,480.31 L205.8,480.5 L206.1,480.61 L206.4,480.64 L206.7,480.59 L207,480.47 L207.3,480.34 L207.6,480.22 L207.9,480.17 L208.2,480.19 L208.5,480.29 L208.8,480.45 L209.1,480.62 L209.4,480.77 L209.7,480.85 L210,480.84 L210.3,480.73 L210.6,480.55 L210.9,480.33 L211.2,480.13 L211.5,479.97 L211.8,479.9 L212.1,479.92 L212.4,480.01 L212.7,480.15 L213,480.29 L213.3,480.38 L213.6,480.41 L213.9,480.35 L214.2,480.23 L214.5,480.07 L214.8,479.91 L215.1,479.81 L215.4,479.78 L215.7,479.85 L216,480.01 L216.3,480.22 L216.6,480.44 L216.9,480.62 L217.2,480.73 L217.5,480.76 L217.8,480.69 L218.1,480.56 L218.4,480.41 L218.7,480.28 L219,480.21 L219.3,480.21 L219.6,480.3 L219.9,480.43 L220.2,480.59 L220.5,480.71 L220.8,480.77 L221.1,480.74 L221.4,480.62 L221.7,480.43 L222,480.21 L222.3,480 L222.6,479.85 L222.9,479.79 L223.2,479.82 L223.5,479.93 L223.8,480.09 L224.1,480.25 L224.4,480.36 L224.7,480.41 L225,480.37 L225.3,480.26 L225.6,480.12 L225.9,479.99 L226.2,479.9 L226.5,479.89 L226.8,479.97 L227.1,480.13 L227.4,480.34 L227.7,480.56 L228,480.74 L228.3,480.83 L228.6,480.84 L228.9,480.75 L229.2,480.6 L229.5,480.43 L229.8,480.28 L230.1,480.19 L230.4,480.18 L230.7,480.24 L231,480.36 L231.3,480.5 L231.6,480.61 L231.9,480.66 L232.2,480.62 L232.5,480.49 L232.8,480.3 L233.1,480.09 L233.4,479.89 L233.7,479.76 L234,479.72 L234.3,479.78 L234.6,479.91 L234.9,480.09 L235.2,480.26 L235.5,480.4 L235.8,480.46 L236.1,480.44 L236.4,480.35 L236.7,480.22 L237,480.09 L237.3,480.01 L237.6,480.01 L237.9,480.09 L238.2,480.25 L238.5,480.45 L238.8,480.66 L239.1,480.81 L239.4,480.89 L239.7,480.87 L240,480.76 L240.3,480.59 L240.6,480.4 L240.9,480.23 L241.2,480.12 L241.5,480.09 L241.8,480.15 L242.1,480.26 L242.4,480.39 L242.7,480.5 L243,480.54 L243.3,480.5 L243.6,480.38 L243.9,480.2 L244.2,480.01 L244.5,479.83 L244.8,479.72 L245.1,479.71 L245.4,479.79 L245.7,479.94 L246,480.14 L246.3,480.34 L246.6,480.49 L246.9,480.56 L247.2,480.54 L247.5,480.46 L247.8,480.33 L248.1,480.21 L248.4,480.12 L248.7,480.12 L249,480.19 L249.3,480.34 L249.6,480.52 L249.9,480.71 L250.2,480.84 L250.5,480.89 L250.8,480.85 L251.1,480.71 L251.4,480.52 L251.7,480.31 L252,480.12 L252.3,480.01 L252.6,479.98 L252.9,480.03 L253.2,480.15 L253.5,480.28 L253.8,480.39 L254.1,480.45 L254.4,480.42 L254.7,480.31 L255,480.15 L255.3,479.97 L255.6,479.82 L255.9,479.74 L256.2,479.75 L256.5,479.85 L256.8,480.03 L257.1,480.24 L257.4,480.45 L257.7,480.6 L258,480.68 L258.3,480.66 L258.6,480.57 L258.9,480.43 L259.2,480.3 L259.5,480.21 L259.8,480.18 L260.1,480.24 L260.4,480.37 L260.7,480.54 L261,480.7 L261.3,480.81 L261.6,480.83 L261.9,480.77 L262.2,480.61 L262.5,480.41 L262.8,480.19 L263.1,480 L263.4,479.89 L263.7,479.86 L264,479.93 L264.3,480.05 L264.6,480.2 L264.9,480.33 L265.2,480.4 L265.5,480.39 L265.8,480.3 L266.1,480.16 L266.4,480 L266.7,479.87 L267,479.81 L267.3,479.84 L267.6,479.96 L267.9,480.15 L268.2,480.37 L268.5,480.58 L268.8,480.73 L269.1,480.79 L269.4,480.76 L269.7,480.65 L270,480.5 L270.3,480.35 L270.6,480.24 L270.9,480.2 L271.2,480.24 L271.5,480.35 L271.8,480.49 L272.1,480.63 L272.4,480.72 L272.7,480.73 L273,480.65 L273.3,480.49 L273.6,480.28 L273.9,480.06 L274.2,479.88 L274.5,479.78 L274.8,479.77 L275.1,479.86 L275.4,480 L275.7,480.17 L276,480.31 L276.3,480.4 L276.6,480.41 L276.9,480.34 L277.2,480.22 L277.5,480.08 L277.8,479.97 L278.1,479.92 L278.4,479.96 L278.7,480.08 L279,480.27 L279.3,480.49 L279.6,480.69 L279.9,480.82 L280.2,480.87 L280.5,480.82 L280.8,480.69 L281.1,480.52 L281.4,480.34" fill="none" stroke="#0000ff" stroke-width="1.35" stroke-dasharray="3,1.4"/>
<path d="M85.5,480.3 L86,476.1 L86.4,480.3" fill="none" stroke="#0000ff" stroke-width="1.2" stroke-linejoin="round"/>
<path d="M154.1,480.3 L154.6,473.3 L155,482.8" fill="none" stroke="#0000ff" stroke-width="1.2" stroke-linejoin="round"/>
<line x1="286.4" y1="480.3" x2="290.1" y2="480.3" stroke="#0000ff" stroke-width="1.35"/>
<line x1="295.1" y1="480.3" x2="298.9" y2="480.3" stroke="#0000ff" stroke-width="1.35"/>
<line x1="304.2" y1="480.3" x2="308.4" y2="480.3" stroke="#0000ff" stroke-width="1.35"/>
<rect x="399" y="279" width="278" height="1" fill="#555555"/>
<rect x="399" y="279" width="1" height="208" fill="#555555"/>
<rect x="676" y="279" width="1" height="208" fill="#555555"/>
<rect x="399" y="486" width="278" height="1" fill="#555555"/>
<rect x="400" y="470.92" width="3" height="1" fill="#6e6e6e"/>
<rect x="400" y="455.76" width="2" height="1" fill="#6e6e6e"/>
<rect x="400" y="440.6" width="3" height="1" fill="#6e6e6e"/>
<rect x="400" y="425.44" width="2" height="1" fill="#6e6e6e"/>
<rect x="400" y="410.28" width="3" height="1" fill="#6e6e6e"/>
<rect x="400" y="395.12" width="2" height="1" fill="#6e6e6e"/>
<rect x="400" y="379.96" width="3" height="1" fill="#6e6e6e"/>
<rect x="400" y="364.8" width="2" height="1" fill="#6e6e6e"/>
<rect x="400" y="349.64" width="3" height="1" fill="#6e6e6e"/>
<rect x="400" y="334.48" width="2" height="1" fill="#6e6e6e"/>
<rect x="400" y="319.32" width="3" height="1" fill="#6e6e6e"/>
<rect x="400" y="304.16" width="2" height="1" fill="#6e6e6e"/>
<rect x="400" y="289" width="3" height="1" fill="#6e6e6e"/>
<text transform="translate(395.1,293.55) scale(1,1.03)" text-anchor="end" font-family="Liberation Sans, sans-serif" font-weight="bold" text-rendering="geometricPrecision" font-size="15.3" fill="#000">150</text>
<text transform="translate(395.1,323.87) scale(1,1.03)" text-anchor="end" font-family="Liberation Sans, sans-serif" font-weight="bold" text-rendering="geometricPrecision" font-size="15.3" fill="#000">120</text>
<text transform="translate(395.1,354.19) scale(1,1.03)" text-anchor="end" font-family="Liberation Sans, sans-serif" font-weight="bold" text-rendering="geometricPrecision" font-size="15.3" fill="#000">90</text>
<text transform="translate(395.1,384.51) scale(1,1.03)" text-anchor="end" font-family="Liberation Sans, sans-serif" font-weight="bold" text-rendering="geometricPrecision" font-size="15.3" fill="#000">60</text>
<text transform="translate(395.1,414.83) scale(1,1.03)" text-anchor="end" font-family="Liberation Sans, sans-serif" font-weight="bold" text-rendering="geometricPrecision" font-size="15.3" fill="#000">30</text>
<text transform="translate(395.1,445.15) scale(1,1.03)" text-anchor="end" font-family="Liberation Sans, sans-serif" font-weight="bold" text-rendering="geometricPrecision" font-size="15.3" fill="#000">0</text>
<text transform="translate(395.1,475.47) scale(1,1.03)" text-anchor="end" font-family="Liberation Sans, sans-serif" font-weight="bold" text-rendering="geometricPrecision" font-size="15.3" fill="#000">-30</text>
<rect x="428.4" y="483" width="1" height="3" fill="#6e6e6e"/>
<rect x="457.95" y="484" width="1" height="2" fill="#6e6e6e"/>
<rect x="487.5" y="483" width="1" height="3" fill="#6e6e6e"/>
<rect x="517.05" y="484" width="1" height="2" fill="#6e6e6e"/>
<rect x="546.6" y="483" width="1" height="3" fill="#6e6e6e"/>
<rect x="576.15" y="484" width="1" height="2" fill="#6e6e6e"/>
<rect x="605.7" y="483" width="1" height="3" fill="#6e6e6e"/>
<rect x="635.25" y="484" width="1" height="2" fill="#6e6e6e"/>
<rect x="664.8" y="483" width="1" height="3" fill="#6e6e6e"/>
<text transform="translate(428.6,502) scale(1,1.03)" text-anchor="middle" font-family="Liberation Sans, sans-serif" font-weight="bold" text-rendering="geometricPrecision" font-size="15.3" fill="#000">10000</text>
<text transform="translate(487.7,502) scale(1,1.03)" text-anchor="middle" font-family="Liberation Sans, sans-serif" font-weight="bold" text-rendering="geometricPrecision" font-size="15.3" fill="#000">20000</text>
<text transform="translate(546.8,502) scale(1,1.03)" text-anchor="middle" font-family="Liberation Sans, sans-serif" font-weight="bold" text-rendering="geometricPrecision" font-size="15.3" fill="#000">30000</text>
<text transform="translate(605.9,502) scale(1,1.03)" text-anchor="middle" font-family="Liberation Sans, sans-serif" font-weight="bold" text-rendering="geometricPrecision" font-size="15.3" fill="#000">40000</text>
<text transform="translate(665,502) scale(1,1.03)" text-anchor="middle" font-family="Liberation Sans, sans-serif" font-weight="bold" text-rendering="geometricPrecision" font-size="15.3" fill="#000">50000</text>
<text transform="translate(537.65,526) scale(1,1.03)" text-anchor="middle" font-family="Liberation Sans, sans-serif" font-weight="bold" text-rendering="geometricPrecision" font-size="15.3" fill="#000">t.o.f. (μ sec.)</text>
<text transform="translate(365.2,382.55) rotate(-90)" text-anchor="middle" font-family="Liberation Sans, sans-serif" font-weight="bold" text-rendering="geometricPrecision" font-size="15.3" fill="#000">Intensity (arb. units)</text>
<text x="411.6" y="303" font-family="Liberation Serif, serif" font-weight="bold" text-rendering="geometricPrecision" font-size="20" fill="#000">d</text>
<text transform="translate(454.4,310.8) scale(1,1.03)" font-family="Liberation Sans, sans-serif" font-weight="bold" text-rendering="geometricPrecision" font-size="15.3" fill="#ff0000">Neutron profile</text>
<text transform="translate(454.4,329.4) scale(1,1.03)" font-family="Liberation Sans, sans-serif" font-weight="bold" text-rendering="geometricPrecision" font-size="15.3" fill="#000000">Fitted profile</text>
<text transform="translate(454.4,348) scale(1,1.03)" font-family="Liberation Sans, sans-serif" font-weight="bold" text-rendering="geometricPrecision" font-size="15.3" fill="#0000ff">Residual</text>
<text transform="translate(454.4,367.1) scale(1,1.03)" font-family="Liberation Sans, sans-serif" font-weight="bold" text-rendering="geometricPrecision" font-size="15.3" fill="#009900">Bragg_position</text>
<rect x="438.35" y="306.6" width="1.9" height="1.9" fill="#ff0000"/>
<line x1="427.7" y1="326.2" x2="450.7" y2="326.2" stroke="#000" stroke-width="1.15"/>
<line x1="427.6" y1="345" x2="450.9" y2="345" stroke="#0000ff" stroke-width="1.15" stroke-dasharray="4.6,4.5"/>
<line x1="439.3" y1="360.6" x2="439.3" y2="367.1" stroke="#33aa33" stroke-width="1"/>
<line x1="424.5" y1="442.7" x2="424.5" y2="449.4" stroke="#22a022" stroke-width="1" stroke-opacity="0.8"/>
<line x1="426.45" y1="442.7" x2="426.45" y2="449.4" stroke="#22a022" stroke-width="1" stroke-opacity="0.8"/>
<line x1="428.65" y1="442.7" x2="428.65" y2="449.4" stroke="#22a022" stroke-width="1" stroke-opacity="0.8"/>
<line x1="429.95" y1="442.7" x2="429.95" y2="449.4" stroke="#22a022" stroke-width="1" stroke-opacity="0.8"/>
<line x1="431.55" y1="442.7" x2="431.55" y2="449.4" stroke="#22a022" stroke-width="1" stroke-opacity="0.8"/>
<line x1="434.4" y1="442.7" x2="434.4" y2="449.4" stroke="#22a022" stroke-width="1" stroke-opacity="0.8"/>
<line x1="435.4" y1="442.7" x2="435.4" y2="449.4" stroke="#22a022" stroke-width="1" stroke-opacity="0.8"/>
<line x1="436.4" y1="442.7" x2="436.4" y2="449.4" stroke="#22a022" stroke-width="1" stroke-opacity="0.8"/>
<line x1="438.85" y1="442.7" x2="438.85" y2="449.4" stroke="#22a022" stroke-width="1" stroke-opacity="0.8"/>
<line x1="445.05" y1="442.7" x2="445.05" y2="449.4" stroke="#22a022" stroke-width="1" stroke-opacity="0.8"/>
<line x1="449.45" y1="442.7" x2="449.45" y2="449.4" stroke="#22a022" stroke-width="1" stroke-opacity="0.8"/>
<line x1="457.45" y1="442.7" x2="457.45" y2="449.4" stroke="#22a022" stroke-width="1" stroke-opacity="0.8"/>
<line x1="459.45" y1="442.7" x2="459.45" y2="449.4" stroke="#22a022" stroke-width="1" stroke-opacity="0.8"/>
<line x1="467.45" y1="442.7" x2="467.45" y2="449.4" stroke="#22a022" stroke-width="1" stroke-opacity="0.8"/>
<line x1="482.9" y1="442.7" x2="482.9" y2="449.4" stroke="#22a022" stroke-width="1" stroke-opacity="0.8"/>
<line x1="487.9" y1="442.7" x2="487.9" y2="449.4" stroke="#22a022" stroke-width="1" stroke-opacity="0.8"/>
<line x1="508.3" y1="442.7" x2="508.3" y2="449.4" stroke="#22a022" stroke-width="1" stroke-opacity="0.8"/>
<line x1="565.1" y1="442.7" x2="565.1" y2="449.4" stroke="#22a022" stroke-width="1" stroke-opacity="0.8"/>
<line x1="595.5" y1="442.7" x2="595.5" y2="449.4" stroke="#22a022" stroke-width="1" stroke-opacity="0.8"/>
<path d="M428.6,440.4 L429.1,440.39 L429.6,440.41 L430.1,440.41 L430.6,440.33 L431.1,440.37 L431.6,440.19 L432.1,440.34 L432.6,440.33 L433.1,440.25 L433.6,440.32 L434.1,440.41 L434.6,440.3 L435.1,440.34 L435.6,440.25 L436.1,440.26 L436.6,440.39 L437.1,440.19 L437.6,440.23 L438.1,440.34 L438.6,440.29 L439.1,440.2 L439.6,440.34 L440.1,440.27 L440.6,440.32 L441.1,440.28 L441.6,440.31 L442.1,440.32 L442.6,440.28 L443.1,440.21 L443.6,440.22 L444.1,440.39 L444.6,440.31 L445.1,440.21 L445.6,440.39 L446.1,440.24 L446.6,440.2 L447.1,440.31 L447.6,440.24 L448.1,440.3 L448.6,440.31 L449.1,440.23 L449.6,440.32 L450.1,440.21 L450.6,440.3 L451.1,440.32 L451.6,440.2 L452.1,440.28 L452.6,440.2 L453.1,440.29 L453.6,440.39 L454.1,440.31 L454.6,440.35 L455.1,440.36 L455.6,440.21 L456.1,440.42 L456.6,440.35 L457.1,440.2 L457.6,440.38 L458.1,440.27 L458.6,440.22 L459.1,440.41 L459.6,440.32 L460.1,440.37 L460.6,440.21 L461.1,440.37 L461.6,440.19 L462.1,440.24 L462.6,440.27 L463.1,440.18 L463.6,440.32 L464.1,440.23 L464.6,440.25 L465.1,440.35 L465.6,440.28 L466.1,440.39 L466.6,440.33 L467.1,440.39 L467.6,440.32 L468.1,440.4 L468.6,440.39 L469.1,440.22 L469.6,440.36 L470.1,440.26 L470.6,440.36 L471.1,440.34 L471.6,440.38 L472.1,440.21 L472.6,440.27 L473.1,440.36 L473.6,440.41 L474.1,440.35 L474.6,440.19 L475.1,440.32 L475.6,440.2 L476.1,440.31 L476.6,440.37 L477.1,440.21 L477.6,440.4 L478.1,440.34 L478.6,440.24 L479.1,440.23 L479.6,440.29 L480.1,440.38 L480.6,440.32 L481.1,440.21 L481.6,440.19 L482.1,440.21 L482.6,440.37 L483.1,440.22 L483.6,440.31 L484.1,440.25 L484.6,440.34 L485.1,440.27 L485.6,440.21 L486.1,440.39 L486.6,440.31 L487.1,440.35 L487.6,440.37 L488.1,440.41 L488.6,440.18 L489.1,440.26 L489.6,440.22 L490.1,440.3 L490.6,440.39 L491.1,440.37 L491.6,440.19 L492.1,440.22 L492.6,440.38 L493.1,440.34 L493.6,440.27 L494.1,440.29 L494.6,440.22 L495.1,440.38 L495.6,440.27 L496.1,440.39 L496.6,440.33 L497.1,440.2 L497.6,440.26 L498.1,440.23 L498.6,440.39 L499.1,440.32 L499.6,440.19 L500.1,440.22 L500.6,440.27 L501.1,440.29 L501.6,440.32 L502.1,440.27 L502.6,440.26 L503.1,440.18 L503.6,440.32 L504.1,440.26 L504.6,440.18 L505.1,440.29 L505.6,440.42 L506.1,440.19 L506.6,440.21 L507.1,440.34 L507.6,440.25 L508.1,440.25 L508.6,440.3 L509.1,440.24 L509.6,440.32 L510.1,440.31 L510.6,440.41 L511.1,440.42 L511.6,440.19 L512.1,440.31 L512.6,440.37 L513.1,440.39 L513.6,440.37 L514.1,440.33 L514.6,440.33 L515.1,440.27 L515.6,440.25 L516.1,440.37 L516.6,440.39 L517.1,440.41 L517.6,440.34 L518.1,440.25 L518.6,440.36 L519.1,440.36 L519.6,440.3 L520.1,440.33 L520.6,440.26 L521.1,440.31 L521.6,440.28 L522.1,440.19 L522.6,440.26 L523.1,440.26 L523.6,440.42 L524.1,440.3 L524.6,440.27 L525.1,440.24 L525.6,440.24 L526.1,440.26 L526.6,440.21 L527.1,440.18 L527.6,440.39 L528.1,440.29 L528.6,440.29 L529.1,440.32 L529.6,440.25 L530.1,440.22 L530.6,440.2 L531.1,440.25 L531.6,440.25 L532.1,440.35 L532.6,440.31 L533.1,440.4 L533.6,440.26 L534.1,440.4 L534.6,440.32 L535.1,440.2 L535.6,440.22 L536.1,440.32 L536.6,440.42 L537.1,440.27 L537.6,440.37 L538.1,440.28 L538.6,440.39 L539.1,440.2 L539.6,440.3 L540.1,440.4 L540.6,440.25 L541.1,440.24 L541.6,440.19 L542.1,440.22 L542.6,440.24 L543.1,440.35 L543.6,440.23 L544.1,440.28 L544.6,440.23 L545.1,440.32 L545.6,440.39 L546.1,440.34 L546.6,440.23 L547.1,440.36 L547.6,440.41 L548.1,440.32 L548.6,440.2 L549.1,440.37 L549.6,440.39 L550.1,440.26 L550.6,440.21 L551.1,440.23 L551.6,440.31 L552.1,440.39 L552.6,440.33 L553.1,440.4 L553.6,440.23 L554.1,440.26 L554.6,440.36 L555.1,440.34 L555.6,440.28 L556.1,440.34 L556.6,440.26 L557.1,440.19 L557.6,440.28 L558.1,440.19 L558.6,440.33 L559.1,440.26 L559.6,440.3 L560.1,440.32 L560.6,440.24 L561.1,440.29 L561.6,440.18 L562.1,440.4 L562.6,440.32 L563.1,440.42 L563.6,440.19 L564.1,440.33 L564.6,440.35 L565.1,440.26 L565.6,440.2 L566.1,440.22 L566.6,440.21 L567.1,440.36 L567.6,440.2 L568.1,440.38 L568.6,440.28 L569.1,440.31 L569.6,440.32 L570.1,440.31 L570.6,440.34 L571.1,440.32 L571.6,440.26 L572.1,440.36 L572.6,440.24 L573.1,440.35 L573.6,440.36 L574.1,440.37 L574.6,440.25 L575.1,440.37 L575.6,440.41 L576.1,440.29 L576.6,440.25 L577.1,440.31 L577.6,440.41 L578.1,440.21 L578.6,440.18 L579.1,440.29 L579.6,440.34 L580.1,440.37 L580.6,440.27 L581.1,440.42 L581.6,440.23 L582.1,440.36 L582.6,440.2 L583.1,440.19 L583.6,440.21 L584.1,440.19 L584.6,440.3 L585.1,440.31 L585.6,440.22 L586.1,440.41 L586.6,440.27 L587.1,440.22 L587.6,440.22 L588.1,440.36 L588.6,440.4 L589.1,440.22 L589.6,440.19 L590.1,440.37 L590.6,440.24 L591.1,440.42 L591.6,440.3 L592.1,440.33 L592.6,440.26 L593.1,440.37 L593.6,440.29 L594.1,440.26 L594.6,440.4 L595.1,440.21 L595.6,440.36 L596.1,440.2 L596.6,440.33 L597.1,440.28 L597.6,440.39 L598.1,440.19 L598.6,440.32 L599.1,440.28 L599.6,440.4 L600.1,440.41 L600.6,440.33 L601.1,440.23 L601.6,440.24 L602.1,440.24 L602.6,440.28 L603.1,440.24 L603.6,440.23 L604.1,440.36 L604.6,440.33 L605.1,440.25 L605.6,440.42 L606.1,440.23 L606.6,440.32 L607.1,440.22 L607.6,440.39 L608.1,440.39 L608.6,440.24 L609.1,440.36 L609.6,440.38 L610.1,440.25 L610.6,440.26 L611.1,440.3 L611.6,440.39 L612.1,440.22 L612.6,440.34 L613.1,440.32 L613.6,440.29 L614.1,440.32 L614.6,440.39 L615.1,440.23 L615.6,440.39 L616.1,440.27 L616.6,440.37 L617.1,440.39 L617.6,440.22 L618.1,440.39 L618.6,440.42 L619.1,440.25 L619.6,440.19 L620.1,440.21 L620.6,440.41 L621.1,440.18 L621.6,440.4 L622.1,440.22 L622.6,440.36 L623.1,440.2 L623.6,440.22 L624.1,440.34 L624.6,440.2 L625.1,440.26 L625.6,440.4 L626.1,440.35 L626.6,440.39 L627.1,440.42 L627.6,440.19 L628.1,440.24 L628.6,440.37 L629.1,440.35 L629.6,440.19 L630.1,440.3 L630.6,440.24 L631.1,440.28 L631.6,440.21 L632.1,440.18 L632.6,440.42 L633.1,440.26 L633.6,440.39 L634.1,440.21 L634.6,440.3 L635.1,440.21 L635.6,440.28 L636.1,440.22 L636.6,440.34 L637.1,440.22 L637.6,440.36 L638.1,440.3 L638.6,440.21 L639.1,440.26 L639.6,440.3 L640.1,440.4 L640.6,440.26 L641.1,440.23 L641.6,440.41 L642.1,440.39 L642.6,440.36 L643.1,440.25 L643.6,440.22 L644.1,440.24 L644.6,440.2 L645.1,440.19 L645.6,440.3 L646.1,440.28 L646.6,440.31 L647.1,440.27 L647.6,440.18 L648.1,440.35 L648.6,440.34 L649.1,440.31 L649.6,440.31 L650.1,440.35 L650.6,440.42 L651.1,440.39 L651.6,440.35 L652.1,440.28 L652.6,440.26 L653.1,440.28 L653.6,440.41 L654.1,440.27 L654.6,440.27 L655.1,440.28 L655.6,440.21 L656.1,440.42 L656.6,440.18 L657.1,440.33 L657.6,440.4 L658.1,440.24 L658.6,440.33 L659.1,440.27 L659.6,440.24 L660.1,440.23 L660.6,440.21 L661.1,440.38 L661.6,440.37 L662.1,440.4 L662.6,440.19 L663.1,440.35 L663.6,440.26 L664.1,440.34 L664.6,440.31 L665.1,440.26" fill="none" stroke="#ff0000" stroke-width="2.8" stroke-linejoin="round"/>
<path d="M428.8,437.49h1.6v1.6h-1.6zM429.22,437.04h1.6v1.6h-1.6zM429.2,436.62h1.6v1.6h-1.6zM429.13,436.71h1.6v1.6h-1.6zM429.42,436.33h1.6v1.6h-1.6zM429.48,436.12h1.6v1.6h-1.6zM429.49,436.18h1.6v1.6h-1.6zM429.63,436.46h1.6v1.6h-1.6zM429.69,436.5h1.6v1.6h-1.6zM429.61,436.91h1.6v1.6h-1.6zM429.71,437.26h1.6v1.6h-1.6zM433.45,437.26h1.6v1.6h-1.6zM433.55,436.6h1.6v1.6h-1.6zM433.51,435.85h1.6v1.6h-1.6zM433.87,435.02h1.6v1.6h-1.6zM433.79,434.67h1.6v1.6h-1.6zM433.99,434.13h1.6v1.6h-1.6zM433.81,433.5h1.6v1.6h-1.6zM434,433.61h1.6v1.6h-1.6zM434.23,433.39h1.6v1.6h-1.6zM434.33,433.66h1.6v1.6h-1.6zM434.21,433.37h1.6v1.6h-1.6zM434.47,434.33h1.6v1.6h-1.6zM434.28,434.4h1.6v1.6h-1.6zM434.34,435.09h1.6v1.6h-1.6zM434.7,435.77h1.6v1.6h-1.6zM434.64,436.48h1.6v1.6h-1.6zM434.7,436.75h1.6v1.6h-1.6zM437.6,437.48h1.6v1.6h-1.6zM437.59,436.76h1.6v1.6h-1.6zM437.78,436.61h1.6v1.6h-1.6zM437.83,435.87h1.6v1.6h-1.6zM437.85,435.75h1.6v1.6h-1.6zM437.87,435.49h1.6v1.6h-1.6zM437.95,435.5h1.6v1.6h-1.6zM437.96,435.35h1.6v1.6h-1.6zM437.98,435.88h1.6v1.6h-1.6zM438.33,435.89h1.6v1.6h-1.6zM438.25,436.28h1.6v1.6h-1.6zM438.53,436.63h1.6v1.6h-1.6zM438.53,436.91h1.6v1.6h-1.6zM443.38,437.14h1.6v1.6h-1.6zM443.7,436.16h1.6v1.6h-1.6zM443.61,435.45h1.6v1.6h-1.6zM443.72,434.12h1.6v1.6h-1.6zM443.91,433.29h1.6v1.6h-1.6zM443.86,432.16h1.6v1.6h-1.6zM444.1,431.36h1.6v1.6h-1.6zM444.01,430.21h1.6v1.6h-1.6zM444.31,429.62h1.6v1.6h-1.6zM444.41,428.85h1.6v1.6h-1.6zM444.25,429.05h1.6v1.6h-1.6zM444.31,429.19h1.6v1.6h-1.6zM444.56,429.25h1.6v1.6h-1.6zM444.55,430.23h1.6v1.6h-1.6zM444.78,431.26h1.6v1.6h-1.6zM444.51,432.48h1.6v1.6h-1.6zM444.77,433.44h1.6v1.6h-1.6zM445,434.39h1.6v1.6h-1.6zM444.93,435.32h1.6v1.6h-1.6zM445,436.46h1.6v1.6h-1.6zM445.1,436.91h1.6v1.6h-1.6zM448.25,437.11h1.6v1.6h-1.6zM448.22,436.42h1.6v1.6h-1.6zM448.41,435.24h1.6v1.6h-1.6zM448.53,434.77h1.6v1.6h-1.6zM448.35,434.09h1.6v1.6h-1.6zM448.41,432.92h1.6v1.6h-1.6zM448.5,432.6h1.6v1.6h-1.6zM448.84,431.52h1.6v1.6h-1.6zM448.64,431.48h1.6v1.6h-1.6zM448.98,431.43h1.6v1.6h-1.6zM448.8,431.42h1.6v1.6h-1.6zM449.03,431.94h1.6v1.6h-1.6zM449.34,432.44h1.6v1.6h-1.6zM449.37,433.32h1.6v1.6h-1.6zM449.23,433.68h1.6v1.6h-1.6zM449.18,434.75h1.6v1.6h-1.6zM449.37,435.85h1.6v1.6h-1.6zM449.47,436.11h1.6v1.6h-1.6zM449.76,436.75h1.6v1.6h-1.6zM456.12,436.97h1.6v1.6h-1.6zM456.02,436.47h1.6v1.6h-1.6zM456.43,435.99h1.6v1.6h-1.6zM456.5,435.94h1.6v1.6h-1.6zM456.32,435.3h1.6v1.6h-1.6zM456.53,434.98h1.6v1.6h-1.6zM456.59,435.12h1.6v1.6h-1.6zM456.71,435.26h1.6v1.6h-1.6zM456.88,435.37h1.6v1.6h-1.6zM457.01,435.56h1.6v1.6h-1.6zM456.74,436.15h1.6v1.6h-1.6zM457.01,436.4h1.6v1.6h-1.6zM457.11,436.88h1.6v1.6h-1.6zM458.23,436.94h1.6v1.6h-1.6zM458.32,436.52h1.6v1.6h-1.6zM458.6,435.59h1.6v1.6h-1.6zM458.54,434.47h1.6v1.6h-1.6zM458.62,433.5h1.6v1.6h-1.6zM458.54,432.17h1.6v1.6h-1.6zM458.86,430.52h1.6v1.6h-1.6zM459.03,428.93h1.6v1.6h-1.6zM459,427.76h1.6v1.6h-1.6zM459.21,426.89h1.6v1.6h-1.6zM459.24,426.56h1.6v1.6h-1.6zM459.27,426.3h1.6v1.6h-1.6zM459.2,426.65h1.6v1.6h-1.6zM459.5,426.91h1.6v1.6h-1.6zM459.61,427.81h1.6v1.6h-1.6zM459.36,429.04h1.6v1.6h-1.6zM459.71,430.28h1.6v1.6h-1.6zM459.65,432.22h1.6v1.6h-1.6zM459.66,433.32h1.6v1.6h-1.6zM459.91,434.67h1.6v1.6h-1.6zM459.74,435.23h1.6v1.6h-1.6zM459.82,436.46h1.6v1.6h-1.6zM460,437.26h1.6v1.6h-1.6zM466.45,436.83h1.6v1.6h-1.6zM466.52,436.47h1.6v1.6h-1.6zM466.74,435.97h1.6v1.6h-1.6zM466.8,435.72h1.6v1.6h-1.6zM466.86,435.33h1.6v1.6h-1.6zM466.78,435.67h1.6v1.6h-1.6zM466.85,435h1.6v1.6h-1.6zM466.87,435.46h1.6v1.6h-1.6zM466.9,435.58h1.6v1.6h-1.6zM467.23,435.81h1.6v1.6h-1.6zM467.29,436.15h1.6v1.6h-1.6zM467.43,436.35h1.6v1.6h-1.6zM467.55,436.76h1.6v1.6h-1.6zM481.24,437.25h1.6v1.6h-1.6zM481.06,436.14h1.6v1.6h-1.6zM481.32,434.95h1.6v1.6h-1.6zM481.47,433.67h1.6v1.6h-1.6zM481.37,431.69h1.6v1.6h-1.6zM481.5,430.21h1.6v1.6h-1.6zM481.38,427.67h1.6v1.6h-1.6zM481.53,424.85h1.6v1.6h-1.6zM481.84,422.85h1.6v1.6h-1.6zM481.95,419.77h1.6v1.6h-1.6zM481.9,417.32h1.6v1.6h-1.6zM481.88,416.31h1.6v1.6h-1.6zM482.08,415.11h1.6v1.6h-1.6zM482.03,413.9h1.6v1.6h-1.6zM482.08,414.67h1.6v1.6h-1.6zM482.13,416.11h1.6v1.6h-1.6zM482.26,417.97h1.6v1.6h-1.6zM482.44,419.64h1.6v1.6h-1.6zM482.52,422.21h1.6v1.6h-1.6zM482.62,425.35h1.6v1.6h-1.6zM482.47,427.61h1.6v1.6h-1.6zM482.58,429.96h1.6v1.6h-1.6zM482.67,432.07h1.6v1.6h-1.6zM482.84,433.72h1.6v1.6h-1.6zM483.05,434.97h1.6v1.6h-1.6zM482.93,435.91h1.6v1.6h-1.6zM483.07,437.22h1.6v1.6h-1.6zM486.19,436.71h1.6v1.6h-1.6zM485.98,435.54h1.6v1.6h-1.6zM486.35,434.07h1.6v1.6h-1.6zM486.28,432.58h1.6v1.6h-1.6zM486.21,431.09h1.6v1.6h-1.6zM486.31,429.01h1.6v1.6h-1.6zM486.52,426.85h1.6v1.6h-1.6zM486.48,424.44h1.6v1.6h-1.6zM486.56,422.24h1.6v1.6h-1.6zM486.66,420h1.6v1.6h-1.6zM486.84,419.02h1.6v1.6h-1.6zM486.73,418h1.6v1.6h-1.6zM487,417.68h1.6v1.6h-1.6zM487.11,417.91h1.6v1.6h-1.6zM487.05,418.87h1.6v1.6h-1.6zM487.1,420.52h1.6v1.6h-1.6zM487.13,422.12h1.6v1.6h-1.6zM487.41,424.46h1.6v1.6h-1.6zM487.64,426.67h1.6v1.6h-1.6zM487.59,428.74h1.6v1.6h-1.6zM487.68,430.88h1.6v1.6h-1.6zM487.8,433.03h1.6v1.6h-1.6zM487.7,434.05h1.6v1.6h-1.6zM488.07,435.61h1.6v1.6h-1.6zM488.01,436.21h1.6v1.6h-1.6zM506.39,437.01h1.6v1.6h-1.6zM506.46,435.95h1.6v1.6h-1.6zM506.59,434.93h1.6v1.6h-1.6zM506.68,433.21h1.6v1.6h-1.6zM506.54,431.74h1.6v1.6h-1.6zM506.56,429.43h1.6v1.6h-1.6zM506.81,427.54h1.6v1.6h-1.6zM506.76,424.52h1.6v1.6h-1.6zM506.78,421.84h1.6v1.6h-1.6zM506.91,419.3h1.6v1.6h-1.6zM507.26,417.62h1.6v1.6h-1.6zM507.13,415.59h1.6v1.6h-1.6zM507.33,414.12h1.6v1.6h-1.6zM507.4,414.07h1.6v1.6h-1.6zM507.26,414.24h1.6v1.6h-1.6zM507.6,415.45h1.6v1.6h-1.6zM507.38,417.45h1.6v1.6h-1.6zM507.56,419.72h1.6v1.6h-1.6zM507.89,421.86h1.6v1.6h-1.6zM507.88,424.93h1.6v1.6h-1.6zM507.99,427.09h1.6v1.6h-1.6zM508.1,430.04h1.6v1.6h-1.6zM508.15,431.97h1.6v1.6h-1.6zM508.14,433.74h1.6v1.6h-1.6zM508.31,434.91h1.6v1.6h-1.6zM508.41,436.24h1.6v1.6h-1.6zM508.52,436.76h1.6v1.6h-1.6zM563.26,437.15h1.6v1.6h-1.6zM563.35,436.15h1.6v1.6h-1.6zM563.14,435.56h1.6v1.6h-1.6zM563.21,434.26h1.6v1.6h-1.6zM563.38,432.11h1.6v1.6h-1.6zM563.48,430.01h1.6v1.6h-1.6zM563.63,427.98h1.6v1.6h-1.6zM563.6,424.97h1.6v1.6h-1.6zM563.84,421.91h1.6v1.6h-1.6zM563.98,418.6h1.6v1.6h-1.6zM563.84,415.58h1.6v1.6h-1.6zM564.02,412.08h1.6v1.6h-1.6zM563.98,410.51h1.6v1.6h-1.6zM564.25,408.8h1.6v1.6h-1.6zM564,408.48h1.6v1.6h-1.6zM564.09,408.7h1.6v1.6h-1.6zM564.48,409.82h1.6v1.6h-1.6zM564.48,412.39h1.6v1.6h-1.6zM564.45,415.26h1.6v1.6h-1.6zM564.54,418.2h1.6v1.6h-1.6zM564.73,421.96h1.6v1.6h-1.6zM564.6,424.65h1.6v1.6h-1.6zM564.92,427.51h1.6v1.6h-1.6zM564.98,430.16h1.6v1.6h-1.6zM564.85,432.53h1.6v1.6h-1.6zM564.9,434.16h1.6v1.6h-1.6zM565.03,435.58h1.6v1.6h-1.6zM565.42,436.24h1.6v1.6h-1.6zM565.21,437.05h1.6v1.6h-1.6zM593.4,436.06h1.6v1.6h-1.6zM593.4,435.25h1.6v1.6h-1.6zM593.7,433.8h1.6v1.6h-1.6zM593.8,432.08h1.6v1.6h-1.6zM593.81,429.39h1.6v1.6h-1.6zM593.77,425.9h1.6v1.6h-1.6zM593.71,421.05h1.6v1.6h-1.6zM593.9,415.63h1.6v1.6h-1.6zM593.9,407.58h1.6v1.6h-1.6zM593.92,397.29h1.6v1.6h-1.6zM594.3,385.84h1.6v1.6h-1.6zM594.19,372.48h1.6v1.6h-1.6zM594.48,358.62h1.6v1.6h-1.6zM594.23,343.23h1.6v1.6h-1.6zM594.46,328.55h1.6v1.6h-1.6zM594.5,316.12h1.6v1.6h-1.6zM594.69,304.98h1.6v1.6h-1.6zM594.73,297.49h1.6v1.6h-1.6zM594.96,295.81h1.6v1.6h-1.6zM594.83,297.78h1.6v1.6h-1.6zM594.78,305.68h1.6v1.6h-1.6zM595.11,315.86h1.6v1.6h-1.6zM595.1,328.42h1.6v1.6h-1.6zM595.36,343.37h1.6v1.6h-1.6zM595.38,358.31h1.6v1.6h-1.6zM595.29,371.81h1.6v1.6h-1.6zM595.62,385.32h1.6v1.6h-1.6zM595.38,397.88h1.6v1.6h-1.6zM595.63,407.36h1.6v1.6h-1.6zM595.64,414.84h1.6v1.6h-1.6zM595.82,421.66h1.6v1.6h-1.6zM595.94,425.99h1.6v1.6h-1.6zM595.94,429.46h1.6v1.6h-1.6zM596.19,432.02h1.6v1.6h-1.6zM596.2,433.9h1.6v1.6h-1.6zM596.11,435.11h1.6v1.6h-1.6z" fill="#ff0000"/>
<line x1="429.1" y1="440" x2="664.8" y2="440" stroke="#000" stroke-width="1.6"/>
<path d="M428.6,439.97 L428.85,439.94 L429.1,439.86 L429.35,439.63 L429.6,439.16 L429.85,438.53 L430.1,438.04 L430.35,438.11 L430.6,438.65 L430.85,439.27 L431.1,439.68 L431.35,439.87 L431.6,439.93 L431.85,439.95 L432.1,439.96 L432.35,439.96 L432.6,439.95 L432.85,439.95 L433.1,439.94 L433.35,439.92 L433.6,439.85 L433.85,439.64 L434.1,439.1 L434.35,438.08 L434.6,436.81 L434.85,436.02 L435.1,436.38 L435.35,437.57 L435.6,438.75 L435.85,439.48 L436.1,439.79 L436.35,439.89 L436.6,439.92 L436.85,439.93 L437.1,439.93 L437.35,439.91 L437.6,439.85 L437.85,439.66 L438.1,439.21 L438.35,438.48 L438.6,437.73 L438.85,437.51 L439.1,438 L439.35,438.8 L439.6,439.44 L439.85,439.76 L440.1,439.89 L440.35,439.94 L440.6,439.95 L440.85,439.96 L441.1,439.96 L441.35,439.96 L441.6,439.96 L441.85,439.96 L442.1,439.95 L442.35,439.95 L442.6,439.94 L442.85,439.93 L443.1,439.91 L443.35,439.89 L443.6,439.83 L443.85,439.66 L444.1,439.15 L444.35,437.89 L444.6,435.68 L444.85,433.17 L445.1,431.99 L445.35,433.17 L445.6,435.67 L445.85,437.88 L446.1,439.13 L446.35,439.64 L446.6,439.81 L446.85,439.86 L447.1,439.88 L447.35,439.89 L447.6,439.89 L447.85,439.88 L448.1,439.86 L448.35,439.79 L448.6,439.54 L448.85,438.86 L449.1,437.48 L449.35,435.58 L449.6,434.14 L449.85,434.32 L450.1,435.97 L450.35,437.82 L450.6,439.07 L450.85,439.64 L451.1,439.84 L451.35,439.91 L451.6,439.93 L451.85,439.95 L452.1,439.95 L452.35,439.96 L452.6,439.96 L452.85,439.97 L453.1,439.97 L453.35,439.97 L453.6,439.97 L453.85,439.97 L454.1,439.97 L454.35,439.97 L454.6,439.97 L454.85,439.95 L455.1,439.94 L455.35,439.94 L455.6,439.93 L455.85,439.9 L456.1,439.83 L456.35,439.6 L456.6,439.02 L456.85,437.92 L457.1,436.54 L457.35,435.68 L457.6,436.07 L457.85,437.33 L458.1,438.58 L458.35,439.33 L458.6,439.59 L458.85,439.45 L459.1,438.76 L459.35,437.21 L459.6,434.88 L459.85,432.8 L460.1,432.57 L460.35,434.4 L460.6,436.82 L460.85,438.57 L461.1,439.44 L461.35,439.76 L461.6,439.86 L461.85,439.9 L462.1,439.92 L462.35,439.93 L462.6,439.94 L462.85,439.95 L463.1,439.96 L463.35,439.96 L463.6,439.97 L463.85,439.97 L464.1,439.97 L464.35,439.97 L464.6,439.97 L464.85,439.97 L465.1,439.97 L465.35,439.96 L465.6,439.97 L465.85,439.96 L466.1,439.94 L466.35,439.89 L466.6,439.75 L466.85,439.35 L467.1,438.54 L467.35,437.43 L467.6,436.59 L467.85,436.7 L468.1,437.66 L468.35,438.74 L468.6,439.46 L468.85,439.79 L469.1,439.91 L469.35,439.95 L469.6,439.96 L469.85,439.97 L470.1,439.97 L470.35,439.98 L470.6,439.98 L470.85,439.99 L471.1,439.99 L471.35,439.99 L471.6,439.99 L471.85,439.99 L472.1,439.99 L472.35,439.99 L472.6,439.99 L472.85,439.99 L473.1,439.99 L473.35,440 L473.6,440 L473.85,440 L474.1,440 L474.35,440 L474.6,440 L474.85,440 L475.1,440 L475.35,440 L475.6,440 L475.85,440 L476.1,440 L476.35,440 L476.6,440 L476.85,440 L477.1,440 L477.35,440 L477.6,439.96 L477.85,439.96 L478.1,439.96 L478.35,439.95 L478.6,439.94 L478.85,439.94 L479.1,439.93 L479.35,439.92 L479.6,439.91 L479.85,439.89 L480.1,439.87 L480.35,439.85 L480.6,439.81 L480.85,439.77 L481.1,439.7 L481.35,439.56 L481.6,439.16 L481.85,437.91 L482.1,434.67 L482.35,428.57 L482.6,420.88 L482.85,416.12 L483.1,418.31 L483.35,425.46 L483.6,432.52 L483.85,436.86 L484.1,438.74 L484.35,439.37 L484.6,439.56 L484.85,439.64 L485.1,439.67 L485.35,439.68 L485.6,439.68 L485.85,439.65 L486.1,439.59 L486.35,439.42 L486.6,438.86 L486.85,437.18 L487.1,433.29 L487.35,426.96 L487.6,420.56 L487.85,418.6 L488.1,422.86 L488.35,429.76 L488.6,435.23 L488.85,438.12 L489.1,439.24 L489.35,439.6 L489.6,439.73 L489.85,439.79 L490.1,439.83 L490.35,439.86 L490.6,439.88 L490.85,439.9 L491.1,439.92 L491.35,439.93 L491.6,439.94 L491.85,439.94 L492.1,439.95 L492.35,439.96 L492.6,439.96 L492.85,439.96 L493.1,439.97 L493.35,440 L493.6,440 L493.85,440 L494.1,440 L494.35,440 L494.6,440 L494.85,440 L495.1,440 L495.35,440 L495.6,440 L495.85,440 L496.1,440 L496.35,440 L496.6,440 L496.85,440 L497.1,440 L497.35,440 L497.6,440 L497.85,440 L498.1,440 L498.35,440 L498.6,440 L498.85,440 L499.1,440 L499.35,440 L499.6,440 L499.85,440 L500.1,440 L500.35,440 L500.6,440 L500.85,440 L501.1,440 L501.35,440 L501.6,440 L501.85,440 L502.1,440 L502.35,440 L502.6,440 L502.85,439.97 L503.1,439.97 L503.35,439.97 L503.6,439.97 L503.85,439.96 L504.1,439.96 L504.35,439.95 L504.6,439.94 L504.85,439.93 L505.1,439.92 L505.35,439.91 L505.6,439.89 L505.85,439.87 L506.1,439.83 L506.35,439.78 L506.6,439.67 L506.85,439.33 L507.1,438.29 L507.35,435.74 L507.6,431.26 L507.85,426.2 L508.1,423.8 L508.35,426.2 L508.6,431.26 L508.85,435.74 L509.1,438.29 L509.35,439.33 L509.6,439.67 L509.85,439.78 L510.1,439.83 L510.35,439.87 L510.6,439.89 L510.85,439.91 L511.1,439.92 L511.35,439.93 L511.6,439.94 L511.85,439.95 L512.1,439.96 L512.35,439.96 L512.6,439.97 L512.85,439.97 L513.1,439.97 L513.35,439.97 L513.6,440 L513.85,440 L514.1,440 L514.35,440 L514.6,440 L514.85,440 L515.1,440 L515.35,440 L515.6,440 L515.85,440 L516.1,440 L516.35,440 L516.6,440 L516.85,440 L517.1,440 L517.35,440 L517.6,440 L517.85,440 L518.1,440 L518.35,440 L518.6,440 L518.85,440 L519.1,440 L519.35,440 L519.6,440 L519.85,440 L520.1,440 L520.35,440 L520.6,440 L520.85,440 L521.1,440 L521.35,440 L521.6,440 L521.85,440 L522.1,440 L522.35,440 L522.6,440 L522.85,440 L523.1,440 L523.35,440 L523.6,440 L523.85,440 L524.1,440 L524.35,440 L524.6,440 L524.85,440 L525.1,440 L525.35,440 L525.6,440 L525.85,440 L526.1,440 L526.35,440 L526.6,440 L526.85,440 L527.1,440 L527.35,440 L527.6,440 L527.85,440 L528.1,440 L528.35,440 L528.6,440 L528.85,440 L529.1,440 L529.35,440 L529.6,440 L529.85,440 L530.1,440 L530.35,440 L530.6,440 L530.85,440 L531.1,440 L531.35,440 L531.6,440 L531.85,440 L532.1,440 L532.35,440 L532.6,440 L532.85,440 L533.1,440 L533.35,440 L533.6,440 L533.85,440 L534.1,440 L534.35,440 L534.6,440 L534.85,440 L535.1,440 L535.35,440 L535.6,440 L535.85,440 L536.1,440 L536.35,440 L536.6,440 L536.85,440 L537.1,440 L537.35,440 L537.6,440 L537.85,440 L538.1,440 L538.35,440 L538.6,440 L538.85,440 L539.1,440 L539.35,440 L539.6,440 L539.85,440 L540.1,440 L540.35,440 L540.6,440 L540.85,440 L541.1,440 L541.35,440 L541.6,440 L541.85,440 L542.1,440 L542.35,440 L542.6,440 L542.85,440 L543.1,440 L543.35,440 L543.6,440 L543.85,440 L544.1,440 L544.35,440 L544.6,440 L544.85,440 L545.1,440 L545.35,440 L545.6,440 L545.85,440 L546.1,440 L546.35,440 L546.6,440 L546.85,440 L547.1,440 L547.35,440 L547.6,440 L547.85,440 L548.1,440 L548.35,440 L548.6,440 L548.85,440 L549.1,440 L549.35,440 L549.6,440 L549.85,440 L550.1,440 L550.35,440 L550.6,440 L550.85,440 L551.1,440 L551.35,440 L551.6,440 L551.85,440 L552.1,440 L552.35,440 L552.6,440 L552.85,440 L553.1,440 L553.35,440 L553.6,440 L553.85,440 L554.1,440 L554.35,440 L554.6,440 L554.85,440 L555.1,440 L555.35,440 L555.6,440 L555.85,440 L556.1,440 L556.35,440 L556.6,440 L556.85,440 L557.1,440 L557.35,440 L557.6,440 L557.85,440 L558.1,440 L558.35,440 L558.6,440 L558.85,440 L559.1,440 L559.35,440 L559.6,440 L559.85,439.95 L560.1,439.94 L560.35,439.94 L560.6,439.93 L560.85,439.92 L561.1,439.91 L561.35,439.9 L561.6,439.89 L561.85,439.87 L562.1,439.84 L562.35,439.81 L562.6,439.78 L562.85,439.72 L563.1,439.65 L563.35,439.52 L563.6,439.19 L563.85,438.15 L564.1,435.2 L564.35,428.82 L564.6,419.25 L564.85,410.76 L565.1,409.8 L565.35,417.25 L565.6,427.09 L565.85,434.24 L566.1,437.77 L566.35,439.07 L566.6,439.48 L566.85,439.63 L567.1,439.71 L567.35,439.77 L567.6,439.81 L567.85,439.84 L568.1,439.86 L568.35,439.88 L568.6,439.9 L568.85,439.91 L569.1,439.92 L569.35,439.93 L569.6,439.94 L569.85,439.94 L570.1,439.95 L570.35,439.95 L570.6,440 L570.85,440 L571.1,440 L571.35,440 L571.6,440 L571.85,440 L572.1,440 L572.35,440 L572.6,440 L572.85,440 L573.1,440 L573.35,440 L573.6,440 L573.85,440 L574.1,440 L574.35,440 L574.6,440 L574.85,440 L575.1,440 L575.35,440 L575.6,440 L575.85,440 L576.1,440 L576.35,440 L576.6,440 L576.85,440 L577.1,440 L577.35,440 L577.6,440 L577.85,440 L578.1,440 L578.35,440 L578.6,440 L578.85,440 L579.1,440 L579.35,440 L579.6,440 L579.85,440 L580.1,440 L580.35,440 L580.6,440 L580.85,440 L581.1,440 L581.35,440 L581.6,440 L581.85,440 L582.1,440 L582.35,440 L582.6,440 L582.85,440 L583.1,440 L583.35,440 L583.6,440 L583.85,440 L584.1,440 L584.35,440 L584.6,440 L584.85,440 L585.1,440 L585.35,440 L585.6,440 L585.85,440 L586.1,440 L586.35,440 L586.6,440 L586.85,440 L587.1,440 L587.35,440 L587.6,440 L587.85,440 L588.1,440 L588.35,440 L588.6,440 L588.85,440 L589.1,440 L589.35,440 L589.6,440 L589.85,440 L590.1,440 L590.35,439.78 L590.6,439.76 L590.85,439.73 L591.1,439.7 L591.35,439.67 L591.6,439.62 L591.85,439.57 L592.1,439.51 L592.35,439.44 L592.6,439.34 L592.85,439.22 L593.1,439.07 L593.35,438.86 L593.6,438.57 L593.85,438.12 L594.1,437.13 L594.35,434.19 L594.6,425.21 L594.85,403.21 L595.1,364.61 L595.35,320.89 L595.6,300.2 L595.85,320.89 L596.1,364.61 L596.35,403.21 L596.6,425.21 L596.85,434.19 L597.1,437.13 L597.35,438.12 L597.6,438.57 L597.85,438.86 L598.1,439.07 L598.35,439.22 L598.6,439.34 L598.85,439.44 L599.1,439.51 L599.35,439.57 L599.6,439.62 L599.85,439.67 L600.1,439.7 L600.35,439.73 L600.6,439.76 L600.85,439.78 L601.1,440 L601.35,440 L601.6,440 L601.85,440 L602.1,440 L602.35,440 L602.6,440 L602.85,440 L603.1,440 L603.35,440 L603.6,440 L603.85,440 L604.1,440 L604.35,440 L604.6,440 L604.85,440 L605.1,440 L605.35,440 L605.6,440 L605.85,440 L606.1,440 L606.35,440 L606.6,440 L606.85,440 L607.1,440 L607.35,440 L607.6,440 L607.85,440 L608.1,440 L608.35,440 L608.6,440 L608.85,440 L609.1,440 L609.35,440 L609.6,440 L609.85,440 L610.1,440 L610.35,440 L610.6,440 L610.85,440 L611.1,440 L611.35,440 L611.6,440 L611.85,440 L612.1,440 L612.35,440 L612.6,440 L612.85,440 L613.1,440 L613.35,440 L613.6,440 L613.85,440 L614.1,440 L614.35,440 L614.6,440 L614.85,440 L615.1,440 L615.35,440 L615.6,440 L615.85,440 L616.1,440 L616.35,440 L616.6,440 L616.85,440 L617.1,440 L617.35,440 L617.6,440 L617.85,440 L618.1,440 L618.35,440 L618.6,440 L618.85,440 L619.1,440 L619.35,440 L619.6,440 L619.85,440 L620.1,440 L620.35,440 L620.6,440 L620.85,440 L621.1,440 L621.35,440 L621.6,440 L621.85,440 L622.1,440 L622.35,440 L622.6,440 L622.85,440 L623.1,440 L623.35,440 L623.6,440 L623.85,440 L624.1,440 L624.35,440 L624.6,440 L624.85,440 L625.1,440 L625.35,440 L625.6,440 L625.85,440 L626.1,440 L626.35,440 L626.6,440 L626.85,440 L627.1,440 L627.35,440 L627.6,440 L627.85,440 L628.1,440 L628.35,440 L628.6,440 L628.85,440 L629.1,440 L629.35,440 L629.6,440 L629.85,440 L630.1,440 L630.35,440 L630.6,440 L630.85,440 L631.1,440 L631.35,440 L631.6,440 L631.85,440 L632.1,440 L632.35,440 L632.6,440 L632.85,440 L633.1,440 L633.35,440 L633.6,440 L633.85,440 L634.1,440 L634.35,440 L634.6,440 L634.85,440 L635.1,440 L635.35,440 L635.6,440 L635.85,440 L636.1,440 L636.35,440 L636.6,440 L636.85,440 L637.1,440 L637.35,440 L637.6,440 L637.85,440 L638.1,440 L638.35,440 L638.6,440 L638.85,440 L639.1,440 L639.35,440 L639.6,440 L639.85,440 L640.1,440 L640.35,440 L640.6,440 L640.85,440 L641.1,440 L641.35,440 L641.6,440 L641.85,440 L642.1,440 L642.35,440 L642.6,440 L642.85,440 L643.1,440 L643.35,440 L643.6,440 L643.85,440 L644.1,440 L644.35,440 L644.6,440 L644.85,440 L645.1,440 L645.35,440 L645.6,440 L645.85,440 L646.1,440 L646.35,440 L646.6,440 L646.85,440 L647.1,440 L647.35,440 L647.6,440 L647.85,440 L648.1,440 L648.35,440 L648.6,440 L648.85,440 L649.1,440 L649.35,440 L649.6,440 L649.85,440 L650.1,440 L650.35,440 L650.6,440 L650.85,440 L651.1,440 L651.35,440 L651.6,440 L651.85,440 L652.1,440 L652.35,440 L652.6,440 L652.85,440 L653.1,440 L653.35,440 L653.6,440 L653.85,440 L654.1,440 L654.35,440 L654.6,440 L654.85,440 L655.1,440 L655.35,440 L655.6,440 L655.85,440 L656.1,440 L656.35,440 L656.6,440 L656.85,440 L657.1,440 L657.35,440 L657.6,440 L657.85,440 L658.1,440 L658.35,440 L658.6,440 L658.85,440 L659.1,440 L659.35,440 L659.6,440 L659.85,440 L660.1,440 L660.35,440 L660.6,440 L660.85,440 L661.1,440 L661.35,440 L661.6,440 L661.85,440 L662.1,440 L662.35,440 L662.6,440 L662.85,440 L663.1,440 L663.35,440 L663.6,440 L663.85,440 L664.1,440 L664.35,440 L664.6,440 L664.85,440 L665.1,440" fill="none" stroke="#000000" stroke-width="1.15" stroke-linejoin="round"/>
<path d="M429.1,477.02 L429.4,477.12 L429.7,477.16 L430,477.1 L430.3,476.95 L430.6,476.75 L430.9,476.53 L431.2,476.34 L431.5,476.21 L431.8,476.18 L432.1,476.24 L432.4,476.37 L432.7,476.53 L433,476.68 L433.3,476.78 L433.6,476.75 L433.9,476.41 L434.2,475.58 L434.5,474.63 L434.8,474.51 L435.1,475.24 L435.4,475.98 L435.7,476.36 L436,476.6 L436.3,476.82 L436.6,477.03 L436.9,477.19 L437.2,477.26 L437.5,477.23 L437.8,477.12 L438.1,476.96 L438.4,476.78 L438.7,476.64 L439,476.57 L439.3,476.58 L439.6,476.66 L439.9,476.79 L440.2,476.92 L440.5,477.02 L440.8,477.04 L441.1,476.98 L441.4,476.83 L441.7,476.63 L442,476.42 L442.3,476.24 L442.6,476.13 L442.9,476.12 L443.2,476.2 L443.5,476.35 L443.8,476.46 L444.1,476.29 L444.4,475.51 L444.7,474.54 L445,474.5 L445.3,475.4 L445.6,476.17 L445.9,476.4 L446.2,476.41 L446.5,476.44 L446.8,476.55 L447.1,476.72 L447.4,476.93 L447.7,477.12 L448,477.25 L448.3,477.27 L448.6,477.04 L448.9,476.34 L449.2,475.28 L449.5,474.75 L449.8,475.21 L450.1,475.95 L450.4,476.37 L450.7,476.54 L451,476.68 L451.3,476.81 L451.6,476.9 L451.9,476.92 L452.2,476.86 L452.5,476.73 L452.8,476.54 L453.1,476.34 L453.4,476.19 L453.7,476.11 L454,476.12 L454.3,476.23 L454.6,476.41 L454.9,476.61 L455.2,476.8 L455.5,476.93 L455.8,476.98 L456.1,476.94 L456.4,476.84 L456.7,476.71 L457,476.59 L457.3,476.53 L457.6,476.54 L457.9,476.64 L458.2,476.79 L458.5,476.96 L458.8,477 L459.1,476.61 L459.4,475.68 L459.7,475.11 L460,475.82 L460.3,476.86 L460.6,477.06 L460.9,476.69 L461.2,476.43 L461.5,476.38 L461.8,476.44 L462.1,476.57 L462.4,476.7 L462.7,476.8 L463,476.84 L463.3,476.79 L463.6,476.67 L463.9,476.5 L464.2,476.33 L464.5,476.2 L464.8,476.14 L465.1,476.18 L465.4,476.31 L465.7,476.5 L466,476.72 L466.3,476.92 L466.6,477.05 L466.9,477.1 L467.2,477.06 L467.5,476.95 L467.8,476.81 L468.1,476.68 L468.4,476.6 L468.7,476.6 L469,476.68 L469.3,476.81 L469.6,476.98 L469.9,477.13 L470.2,477.21 L470.5,477.21 L470.8,477.12 L471.1,476.94 L471.4,476.73 L471.7,476.51 L472,476.34 L472.3,476.25 L472.6,476.26 L472.9,476.34 L473.2,476.48 L473.5,476.63 L473.8,476.75 L474.1,476.8 L474.4,476.77 L474.7,476.67 L475,476.52 L475.3,476.37 L475.6,476.26 L475.9,476.22 L476.2,476.28 L476.5,476.42 L476.8,476.63 L477.1,476.85 L477.4,477.04 L477.7,477.17 L478,477.2 L478.3,477.15 L478.6,477.02 L478.9,476.86 L479.2,476.71 L479.5,476.62 L479.8,476.6 L480.1,476.66 L480.4,476.78 L480.7,476.92 L481,477.05 L481.3,477.12 L481.6,477.1 L481.9,477 L482.2,476.82 L482.5,476.6 L482.8,476.39 L483.1,476.23 L483.4,476.16 L483.7,476.18 L484,476.29 L484.3,476.44 L484.6,476.61 L484.9,476.75 L485.2,476.82 L485.5,476.81 L485.8,476.72 L486.1,476.59 L486.4,476.46 L486.7,476.36 L487,476.34 L487.3,476.4 L487.6,476.55 L487.9,476.75 L488.2,476.97 L488.5,477.15 L488.8,477.26 L489.1,477.27 L489.4,477.19 L489.7,477.04 L490,476.86 L490.3,476.69 L490.6,476.58 L490.9,476.54 L491.2,476.59 L491.5,476.69 L491.8,476.83 L492.1,476.94 L492.4,477 L492.7,476.98 L493,476.87 L493.3,476.7 L493.6,476.49 L493.9,476.29 L494.2,476.16 L494.5,476.11 L494.8,476.15 L495.1,476.28 L495.4,476.46 L495.7,476.65 L496,476.81 L496.3,476.89 L496.6,476.89 L496.9,476.82 L497.2,476.7 L497.5,476.57 L497.8,476.48 L498.1,476.46 L498.4,476.52 L498.7,476.66 L499,476.85 L499.3,477.05 L499.6,477.21 L499.9,477.29 L500.2,477.28 L500.5,477.18 L500.8,477.01 L501.1,476.8 L501.4,476.62 L501.7,476.49 L502,476.44 L502.3,476.48 L502.6,476.58 L502.9,476.71 L503.2,476.83 L503.5,476.89 L503.8,476.87 L504.1,476.78 L504.4,476.61 L504.7,476.42 L505,476.25 L505.3,476.14 L505.6,476.11 L505.9,476.18 L506.2,476.33 L506.5,476.43 L506.8,476.07 L507.1,474.39 L507.4,471.66 L507.7,470.56 L508,472.5 L508.3,475.07 L508.6,476.29 L508.9,476.53 L509.2,476.55 L509.5,476.6 L509.8,476.73 L510.1,476.9 L510.4,477.07 L510.7,477.21 L511,477.27 L511.3,477.24 L511.6,477.11 L511.9,476.92 L512.2,476.7 L512.5,476.5 L512.8,476.37 L513.1,476.32 L513.4,476.36 L513.7,476.47 L514,476.61 L514.3,476.74 L514.6,476.81 L514.9,476.81 L515.2,476.73 L515.5,476.58 L515.8,476.41 L516.1,476.26 L516.4,476.17 L516.7,476.17 L517,476.26 L517.3,476.44 L517.6,476.65 L517.9,476.87 L518.2,477.03 L518.5,477.12 L518.8,477.12 L519.1,477.04 L519.4,476.9 L519.7,476.76 L520,476.64 L520.3,476.6 L520.6,476.63 L520.9,476.74 L521.2,476.89 L521.5,477.04 L521.8,477.16 L522.1,477.2 L522.4,477.14 L522.7,477 L523,476.8 L523.3,476.57 L523.6,476.38 L523.9,476.25 L524.2,476.21 L524.5,476.27 L524.8,476.39 L525.1,476.55 L525.4,476.69 L525.7,476.78 L526,476.8 L526.3,476.73 L526.6,476.61 L526.9,476.46 L527.2,476.33 L527.5,476.26 L527.8,476.28 L528.1,476.38 L528.4,476.56 L528.7,476.78 L529,476.99 L529.3,477.15 L529.6,477.23 L529.9,477.21 L530.2,477.11 L530.5,476.95 L530.8,476.79 L531.1,476.65 L531.4,476.59 L531.7,476.6 L532,476.69 L532.3,476.83 L532.6,476.96 L532.9,477.06 L533.2,477.09 L533.5,477.02 L533.8,476.87 L534.1,476.67 L534.4,476.45 L534.7,476.27 L535,476.16 L535.3,476.14 L535.6,476.21 L535.9,476.36 L536.2,476.54 L536.5,476.7 L536.8,476.81 L537.1,476.84 L537.4,476.8 L537.7,476.69 L538,476.55 L538.3,476.44 L538.6,476.37 L538.9,476.4 L539.2,476.51 L539.5,476.68 L539.8,476.89 L540.1,477.09 L540.4,477.23 L540.7,477.29 L541,477.25 L541.3,477.12 L541.6,476.94 L541.9,476.76 L542.2,476.61 L542.5,476.52 L542.8,476.53 L543.1,476.6 L543.4,476.73 L543.7,476.85 L544,476.95 L544.3,476.97 L544.6,476.9 L544.9,476.76 L545.2,476.57 L545.5,476.36 L545.8,476.2 L546.1,476.11 L546.4,476.12 L546.7,476.22 L547,476.38 L547.3,476.58 L547.6,476.77 L547.9,476.89 L548.2,476.94 L548.5,476.9 L548.8,476.8 L549.1,476.67 L549.4,476.55 L549.7,476.49 L550,476.51 L550.3,476.61 L550.6,476.77 L550.9,476.97 L551.2,477.15 L551.5,477.27 L551.8,477.29 L552.1,477.23 L552.4,477.08 L552.7,476.88 L553,476.67 L553.3,476.51 L553.6,476.42 L553.9,476.42 L554.2,476.49 L554.5,476.61 L554.8,476.74 L555.1,476.84 L555.4,476.87 L555.7,476.81 L556,476.68 L556.3,476.51 L556.6,476.33 L556.9,476.18 L557.2,476.12 L557.5,476.15 L557.8,476.28 L558.1,476.46 L558.4,476.68 L558.7,476.87 L559,477.01 L559.3,477.05 L559.6,477.01 L559.9,476.91 L560.2,476.77 L560.5,476.65 L560.8,476.58 L561.1,476.58 L561.4,476.67 L561.7,476.82 L562,476.99 L562.3,477.14 L562.6,477.24 L562.9,477.24 L563.2,477.15 L563.5,476.98 L563.8,476.77 L564.1,476.58 L564.4,476.54 L564.7,476.99 L565,478.07 L565.3,478.96 L565.6,478.65 L565.9,477.67 L566.2,477.04 L566.5,476.85 L566.8,476.77 L567.1,476.66 L567.4,476.5 L567.7,476.35 L568,476.23 L568.3,476.19 L568.6,476.24 L568.9,476.38 L569.2,476.58 L569.5,476.8 L569.8,477 L570.1,477.13 L570.4,477.17 L570.7,477.12 L571,477 L571.3,476.84 L571.6,476.71 L571.9,476.62 L572.2,476.61 L572.5,476.67 L572.8,476.8 L573.1,476.95 L573.4,477.09 L573.7,477.16 L574,477.15 L574.3,477.04 L574.6,476.86 L574.9,476.64 L575.2,476.43 L575.5,476.27 L575.8,476.19 L576.1,476.21 L576.4,476.3 L576.7,476.46 L577,476.62 L577.3,476.74 L577.6,476.81 L577.9,476.79 L578.2,476.69 L578.5,476.56 L578.8,476.42 L579.1,476.32 L579.4,476.29 L579.7,476.36 L580,476.5 L580.3,476.71 L580.6,476.93 L580.9,477.11 L581.2,477.23 L581.5,477.25 L581.8,477.18 L582.1,477.04 L582.4,476.87 L582.7,476.71 L583,476.6 L583.3,476.57 L583.6,476.62 L583.9,476.73 L584.2,476.87 L584.5,476.99 L584.8,477.05 L585.1,477.03 L585.4,476.92 L585.7,476.74 L586,476.52 L586.3,476.32 L586.6,476.18 L586.9,476.12 L587.2,476.16 L587.5,476.28 L587.8,476.45 L588.1,476.63 L588.4,476.78 L588.7,476.86 L589,476.86 L589.3,476.78 L589.6,476.65 L589.9,476.52 L590.2,476.43 L590.5,476.41 L590.8,476.48 L591.1,476.62 L591.4,476.82 L591.7,477.02 L592,477.19 L592.3,477.29 L592.6,477.28 L592.9,477.19 L593.2,477.02 L593.5,476.83 L593.8,476.63 L594.1,476.31 L594.4,475.31 L594.7,473.07 L595,471.28 L595.3,473.23 L595.6,477.52 L595.9,479.34 L596.2,478.4 L596.5,477.24 L596.8,476.71 L597.1,476.45 L597.4,476.26 L597.7,476.14 L598,476.1 L598.3,476.17 L598.6,476.31 L598.9,476.51 L599.2,476.71 L599.5,476.87 L599.8,476.96 L600.1,476.96 L600.4,476.89 L600.7,476.77 L601,476.64 L601.3,476.54 L601.6,476.52 L601.9,476.58 L602.2,476.71 L602.5,476.89 L602.8,477.07 L603.1,477.22 L603.4,477.29 L603.7,477.26 L604,477.14 L604.3,476.95 L604.6,476.74 L604.9,476.55 L605.2,476.42 L605.5,476.37 L605.8,476.41 L606.1,476.51 L606.4,476.65 L606.7,476.77 L607,476.84 L607.3,476.83 L607.6,476.74 L607.9,476.59 L608.2,476.41 L608.5,476.25 L608.8,476.15 L609.1,476.14 L609.4,476.23 L609.7,476.4 L610,476.61 L610.3,476.82 L610.6,476.99 L610.9,477.08 L611.2,477.08 L611.5,477 L611.8,476.87 L612.1,476.73 L612.4,476.62 L612.7,476.59 L613,476.63 L613.3,476.74 L613.6,476.9 L613.9,477.06 L614.2,477.19 L614.5,477.23 L614.8,477.18 L615.1,477.04 L615.4,476.84 L615.7,476.62 L616,476.42 L616.3,476.29 L616.6,476.25 L616.9,476.3 L617.2,476.42 L617.5,476.57 L617.8,476.7 L618.1,476.79 L618.4,476.79 L618.7,476.72 L619,476.59 L619.3,476.43 L619.6,476.3 L619.9,476.22 L620.2,476.23 L620.5,476.34 L620.8,476.52 L621.1,476.73 L621.4,476.95 L621.7,477.11 L622,477.19 L622.3,477.18 L622.6,477.08 L622.9,476.94 L623.2,476.78 L623.5,476.66 L623.8,476.6 L624.1,476.62 L624.4,476.72 L624.7,476.86 L625,477 L625.3,477.1 L625.6,477.13 L625.9,477.07 L626.2,476.92 L626.5,476.71 L626.8,476.49 L627.1,476.31 L627.4,476.19 L627.7,476.16 L628,476.23 L628.3,476.37 L628.6,476.54 L628.9,476.69 L629.2,476.79 L629.5,476.82 L629.8,476.77 L630.1,476.65 L630.4,476.51 L630.7,476.39 L631,476.33 L631.3,476.35 L631.6,476.46 L631.9,476.64 L632.2,476.86 L632.5,477.06" fill="none" stroke="#0000ff" stroke-width="1.35" stroke-dasharray="3,1.4"/>
<path d="M434.3,476.7 L434.8,474.7 L435.2,476.7" fill="none" stroke="#0000ff" stroke-width="1.2" stroke-linejoin="round"/>
<path d="M444.5,476.7 L445,474.2 L445.4,476.7" fill="none" stroke="#0000ff" stroke-width="1.2" stroke-linejoin="round"/>
<path d="M449.1,476.7 L449.6,474.7 L450,476.7" fill="none" stroke="#0000ff" stroke-width="1.2" stroke-linejoin="round"/>
<path d="M459.4,476.7 L459.9,474.2 L460.3,477.7" fill="none" stroke="#0000ff" stroke-width="1.2" stroke-linejoin="round"/>
<path d="M507.3,476.7 L507.8,470.2 L508.2,476.7" fill="none" stroke="#0000ff" stroke-width="1.2" stroke-linejoin="round"/>
<path d="M564.5,476.7 L565,476.7 L565.4,479.3" fill="none" stroke="#0000ff" stroke-width="1.2" stroke-linejoin="round"/>
<path d="M594.8,476.7 L595.3,469.7 L595.7,481.1" fill="none" stroke="#0000ff" stroke-width="1.2" stroke-linejoin="round"/>
<line x1="634.4" y1="476.7" x2="637.8" y2="476.7" stroke="#0000ff" stroke-width="1.35"/>
<line x1="642.8" y1="476.7" x2="646.6" y2="476.7" stroke="#0000ff" stroke-width="1.35"/>
<line x1="651.9" y1="476.7" x2="655.7" y2="476.7" stroke="#0000ff" stroke-width="1.35"/>
<line x1="661.1" y1="476.7" x2="664.5" y2="476.7" stroke="#0000ff" stroke-width="1.35"/>
</g>
</svg>
</body></html>
